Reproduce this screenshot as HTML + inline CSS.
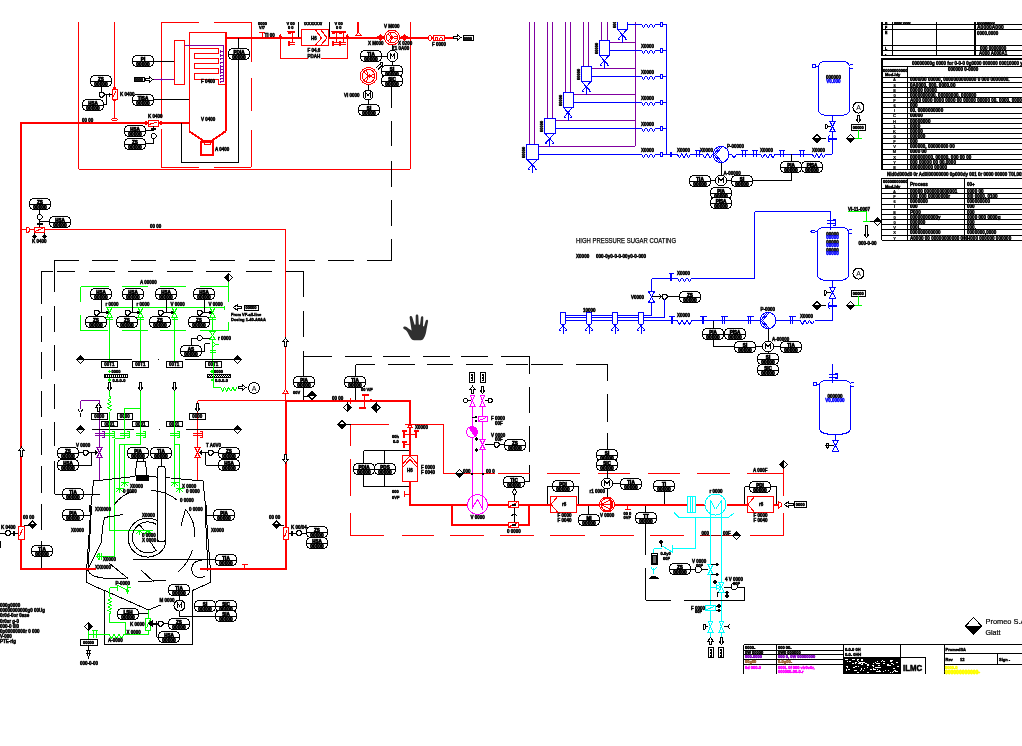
<!DOCTYPE html>
<html><head><meta charset="utf-8"><title>P&amp;ID</title>
<style>html,body{margin:0;padding:0;background:#fff;overflow:hidden}svg{display:block;will-change:transform}text{font-family:"Liberation Sans",sans-serif}</style>
</head><body>
<svg width="1022" height="746" viewBox="0 0 1022 746" shape-rendering="crispEdges" fill="none" stroke-linecap="butt">
<rect x="0" y="0" width="1022" height="746" fill="#fff"/>
<clipPath id="cp"><rect x="0" y="22" width="1022" height="724"/></clipPath>
<g clip-path="url(#cp)">
<path d="M78.5 22L78.5 169" stroke="#ff0000" stroke-width="1"/>
<path d="M78.5 169.5L410 169.5" stroke="#ff0000" stroke-width="1"/>
<path d="M410.5 169L410.5 22" stroke="#ff0000" stroke-width="1"/>
<path d="M161.5 22L161.5 118" stroke="#ff0000" stroke-width="1"/>
<path d="M161.5 129L161.5 167" stroke="#ff0000" stroke-width="1"/>
<path d="M161 22.5L199 22.5" stroke="#ff0000" stroke-width="1"/>
<path d="M214 22.5L251 22.5" stroke="#ff0000" stroke-width="1"/>
<path d="M161 167.5L199 167.5" stroke="#ff0000" stroke-width="1"/>
<path d="M214 167.5L251 167.5" stroke="#ff0000" stroke-width="1"/>
<path d="M251.5 22L251.5 62" stroke="#ff0000" stroke-width="1"/>
<path d="M251.5 77.5L251.5 111" stroke="#ff0000" stroke-width="1"/>
<path d="M251.5 130L251.5 167" stroke="#ff0000" stroke-width="1"/>
<path d="M114.5 22L114.5 120" stroke="#ff0000" stroke-width="1"/>
<rect x="112.5" y="89.5" width="5" height="10" stroke="#ff0000" stroke-width="1" fill="#fff"/>
<path d="M113 97L116 91" stroke="#ff0000" stroke-width="1"/>
<path d="M114.5 87 L115.5 88 L114.5 89 L113.5 88 Z" stroke="#ff0000" stroke-width="1" fill="#ff0000" />
<path d="M114.5 99.5 L115.5 100.5 L114.5 101.5 L113.5 100.5 Z" stroke="#ff0000" stroke-width="1" fill="#ff0000" />
<ellipse cx="114.5" cy="119.5" rx="3" ry="1" stroke="#f00" fill="#fff"/>
<path d="M20 123L189 123" stroke="#ff0000" stroke-width="2"/>
<path d="M21 121.5L21 569" stroke="#ff0000" stroke-width="2"/>
<path d="M189.5 131L189.5 32.5" stroke="#ff0000" stroke-width="1"/>
<path d="M189 32.5L226 32.5" stroke="#ff0000" stroke-width="1"/>
<path d="M226 32L226 131" stroke="#ff0000" stroke-width="2"/>
<path d="M189 131 L203 140.5 L212 140.5 L226 131" stroke="#ff0000" stroke-width="2" fill="none" />
<rect x="201" y="142" width="12" height="13" stroke="#ff0000" stroke-width="2" fill="none"/>
<rect x="204.5" y="141.5" width="6" height="3" stroke="#ff0000" stroke-width="1" fill="none"/>
<path d="M226 38L375 38" stroke="#ff0000" stroke-width="2"/>
<rect x="174.5" y="40.5" width="10" height="44" stroke="#ff0000" stroke-width="1" fill="none"/>
<path d="M189.5 48.5 L218.5 48.5 L218.5 53.5 L194.5 53.5 L194.5 58.5 L218.5 58.5 L218.5 63.5 L194.5 63.5 L194.5 68.5 L218.5 68.5 L218.5 73.5 L194.5 73.5 L194.5 79.5 L218.5 79.5 L218.5 84.5 L226 84.5" stroke="#ff0000" stroke-width="1" fill="none" />
<path d="M184.5 45.5L223.5 45.5" stroke="#8000a0" stroke-width="1"/>
<path d="M223.5 45.5L223.5 82" stroke="#8000a0" stroke-width="1"/>
<path d="M220.5 51.5L223.5 51.5" stroke="#8000a0" stroke-width="1"/>
<path d="M220.5 50L220.5 52.5" stroke="#8000a0" stroke-width="1"/>
<path d="M220.5 55.5L223.5 55.5" stroke="#8000a0" stroke-width="1"/>
<path d="M220.5 54L220.5 56.5" stroke="#8000a0" stroke-width="1"/>
<path d="M220.5 58.5L223.5 58.5" stroke="#8000a0" stroke-width="1"/>
<path d="M220.5 57.5L220.5 60" stroke="#8000a0" stroke-width="1"/>
<path d="M220.5 62.5L223.5 62.5" stroke="#8000a0" stroke-width="1"/>
<path d="M220.5 61.5L220.5 64" stroke="#8000a0" stroke-width="1"/>
<path d="M220.5 66.5L223.5 66.5" stroke="#8000a0" stroke-width="1"/>
<path d="M220.5 65L220.5 67.5" stroke="#8000a0" stroke-width="1"/>
<path d="M220.5 69.5L223.5 69.5" stroke="#8000a0" stroke-width="1"/>
<path d="M220.5 68L220.5 70.5" stroke="#8000a0" stroke-width="1"/>
<path d="M220.5 72.5L223.5 72.5" stroke="#8000a0" stroke-width="1"/>
<path d="M220.5 71L220.5 73.5" stroke="#8000a0" stroke-width="1"/>
<path d="M220.5 75.5L223.5 75.5" stroke="#8000a0" stroke-width="1"/>
<path d="M220.5 74.5L220.5 77" stroke="#8000a0" stroke-width="1"/>
<path d="M220.5 78.5L223.5 78.5" stroke="#8000a0" stroke-width="1"/>
<path d="M220.5 77.5L220.5 80" stroke="#8000a0" stroke-width="1"/>
<path d="M220.5 81.5L223.5 81.5" stroke="#8000a0" stroke-width="1"/>
<path d="M220.5 80.5L220.5 83" stroke="#8000a0" stroke-width="1"/>
<path d="M153 79.5L174 79.5" stroke="#8000a0" stroke-width="1"/>
<path d="M161.5 78L161.5 80.5" stroke="#8000a0" stroke-width="1"/>
<path d="M153 61.5L174 61.5" stroke="#000000" stroke-width="1"/>
<path d="M153 99.5L189 99.5" stroke="#000000" stroke-width="1"/>
<path d="M181.5 123L181.5 162" stroke="#000000" stroke-width="1"/>
<path d="M181 162.5L238.5 162.5" stroke="#000000" stroke-width="1"/>
<path d="M238.5 162L238.5 38" stroke="#000000" stroke-width="1"/>
<rect x="228.5" y="48.5" width="21" height="11" rx="4.5" ry="4.5" stroke="#000" fill="#fff"/>
<path d="M228.5 54.5L249.5 54.5" stroke="#000000" stroke-width="1"/>
<text x="239" y="53.5" font-size="4.6" fill="#000000" font-weight="bold" text-anchor="middle" stroke="#000" stroke-width="0.7">PDIA</text>
<text x="239" y="58.8" font-size="4.8" fill="#000000" font-weight="bold" text-anchor="middle" stroke="#000" stroke-width="0.7">00000</text>
<rect x="132.5" y="55.5" width="21" height="11" rx="4.5" ry="4.5" stroke="#000" fill="#fff"/>
<path d="M132.5 61.5L153.5 61.5" stroke="#000000" stroke-width="1"/>
<text x="143" y="60.5" font-size="4.6" fill="#000000" font-weight="bold" text-anchor="middle" stroke="#000" stroke-width="0.7">PI</text>
<text x="143" y="65.8" font-size="4.8" fill="#000000" font-weight="bold" text-anchor="middle" stroke="#000" stroke-width="0.7">00000</text>
<rect x="132.5" y="94.5" width="21" height="11" rx="4.5" ry="4.5" stroke="#000" fill="#fff"/>
<path d="M132.5 100.5L153.5 100.5" stroke="#000000" stroke-width="1"/>
<text x="143" y="99.5" font-size="4.6" fill="#000000" font-weight="bold" text-anchor="middle" stroke="#000" stroke-width="0.7">TISA</text>
<text x="143" y="104.8" font-size="4.8" fill="#000000" font-weight="bold" text-anchor="middle" stroke="#000" stroke-width="0.7">00000</text>
<rect x="134.5" y="77.5" width="10" height="4" stroke="#000000" stroke-width="1" fill="none"/>
<text x="139" y="81.05" font-size="3.5" fill="#000000" font-weight="bold" text-anchor="middle"  stroke="#000000" stroke-width="0.45">0000</text>
<path d="M145 78.5 L145 80.5 L149.5 80.5 L149.5 82 L153 79.5 L149.5 77 L149.5 78.5 Z" stroke="#000000" stroke-width="1" fill="#fff" />
<rect x="90.5" y="75.5" width="21" height="11" rx="4.5" ry="4.5" stroke="#000" fill="#fff"/>
<path d="M90.5 81.5L111.5 81.5" stroke="#000000" stroke-width="1"/>
<text x="101" y="80.5" font-size="4.6" fill="#000000" font-weight="bold" text-anchor="middle" stroke="#000" stroke-width="0.7">ZS</text>
<text x="101" y="85.8" font-size="4.8" fill="#000000" font-weight="bold" text-anchor="middle" stroke="#000" stroke-width="0.7">00000</text>
<rect x="82.5" y="99.5" width="21" height="11" rx="4.5" ry="4.5" stroke="#000" fill="#fff"/>
<path d="M82.5 105.5L103.5 105.5" stroke="#000000" stroke-width="1"/>
<text x="93" y="104.5" font-size="4.6" fill="#000000" font-weight="bold" text-anchor="middle" stroke="#000" stroke-width="0.7">HSA</text>
<text x="93" y="109.8" font-size="4.8" fill="#000000" font-weight="bold" text-anchor="middle" stroke="#000" stroke-width="0.7">00000</text>
<path d="M101.5 86.5L101.5 92" stroke="#000000" stroke-width="1"/>
<path d="M100.46 92 L102.54 92 L104 93.46 L104 95.54 L102.54 97 L100.46 97 L99 95.54 L99 93.46 Z" stroke="#000000" stroke-width="1" fill="#fff" />
<path d="M104 94.5L112 94.5" stroke="#000000" stroke-width="1"/>
<path d="M103.5 104.5L106 104.5" stroke="#000000" stroke-width="1"/>
<path d="M106.5 104.5L106.5 95" stroke="#000000" stroke-width="1"/>
<path d="M109.5 92.5L109.5 96.5" stroke="#000000" stroke-width="1"/>
<text x="120" y="96" font-size="4.5" fill="#000000" font-weight="bold" text-anchor="start"  stroke="#000000" stroke-width="0.45">K 0400</text>
<rect x="148.5" y="120.5" width="10" height="6" stroke="#ff0000" stroke-width="1" fill="#fff"/>
<path d="M149 124.5L157 122" stroke="#ff0000" stroke-width="1"/>
<path d="M146 121.5 L147.5 123 L146 124.5 L144.5 123 Z" stroke="#ff0000" stroke-width="1" fill="#ff0000" />
<path d="M161 121.5 L162.5 123 L161 124.5 L159.5 123 Z" stroke="#ff0000" stroke-width="1" fill="#ff0000" />
<path d="M153.5 126L153.5 131" stroke="#000000" stroke-width="1"/>
<path d="M151 129L155.5 129" stroke="#000000" stroke-width="2"/>
<path d="M152.46 133.5 L154.54 133.5 L156 134.96 L156 137.04 L154.54 138.5 L152.46 138.5 L151 137.04 L151 134.96 Z" stroke="#000000" stroke-width="1" fill="#fff" />
<rect x="124.5" y="125.5" width="21" height="11" rx="4.5" ry="4.5" stroke="#000" fill="#fff"/>
<path d="M124.5 131.5L145.5 131.5" stroke="#000000" stroke-width="1"/>
<text x="135" y="130.5" font-size="4.6" fill="#000000" font-weight="bold" text-anchor="middle" stroke="#000" stroke-width="0.7">HSA</text>
<text x="135" y="135.8" font-size="4.8" fill="#000000" font-weight="bold" text-anchor="middle" stroke="#000" stroke-width="0.7">00000</text>
<rect x="124.5" y="138.5" width="21" height="11" rx="4.5" ry="4.5" stroke="#000" fill="#fff"/>
<path d="M124.5 144.5L145.5 144.5" stroke="#000000" stroke-width="1"/>
<text x="135" y="143.5" font-size="4.6" fill="#000000" font-weight="bold" text-anchor="middle" stroke="#000" stroke-width="0.7">ZS</text>
<text x="135" y="148.8" font-size="4.8" fill="#000000" font-weight="bold" text-anchor="middle" stroke="#000" stroke-width="0.7">00000</text>
<path d="M145 130.5L153 130.5" stroke="#000000" stroke-width="1"/>
<path d="M145 143.5L153.5 143.5" stroke="#000000" stroke-width="1"/>
<path d="M153.5 143.5L153.5 138.5" stroke="#000000" stroke-width="1"/>
<text x="148" y="117.5" font-size="4.5" fill="#000000" font-weight="bold" text-anchor="start"  stroke="#000000" stroke-width="0.45">K 0400</text>
<text x="82" y="122" font-size="4.5" fill="#000000" font-weight="bold" text-anchor="start"  stroke="#000000" stroke-width="0.45">00 00</text>
<text x="201" y="83" font-size="4.5" fill="#000000" font-weight="bold" text-anchor="start"  stroke="#000000" stroke-width="0.45">F 0400</text>
<text x="201" y="121" font-size="4.5" fill="#000000" font-weight="bold" text-anchor="start"  stroke="#000000" stroke-width="0.45">V 0400</text>
<text x="215" y="151" font-size="4.5" fill="#000000" font-weight="bold" text-anchor="start"  stroke="#000000" stroke-width="0.45">A 0400</text>
<text x="258" y="24.5" font-size="4" fill="#000000" font-weight="bold" text-anchor="start"  stroke="#000000" stroke-width="0.45">0000</text>
<text x="259" y="28.5" font-size="4" fill="#000000" font-weight="bold" text-anchor="start"  stroke="#000000" stroke-width="0.45">V/7</text>
<path d="M262.5 32L262.5 37" stroke="#ff0000" stroke-width="1"/>
<path d="M259 32.5L265 32.5" stroke="#ff0000" stroke-width="1"/>
<text x="264.5" y="37" font-size="4.5" fill="#000000" font-weight="bold" text-anchor="start"  stroke="#000000" stroke-width="0.45">TI 00</text>
<path d="M280.5 38L280.5 58.5" stroke="#ff0000" stroke-width="1"/>
<path d="M280 58.5L307.5 58.5" stroke="#ff0000" stroke-width="1"/>
<path d="M320.5 58.5L347.5 58.5" stroke="#ff0000" stroke-width="1"/>
<path d="M347.5 58.5L347.5 38" stroke="#ff0000" stroke-width="1"/>
<path d="M279 37 L280.5 35 L282 37 Z" stroke="#ff0000" stroke-width="1" fill="#ff0000" />
<path d="M346 37 L347.5 35 L349 37 Z" stroke="#ff0000" stroke-width="1" fill="#ff0000" />
<text x="314" y="58" font-size="4.5" fill="#000000" font-weight="bold" text-anchor="middle"  stroke="#000000" stroke-width="0.45">PDAH</text>
<text x="314" y="52" font-size="4.5" fill="#000000" font-weight="bold" text-anchor="middle"  stroke="#000000" stroke-width="0.45">F 04.6</text>
<path d="M292.5 31L292.5 43" stroke="#ff0000" stroke-width="1"/>
<path d="M288 32L295 32" stroke="#ff0000" stroke-width="2"/>
<path d="M288 31L290 34" stroke="#ff0000" stroke-width="2"/>
<path d="M289 42.5L295 42.5" stroke="#ff0000" stroke-width="1"/>
<path d="M289 44.5L295 44.5" stroke="#ff0000" stroke-width="1"/>
<rect x="288" y="41" width="2" height="5" stroke="#ff0000" stroke-width="0" fill="#ff0000"/>
<text x="286.5" y="25" font-size="4" fill="#000000" font-weight="bold" text-anchor="start"  stroke="#000000" stroke-width="0.45">V 00</text>
<text x="288" y="28.5" font-size="4" fill="#000000" font-weight="bold" text-anchor="start"  stroke="#000000" stroke-width="0.45">0 0</text>
<rect x="301.5" y="29.5" width="27" height="16" stroke="#ff0000" stroke-width="1" fill="#fff"/>
<path d="M315.5 30 L321.5 38 L315.5 45" stroke="#ff0000" stroke-width="1" fill="none" />
<path d="M321 30 L327 38 L321 45" stroke="#ff0000" stroke-width="1" fill="none" />
<text x="311" y="39.5" font-size="4.5" fill="#000000" font-weight="bold" text-anchor="start"  stroke="#000000" stroke-width="0.45">H6</text>
<path d="M298.5 22L298.5 37" stroke="#000000" stroke-width="1"/>
<path d="M329.5 22L329.5 37" stroke="#000000" stroke-width="1"/>
<text x="304" y="25" font-size="4" fill="#000000" font-weight="bold" text-anchor="start"  stroke="#000000" stroke-width="0.45">\XXXXXX/</text>
<path d="M336.5 31L336.5 43" stroke="#ff0000" stroke-width="1"/>
<path d="M332 32L339 32" stroke="#ff0000" stroke-width="2"/>
<path d="M332 31L334 34" stroke="#ff0000" stroke-width="2"/>
<path d="M333 42.5L339 42.5" stroke="#ff0000" stroke-width="1"/>
<path d="M333 44.5L339 44.5" stroke="#ff0000" stroke-width="1"/>
<rect x="332" y="41" width="2" height="5" stroke="#ff0000" stroke-width="0" fill="#ff0000"/>
<path d="M343.5 31L343.5 43" stroke="#ff0000" stroke-width="1"/>
<path d="M339 32L346 32" stroke="#ff0000" stroke-width="2"/>
<path d="M339 31L341 34" stroke="#ff0000" stroke-width="2"/>
<path d="M340 42.5L346 42.5" stroke="#ff0000" stroke-width="1"/>
<path d="M340 44.5L346 44.5" stroke="#ff0000" stroke-width="1"/>
<rect x="339" y="41" width="2" height="5" stroke="#ff0000" stroke-width="0" fill="#ff0000"/>
<text x="334.5" y="25" font-size="4" fill="#000000" font-weight="bold" text-anchor="start"  stroke="#000000" stroke-width="0.45">V 00</text>
<text x="336" y="28.5" font-size="4" fill="#000000" font-weight="bold" text-anchor="start"  stroke="#000000" stroke-width="0.45">0 0</text>
<path d="M358 22L358 33" stroke="#ff0000" stroke-width="2"/>
<path d="M358.5 32.5 L355.5 35.5 L361.5 35.5 Z" stroke="#ff0000" stroke-width="1" fill="#fff" />
<path d="M355 35.5L362 35.5" stroke="#ff0000" stroke-width="1"/>
<path d="M375 38L453 38" stroke="#ff0000" stroke-width="2"/>
<circle cx="392" cy="37.5" r="7.5" stroke="#ff0000" stroke-width="1" fill="#fff"/>
<circle cx="392" cy="37.5" r="5.5" stroke="#ff0000" stroke-width="1" fill="none"/>
<path d="M392 37.5 L397.31 38.92 L397.31 36.08 Z" stroke="#ff0000" stroke-width="1" fill="none" />
<path d="M392 37.5 L390.12 32.33 L387.79 33.96 Z" stroke="#ff0000" stroke-width="1" fill="none" />
<path d="M392 37.5 L387.79 41.04 L390.12 42.67 Z" stroke="#ff0000" stroke-width="1" fill="none" />
<path d="M377 37.5 L380 35 L380 40 Z" stroke="#ff0000" stroke-width="1" fill="#ff0000" />
<path d="M384 37.5 L381 35 L381 40 Z" stroke="#ff0000" stroke-width="1" fill="#ff0000" />
<path d="M401 37.5 L404 35 L404 40 Z" stroke="#ff0000" stroke-width="1" fill="#ff0000" />
<path d="M408 37.5 L405 35 L405 40 Z" stroke="#ff0000" stroke-width="1" fill="#ff0000" />
<text x="384" y="27.5" font-size="4.5" fill="#000000" font-weight="bold" text-anchor="start"  stroke="#000000" stroke-width="0.45">V M000</text>
<text x="368" y="45" font-size="4.5" fill="#000000" font-weight="bold" text-anchor="start"  stroke="#000000" stroke-width="0.45">X M000</text>
<text x="398" y="45" font-size="4.5" fill="#000000" font-weight="bold" text-anchor="start"  stroke="#000000" stroke-width="0.45">X 0200</text>
<text x="392" y="49.5" font-size="4.5" fill="#000000" font-weight="bold" text-anchor="start"  stroke="#000000" stroke-width="0.45">Z1 0A00</text>
<path d="M392.5 45L392.5 50.5" stroke="#000000" stroke-width="1"/>
<circle cx="392.5" cy="56" r="5.5" stroke="#000000" stroke-width="1" fill="#fff"/>
<path d="M390.3 58.5 L390.3 53.5 L392.5 56.5 L394.7 53.5 L394.7 58.5" stroke="#000000" stroke-width="1" fill="none" />
<rect x="360.5" y="50.5" width="21" height="11" rx="4.5" ry="4.5" stroke="#000" fill="#fff"/>
<path d="M360.5 56.5L381.5 56.5" stroke="#000000" stroke-width="1"/>
<text x="371" y="55.5" font-size="4.6" fill="#000000" font-weight="bold" text-anchor="middle" stroke="#000" stroke-width="0.7">TIA</text>
<text x="371" y="60.8" font-size="4.8" fill="#000000" font-weight="bold" text-anchor="middle" stroke="#000" stroke-width="0.7">00000</text>
<path d="M381.5 56.5L387 56.5" stroke="#000000" stroke-width="1"/>
<path d="M392.5 61.5L392.5 86" stroke="#000000" stroke-width="1"/>
<rect x="381.5" y="65.5" width="21" height="11" rx="4.5" ry="4.5" stroke="#000" fill="#fff"/>
<path d="M381.5 71.5L402.5 71.5" stroke="#000000" stroke-width="1"/>
<text x="392" y="70.5" font-size="4.6" fill="#000000" font-weight="bold" text-anchor="middle" stroke="#000" stroke-width="0.7">SI</text>
<text x="392" y="75.8" font-size="4.8" fill="#000000" font-weight="bold" text-anchor="middle" stroke="#000" stroke-width="0.7">00000</text>
<rect x="381.5" y="75.5" width="21" height="11" rx="4.5" ry="4.5" stroke="#000" fill="#fff"/>
<path d="M381.5 81.5L402.5 81.5" stroke="#000000" stroke-width="1"/>
<text x="392" y="80.5" font-size="4.6" fill="#000000" font-weight="bold" text-anchor="middle" stroke="#000" stroke-width="0.7">SIC</text>
<text x="392" y="85.8" font-size="4.8" fill="#000000" font-weight="bold" text-anchor="middle" stroke="#000" stroke-width="0.7">00000</text>
<path d="M391.5 86L391.5 107.5" stroke="#000000" stroke-width="1"/>
<path d="M391.5 121L391.5 146" stroke="#000000" stroke-width="1"/>
<path d="M391.5 161L391.5 187" stroke="#000000" stroke-width="1"/>
<circle cx="368.5" cy="76" r="8.5" stroke="#ff0000" stroke-width="1" fill="#fff"/>
<circle cx="368.5" cy="76" r="6.5" stroke="#ff0000" stroke-width="1" fill="none"/>
<path d="M368.5 76 L374.78 77.68 L374.78 74.32 Z" stroke="#ff0000" stroke-width="1" fill="none" />
<path d="M368.5 76 L366.28 69.89 L363.52 71.82 Z" stroke="#ff0000" stroke-width="1" fill="none" />
<path d="M368.5 76 L363.52 80.18 L366.28 82.11 Z" stroke="#ff0000" stroke-width="1" fill="none" />
<path d="M376 68L381 63.5" stroke="#000000" stroke-width="1"/>
<path d="M378 69.5L382.5 65" stroke="#000000" stroke-width="1"/>
<path d="M380 63 L383 62.5 L382.5 65.5" stroke="#000000" stroke-width="1" fill="none" />
<path d="M368.5 84.5L368.5 90" stroke="#000000" stroke-width="1"/>
<circle cx="368" cy="95" r="5" stroke="#000000" stroke-width="1" fill="#fff"/>
<path d="M365.8 97.5 L365.8 92.5 L368 95.5 L370.2 92.5 L370.2 97.5" stroke="#000000" stroke-width="1" fill="none" />
<text x="344" y="97" font-size="4.5" fill="#000000" font-weight="bold" text-anchor="start"  stroke="#000000" stroke-width="0.45">VI 0000</text>
<path d="M368.5 100L368.5 104.5" stroke="#000000" stroke-width="1"/>
<rect x="358.5" y="104.5" width="21" height="11" rx="4.5" ry="4.5" stroke="#000" fill="#fff"/>
<path d="M358.5 110.5L379.5 110.5" stroke="#000000" stroke-width="1"/>
<text x="369" y="109.5" font-size="4.6" fill="#000000" font-weight="bold" text-anchor="middle" stroke="#000" stroke-width="0.7">SI</text>
<text x="369" y="114.8" font-size="4.8" fill="#000000" font-weight="bold" text-anchor="middle" stroke="#000" stroke-width="0.7">00000</text>
<ellipse cx="430" cy="38" rx="1.5" ry="2.5" stroke="#f00" fill="#fff"/>
<rect x="433.5" y="35.5" width="11" height="5" stroke="#ff0000" stroke-width="1" fill="#fff"/>
<path d="M435.5 40L435.5 37.5" stroke="#ff0000" stroke-width="1"/>
<path d="M435 37.5L437.5 37.5" stroke="#ff0000" stroke-width="1"/>
<path d="M437.5 37.5L437.5 40" stroke="#ff0000" stroke-width="1"/>
<path d="M439.5 40L439.5 37.5" stroke="#ff0000" stroke-width="1"/>
<path d="M439.5 37.5L442 37.5" stroke="#ff0000" stroke-width="1"/>
<path d="M442.5 37.5L442.5 40" stroke="#ff0000" stroke-width="1"/>
<text x="432" y="45.5" font-size="4.5" fill="#000000" font-weight="bold" text-anchor="start"  stroke="#000000" stroke-width="0.45">F 0000</text>
<path d="M453 36.5 L453 38.5 L457.5 38.5 L457.5 40 L461 37.5 L457.5 35 L457.5 36.5 Z" stroke="#000000" stroke-width="1" fill="#fff" />
<rect x="463.5" y="35.5" width="10" height="5" stroke="#000000" stroke-width="1" fill="none"/>
<text x="468" y="39.55" font-size="3.5" fill="#000000" font-weight="bold" text-anchor="middle"  stroke="#000000" stroke-width="0.45">0000</text>
<path d="M529.5 22L529.5 144" stroke="#8000a0" stroke-width="1"/>
<path d="M534.5 22L534.5 144" stroke="#8000a0" stroke-width="1"/>
<path d="M547.5 22L547.5 118" stroke="#8000a0" stroke-width="1"/>
<path d="M552.5 22L552.5 118" stroke="#8000a0" stroke-width="1"/>
<path d="M565.5 22L565.5 92" stroke="#8000a0" stroke-width="1"/>
<path d="M570.5 22L570.5 92" stroke="#8000a0" stroke-width="1"/>
<path d="M583.5 22L583.5 66" stroke="#8000a0" stroke-width="1"/>
<path d="M588.5 22L588.5 66" stroke="#8000a0" stroke-width="1"/>
<path d="M601.5 22L601.5 40" stroke="#8000a0" stroke-width="1"/>
<path d="M607.5 22L607.5 40" stroke="#8000a0" stroke-width="1"/>
<path d="M635.5 22L635.5 146" stroke="#8000a0" stroke-width="1"/>
<path d="M609.5 42.5L635 42.5" stroke="#8000a0" stroke-width="1"/>
<path d="M591.5 68.5L635 68.5" stroke="#8000a0" stroke-width="1"/>
<path d="M573 94.5L635 94.5" stroke="#8000a0" stroke-width="1"/>
<path d="M555 120.5L635 120.5" stroke="#8000a0" stroke-width="1"/>
<path d="M538 146.5L635 146.5" stroke="#8000a0" stroke-width="1"/>
<path d="M617.5 22L617.5 29" stroke="#0000ff" stroke-width="1"/>
<path d="M617 29.5L627.5 29.5" stroke="#0000ff" stroke-width="1"/>
<path d="M627.5 29L627.5 22" stroke="#0000ff" stroke-width="1"/>
<path d="M617 29L626.75 39.5" stroke="#0000ff" stroke-width="1"/>
<path d="M627.5 29L617.75 39.5" stroke="#0000ff" stroke-width="1"/>
<path d="M622.5 35L622.5 42.5" stroke="#0000ff" stroke-width="1"/>
<path d="M618.25 39L622.25 35" stroke="#0000ff" stroke-width="1"/>
<path d="M626.25 39L622.25 35" stroke="#0000ff" stroke-width="1"/>
<path d="M618.25 39L619.75 40" stroke="#0000ff" stroke-width="1"/>
<path d="M626.25 39L624.75 40" stroke="#0000ff" stroke-width="1"/>
<path d="M627.5 24.5L641 24.5" stroke="#0000ff" stroke-width="1"/>
<path d="M641 24 L641.62 24.51 L642.25 25.75 L642.88 26.99 L643.5 27.5 L644.12 26.99 L644.75 25.75 L645.38 24.51 L646 24 L646.62 24.51 L647.25 25.75 L647.88 26.99 L648.5 27.5 L649.12 26.99 L649.75 25.75 L650.38 24.51 L651 24 L651.62 24.51 L652.25 25.75 L652.88 26.99 L653.5 27.5 L654.12 26.99 L654.75 25.75 L655.38 24.51 L656 24" stroke="#0000ff" stroke-width="1" fill="none" />
<path d="M656 24.5L660 24.5" stroke="#0000ff" stroke-width="1"/>
<rect x="660.5" y="22.5" width="2" height="4" stroke="#0000ff" stroke-width="1" fill="#fff"/>
<path d="M663 24.5L666 24.5" stroke="#0000ff" stroke-width="1"/>
<text x="615.5" y="28" font-size="4" fill="#000000" font-weight="bold" text-anchor="start" transform="rotate(-90 615.5 28)" stroke="#000000" stroke-width="0.45">00000</text>
<rect x="599.5" y="40.5" width="10" height="15" stroke="#0000ff" stroke-width="1" fill="#fff"/>
<path d="M599 55L608.75 65.5" stroke="#0000ff" stroke-width="1"/>
<path d="M609.5 55L599.75 65.5" stroke="#0000ff" stroke-width="1"/>
<path d="M604.5 61L604.5 68.5" stroke="#0000ff" stroke-width="1"/>
<path d="M600.25 65L604.25 61" stroke="#0000ff" stroke-width="1"/>
<path d="M608.25 65L604.25 61" stroke="#0000ff" stroke-width="1"/>
<path d="M600.25 65L601.75 66" stroke="#0000ff" stroke-width="1"/>
<path d="M608.25 65L606.75 66" stroke="#0000ff" stroke-width="1"/>
<path d="M609.5 50.5L641 50.5" stroke="#0000ff" stroke-width="1"/>
<path d="M641 50 L641.62 50.51 L642.25 51.75 L642.88 52.99 L643.5 53.5 L644.12 52.99 L644.75 51.75 L645.38 50.51 L646 50 L646.62 50.51 L647.25 51.75 L647.88 52.99 L648.5 53.5 L649.12 52.99 L649.75 51.75 L650.38 50.51 L651 50 L651.62 50.51 L652.25 51.75 L652.88 52.99 L653.5 53.5 L654.12 52.99 L654.75 51.75 L655.38 50.51 L656 50" stroke="#0000ff" stroke-width="1" fill="none" />
<path d="M656 50.5L660 50.5" stroke="#0000ff" stroke-width="1"/>
<rect x="660.5" y="48.5" width="2" height="4" stroke="#0000ff" stroke-width="1" fill="#fff"/>
<path d="M663 50.5L666 50.5" stroke="#0000ff" stroke-width="1"/>
<text x="641" y="47.5" font-size="4.5" fill="#000000" font-weight="bold" text-anchor="start"  stroke="#000000" stroke-width="0.45">X0000</text>
<text x="597.5" y="54" font-size="4" fill="#000000" font-weight="bold" text-anchor="start" transform="rotate(-90 597.5 54)" stroke="#000000" stroke-width="0.45">00000</text>
<rect x="581.5" y="66.5" width="10" height="15" stroke="#0000ff" stroke-width="1" fill="#fff"/>
<path d="M581 81L590.75 91.5" stroke="#0000ff" stroke-width="1"/>
<path d="M591.5 81L581.75 91.5" stroke="#0000ff" stroke-width="1"/>
<path d="M586.5 87L586.5 94.5" stroke="#0000ff" stroke-width="1"/>
<path d="M582.25 91L586.25 87" stroke="#0000ff" stroke-width="1"/>
<path d="M590.25 91L586.25 87" stroke="#0000ff" stroke-width="1"/>
<path d="M582.25 91L583.75 92" stroke="#0000ff" stroke-width="1"/>
<path d="M590.25 91L588.75 92" stroke="#0000ff" stroke-width="1"/>
<path d="M591.5 76.5L641 76.5" stroke="#0000ff" stroke-width="1"/>
<path d="M641 76 L641.62 76.51 L642.25 77.75 L642.88 78.99 L643.5 79.5 L644.12 78.99 L644.75 77.75 L645.38 76.51 L646 76 L646.62 76.51 L647.25 77.75 L647.88 78.99 L648.5 79.5 L649.12 78.99 L649.75 77.75 L650.38 76.51 L651 76 L651.62 76.51 L652.25 77.75 L652.88 78.99 L653.5 79.5 L654.12 78.99 L654.75 77.75 L655.38 76.51 L656 76" stroke="#0000ff" stroke-width="1" fill="none" />
<path d="M656 76.5L660 76.5" stroke="#0000ff" stroke-width="1"/>
<rect x="660.5" y="74.5" width="2" height="4" stroke="#0000ff" stroke-width="1" fill="#fff"/>
<path d="M663 76.5L666 76.5" stroke="#0000ff" stroke-width="1"/>
<text x="641" y="73.5" font-size="4.5" fill="#000000" font-weight="bold" text-anchor="start"  stroke="#000000" stroke-width="0.45">X0000</text>
<text x="579.5" y="80" font-size="4" fill="#000000" font-weight="bold" text-anchor="start" transform="rotate(-90 579.5 80)" stroke="#000000" stroke-width="0.45">00000</text>
<rect x="563.5" y="92.5" width="10" height="15" stroke="#0000ff" stroke-width="1" fill="#fff"/>
<path d="M563 107L572.5 117.5" stroke="#0000ff" stroke-width="1"/>
<path d="M573 107L563.5 117.5" stroke="#0000ff" stroke-width="1"/>
<path d="M568.5 113L568.5 120.5" stroke="#0000ff" stroke-width="1"/>
<path d="M564 117L568 113" stroke="#0000ff" stroke-width="1"/>
<path d="M572 117L568 113" stroke="#0000ff" stroke-width="1"/>
<path d="M564 117L565.5 118" stroke="#0000ff" stroke-width="1"/>
<path d="M572 117L570.5 118" stroke="#0000ff" stroke-width="1"/>
<path d="M573 102.5L641 102.5" stroke="#0000ff" stroke-width="1"/>
<path d="M641 102 L641.62 102.51 L642.25 103.75 L642.88 104.99 L643.5 105.5 L644.12 104.99 L644.75 103.75 L645.38 102.51 L646 102 L646.62 102.51 L647.25 103.75 L647.88 104.99 L648.5 105.5 L649.12 104.99 L649.75 103.75 L650.38 102.51 L651 102 L651.62 102.51 L652.25 103.75 L652.88 104.99 L653.5 105.5 L654.12 104.99 L654.75 103.75 L655.38 102.51 L656 102" stroke="#0000ff" stroke-width="1" fill="none" />
<path d="M656 102.5L660 102.5" stroke="#0000ff" stroke-width="1"/>
<rect x="660.5" y="100.5" width="2" height="4" stroke="#0000ff" stroke-width="1" fill="#fff"/>
<path d="M663 102.5L666 102.5" stroke="#0000ff" stroke-width="1"/>
<text x="641" y="99.5" font-size="4.5" fill="#000000" font-weight="bold" text-anchor="start"  stroke="#000000" stroke-width="0.45">X0000</text>
<text x="561.5" y="106" font-size="4" fill="#000000" font-weight="bold" text-anchor="start" transform="rotate(-90 561.5 106)" stroke="#000000" stroke-width="0.45">00000</text>
<rect x="544.5" y="118.5" width="11" height="15" stroke="#0000ff" stroke-width="1" fill="#fff"/>
<path d="M544.5 133L554.25 143.5" stroke="#0000ff" stroke-width="1"/>
<path d="M555 133L545.25 143.5" stroke="#0000ff" stroke-width="1"/>
<path d="M549.5 139L549.5 146.5" stroke="#0000ff" stroke-width="1"/>
<path d="M545.75 143L549.75 139" stroke="#0000ff" stroke-width="1"/>
<path d="M553.75 143L549.75 139" stroke="#0000ff" stroke-width="1"/>
<path d="M545.75 143L547.25 144" stroke="#0000ff" stroke-width="1"/>
<path d="M553.75 143L552.25 144" stroke="#0000ff" stroke-width="1"/>
<path d="M555 128.5L641 128.5" stroke="#0000ff" stroke-width="1"/>
<path d="M641 128 L641.62 128.51 L642.25 129.75 L642.88 130.99 L643.5 131.5 L644.12 130.99 L644.75 129.75 L645.38 128.51 L646 128 L646.62 128.51 L647.25 129.75 L647.88 130.99 L648.5 131.5 L649.12 130.99 L649.75 129.75 L650.38 128.51 L651 128 L651.62 128.51 L652.25 129.75 L652.88 130.99 L653.5 131.5 L654.12 130.99 L654.75 129.75 L655.38 128.51 L656 128" stroke="#0000ff" stroke-width="1" fill="none" />
<path d="M656 128.5L660 128.5" stroke="#0000ff" stroke-width="1"/>
<rect x="660.5" y="126.5" width="2" height="4" stroke="#0000ff" stroke-width="1" fill="#fff"/>
<path d="M663 128.5L666 128.5" stroke="#0000ff" stroke-width="1"/>
<text x="641" y="125.5" font-size="4.5" fill="#000000" font-weight="bold" text-anchor="start"  stroke="#000000" stroke-width="0.45">X0000</text>
<text x="543" y="132" font-size="4" fill="#000000" font-weight="bold" text-anchor="start" transform="rotate(-90 543 132)" stroke="#000000" stroke-width="0.45">00000</text>
<rect x="526.5" y="144.5" width="12" height="15" stroke="#0000ff" stroke-width="1" fill="#fff"/>
<path d="M526.5 159L536.75 169.5" stroke="#0000ff" stroke-width="1"/>
<path d="M538 159L527.75 169.5" stroke="#0000ff" stroke-width="1"/>
<path d="M532.5 165L532.5 172.5" stroke="#0000ff" stroke-width="1"/>
<path d="M528.25 169L532.25 165" stroke="#0000ff" stroke-width="1"/>
<path d="M536.25 169L532.25 165" stroke="#0000ff" stroke-width="1"/>
<path d="M528.25 169L529.75 170" stroke="#0000ff" stroke-width="1"/>
<path d="M536.25 169L534.75 170" stroke="#0000ff" stroke-width="1"/>
<path d="M538 154.5L641 154.5" stroke="#0000ff" stroke-width="1"/>
<path d="M641 154 L641.62 154.51 L642.25 155.75 L642.88 156.99 L643.5 157.5 L644.12 156.99 L644.75 155.75 L645.38 154.51 L646 154 L646.62 154.51 L647.25 155.75 L647.88 156.99 L648.5 157.5 L649.12 156.99 L649.75 155.75 L650.38 154.51 L651 154 L651.62 154.51 L652.25 155.75 L652.88 156.99 L653.5 157.5 L654.12 156.99 L654.75 155.75 L655.38 154.51 L656 154" stroke="#0000ff" stroke-width="1" fill="none" />
<path d="M656 154.5L660 154.5" stroke="#0000ff" stroke-width="1"/>
<rect x="660.5" y="152.5" width="2" height="4" stroke="#0000ff" stroke-width="1" fill="#fff"/>
<path d="M663 154.5L666 154.5" stroke="#0000ff" stroke-width="1"/>
<text x="641" y="151.5" font-size="4.5" fill="#000000" font-weight="bold" text-anchor="start"  stroke="#000000" stroke-width="0.45">X0000</text>
<text x="525" y="158" font-size="4" fill="#000000" font-weight="bold" text-anchor="start" transform="rotate(-90 525 158)" stroke="#000000" stroke-width="0.45">00000</text>
<path d="M666.5 24L666.5 154" stroke="#0000ff" stroke-width="1"/>
<path d="M666 154.5L677 154.5" stroke="#0000ff" stroke-width="1"/>
<path d="M671 151.5L671 157" stroke="#0000ff" stroke-width="2"/>
<path d="M677 154 L677.58 154.51 L678.17 155.75 L678.75 156.99 L679.33 157.5 L679.92 156.99 L680.5 155.75 L681.08 154.51 L681.67 154 L682.25 154.51 L682.83 155.75 L683.42 156.99 L684 157.5 L684.58 156.99 L685.17 155.75 L685.75 154.51 L686.33 154 L686.92 154.51 L687.5 155.75 L688.08 156.99 L688.67 157.5 L689.25 156.99 L689.83 155.75 L690.42 154.51 L691 154" stroke="#0000ff" stroke-width="1" fill="none" />
<path d="M691 154.5L714 154.5" stroke="#0000ff" stroke-width="1"/>
<text x="677" y="152" font-size="4.5" fill="#000000" font-weight="bold" text-anchor="start"  stroke="#000000" stroke-width="0.45">X0000</text>
<text x="700" y="152" font-size="4.5" fill="#000000" font-weight="bold" text-anchor="start"  stroke="#000000" stroke-width="0.45">X0000</text>
<path d="M696.5 150L696.5 157" stroke="#0000ff" stroke-width="1"/>
<path d="M699.5 150L699.5 157" stroke="#0000ff" stroke-width="1"/>
<path d="M694.5 150.5L701 150.5" stroke="#0000ff" stroke-width="1"/>
<path d="M702 154.5 L713 154.5" stroke="#fff"/>
<path d="M702 154 L702.69 154.51 L703.38 155.75 L704.06 156.99 L704.75 157.5 L705.44 156.99 L706.12 155.75 L706.81 154.51 L707.5 154 L708.19 154.51 L708.88 155.75 L709.56 156.99 L710.25 157.5 L710.94 156.99 L711.62 155.75 L712.31 154.51 L713 154" stroke="#0000ff" stroke-width="1" fill="none" />
<circle cx="721" cy="154.5" r="8" stroke="#0000ff" stroke-width="1" fill="#fff"/>
<path d="M720 147 L713.5 154.5 L720 162" stroke="#0000ff" stroke-width="1" fill="none" />
<path d="M722 147 L715.5 154.5 L722 162" stroke="#0000ff" stroke-width="1" fill="none" />
<text x="727" y="147.5" font-size="4.5" fill="#000000" font-weight="bold" text-anchor="start"  stroke="#000000" stroke-width="0.45">P-00000</text>
<path d="M729 154.5L731 154.5" stroke="#0000ff" stroke-width="1"/>
<path d="M731 154 L731.75 154.51 L732.5 155.75 L733.25 156.99 L734 157.5 L734.75 156.99 L735.5 155.75 L736.25 154.51 L737 154" stroke="#0000ff" stroke-width="1" fill="none" />
<path d="M737 154.5L742 154.5" stroke="#0000ff" stroke-width="1"/>
<path d="M741 154.5L760 154.5" stroke="#0000ff" stroke-width="1"/>
<path d="M742.5 150L742.5 157" stroke="#0000ff" stroke-width="1"/>
<path d="M745.5 150L745.5 157" stroke="#0000ff" stroke-width="1"/>
<path d="M741 150.5L747.5 150.5" stroke="#0000ff" stroke-width="1"/>
<path d="M753.5 150L753.5 157" stroke="#0000ff" stroke-width="1"/>
<path d="M756.5 150L756.5 157" stroke="#0000ff" stroke-width="1"/>
<path d="M751.5 150.5L758 150.5" stroke="#0000ff" stroke-width="1"/>
<path d="M760 154 L760.65 154.51 L761.29 155.75 L761.94 156.99 L762.58 157.5 L763.23 156.99 L763.88 155.75 L764.52 154.51 L765.17 154 L765.81 154.51 L766.46 155.75 L767.1 156.99 L767.75 157.5 L768.4 156.99 L769.04 155.75 L769.69 154.51 L770.33 154 L770.98 154.51 L771.62 155.75 L772.27 156.99 L772.92 157.5 L773.56 156.99 L774.21 155.75 L774.85 154.51 L775.5 154" stroke="#0000ff" stroke-width="1" fill="none" />
<text x="760" y="152" font-size="4.5" fill="#000000" font-weight="bold" text-anchor="start"  stroke="#000000" stroke-width="0.45">X0000</text>
<path d="M776 154.5L812 154.5" stroke="#0000ff" stroke-width="1"/>
<path d="M780.5 150L780.5 157" stroke="#0000ff" stroke-width="1"/>
<path d="M783.5 150L783.5 157" stroke="#0000ff" stroke-width="1"/>
<path d="M778.5 150.5L785 150.5" stroke="#0000ff" stroke-width="1"/>
<path d="M800.5 150L800.5 157" stroke="#0000ff" stroke-width="1"/>
<path d="M803.5 150L803.5 157" stroke="#0000ff" stroke-width="1"/>
<path d="M798.5 150.5L805 150.5" stroke="#0000ff" stroke-width="1"/>
<path d="M812 154 L812.58 154.51 L813.17 155.75 L813.75 156.99 L814.33 157.5 L814.92 156.99 L815.5 155.75 L816.08 154.51 L816.67 154 L817.25 154.51 L817.83 155.75 L818.42 156.99 L819 157.5 L819.58 156.99 L820.17 155.75 L820.75 154.51 L821.33 154 L821.92 154.51 L822.5 155.75 L823.08 156.99 L823.67 157.5 L824.25 156.99 L824.83 155.75 L825.42 154.51 L826 154" stroke="#0000ff" stroke-width="1" fill="none" />
<text x="812" y="152" font-size="4.5" fill="#000000" font-weight="bold" text-anchor="start"  stroke="#000000" stroke-width="0.45">X0000</text>
<path d="M826 154.5L832 154.5" stroke="#0000ff" stroke-width="1"/>
<path d="M832.5 154L832.5 116" stroke="#0000ff" stroke-width="1"/>
<path d="M721.5 162.5L721.5 175" stroke="#000000" stroke-width="1"/>
<circle cx="721" cy="180.5" r="5.5" stroke="#000000" stroke-width="1" fill="#fff"/>
<path d="M718.8 183 L718.8 178 L721 181 L723.2 178 L723.2 183" stroke="#000000" stroke-width="1" fill="none" />
<text x="723.5" y="174.5" font-size="4.5" fill="#000000" font-weight="bold" text-anchor="start"  stroke="#000000" stroke-width="0.45">A-00000</text>
<rect x="689.5" y="175.5" width="21" height="11" rx="4.5" ry="4.5" stroke="#000" fill="#fff"/>
<path d="M689.5 181.5L710.5 181.5" stroke="#000000" stroke-width="1"/>
<text x="700" y="180.5" font-size="4.6" fill="#000000" font-weight="bold" text-anchor="middle" stroke="#000" stroke-width="0.7">TIA</text>
<text x="700" y="185.8" font-size="4.8" fill="#000000" font-weight="bold" text-anchor="middle" stroke="#000" stroke-width="0.7">00000</text>
<rect x="731.5" y="175.5" width="21" height="11" rx="4.5" ry="4.5" stroke="#000" fill="#fff"/>
<path d="M731.5 181.5L752.5 181.5" stroke="#000000" stroke-width="1"/>
<text x="742" y="180.5" font-size="4.6" fill="#000000" font-weight="bold" text-anchor="middle" stroke="#000" stroke-width="0.7">SI</text>
<text x="742" y="185.8" font-size="4.8" fill="#000000" font-weight="bold" text-anchor="middle" stroke="#000" stroke-width="0.7">00000</text>
<path d="M710.5 180.5L715.5 180.5" stroke="#000000" stroke-width="1"/>
<path d="M726.5 180.5L731.5 180.5" stroke="#000000" stroke-width="1"/>
<path d="M752.5 180.5L791 180.5" stroke="#000000" stroke-width="1"/>
<path d="M791.5 180.5L791.5 154" stroke="#000000" stroke-width="1"/>
<rect x="780.5" y="161.5" width="21" height="11" rx="4.5" ry="4.5" stroke="#000" fill="#fff"/>
<path d="M780.5 167.5L801.5 167.5" stroke="#000000" stroke-width="1"/>
<text x="791" y="166.5" font-size="4.6" fill="#000000" font-weight="bold" text-anchor="middle" stroke="#000" stroke-width="0.7">PIA</text>
<text x="791" y="171.8" font-size="4.8" fill="#000000" font-weight="bold" text-anchor="middle" stroke="#000" stroke-width="0.7">00000</text>
<rect x="801.5" y="161.5" width="21" height="11" rx="4.5" ry="4.5" stroke="#000" fill="#fff"/>
<path d="M801.5 167.5L822.5 167.5" stroke="#000000" stroke-width="1"/>
<text x="812" y="166.5" font-size="4.6" fill="#000000" font-weight="bold" text-anchor="middle" stroke="#000" stroke-width="0.7">PISA</text>
<text x="812" y="171.8" font-size="4.8" fill="#000000" font-weight="bold" text-anchor="middle" stroke="#000" stroke-width="0.7">00000</text>
<path d="M818.5 66.5 L818.5 110 Q818.5 114.5 826.5 115.5 L841.5 115.5 Q849.5 114.5 849.5 110 L849.5 66.5" stroke="#0000ff" fill="none"/>
<path d="M818.5 66.5 Q819 62 824.5 61.5 L843.5 61.5 Q849 62 849.5 66.5" stroke="#0000ff" fill="none"/>
<ellipse cx="814" cy="66" rx="2" ry="1.5" stroke="#0000ff" fill="#fff"/>
<path d="M816 66.5L818.5 66.5" stroke="#0000ff" stroke-width="1"/>
<path d="M849.5 64.5L853 64.5" stroke="#0000ff" stroke-width="1"/>
<path d="M849.5 68.5L853 68.5" stroke="#0000ff" stroke-width="1"/>
<text x="833.5" y="78.5" font-size="4.5" fill="#000000" font-weight="bold" text-anchor="middle"  stroke="#000000" stroke-width="0.45">000000</text>
<text x="833.5" y="83" font-size="4.5" fill="#0000ff" font-weight="bold" text-anchor="middle"  stroke="#0000ff" stroke-width="0.45">V0.000</text>
<path d="M832.5 115.5L832.5 154" stroke="#0000ff" stroke-width="1"/>
<path d="M830 121.5 L835 121.5 L830 131.5 L835 131.5 Z" stroke="#0000ff" stroke-width="1" fill="#fff" />
<path d="M828 126.5L831 126.5" stroke="#000000" stroke-width="1"/>
<path d="M825 124.5 L826.5 124.5 Q829 126.5 826.5 128.5 L825 128.5 Z" stroke="#000"/>
<path d="M828 139L837 139" stroke="#0000ff" stroke-width="2"/>
<path d="M830 135.5L828.5 135.5" stroke="#0000ff" stroke-width="1"/>
<path d="M828.5 135.5L828.5 141.5" stroke="#0000ff" stroke-width="1"/>
<path d="M828.5 141.5L830 141.5" stroke="#0000ff" stroke-width="1"/>
<path d="M817 134.5 L821 138.5 L817 142.5 L813 138.5 Z" stroke="#000000" stroke-width="1" fill="#fff" />
<path d="M821 138.5 L817 142.5 L813 138.5 Z" stroke="#000000" stroke-width="1" fill="#000" />
<path d="M821 138.5L826 138.5" stroke="#000000" stroke-width="1"/>
<path d="M850.5 134.5 L854.5 138.5 L850.5 142.5 L846.5 138.5 Z" stroke="#000000" stroke-width="1" fill="#fff" />
<path d="M854.5 138.5 L850.5 142.5 L846.5 138.5 Z" stroke="#000000" stroke-width="1" fill="#000" />
<circle cx="858.5" cy="107.5" r="5.5" stroke="#000000" stroke-width="1" fill="#fff"/>
<text x="858.5" y="110" font-size="7" fill="#000000"  text-anchor="middle" >A</text>
<path d="M857.5 115.5 L859.5 115.5 L859.5 119 L861 119 L858.5 122.5 L856 119 L857.5 119 Z" stroke="#000000" stroke-width="1" fill="#fff" />
<rect x="851.5" y="124.5" width="14" height="6" stroke="#000000" stroke-width="1" fill="none"/>
<text x="858.25" y="129.05" font-size="4" fill="#000000" font-weight="bold" text-anchor="middle"  stroke="#000000" stroke-width="0.45">00000</text>
<path d="M858.5 130L858.5 138.5" stroke="#00ff00" stroke-width="1"/>
<path d="M854.5 138.5L861.5 138.5" stroke="#00ff00" stroke-width="1"/>
<path d="M881.5 24.5L1022 24.5" stroke="#000000" stroke-width="1"/>
<path d="M881.5 29.5L1022 29.5" stroke="#000000" stroke-width="1"/>
<path d="M881.5 45.5L1022 45.5" stroke="#000000" stroke-width="1"/>
<path d="M881.5 50.5L1022 50.5" stroke="#000000" stroke-width="1"/>
<path d="M881.5 55.5L1022 55.5" stroke="#000000" stroke-width="1"/>
<path d="M881.5 22L881.5 55.5" stroke="#000000" stroke-width="1"/>
<path d="M892.5 22L892.5 55.5" stroke="#000000" stroke-width="1"/>
<path d="M936.5 22L936.5 55.5" stroke="#000000" stroke-width="1"/>
<path d="M975 22L975 55.5" stroke="#000000" stroke-width="2"/>
<path d="M882 22L882 55.5" stroke="#000000" stroke-width="2"/>
<text x="885" y="24" font-size="3.5" fill="#000000" font-weight="bold" text-anchor="start"  stroke="#000000" stroke-width="0.45">E</text>
<text x="885" y="28.5" font-size="3.5" fill="#000000" font-weight="bold" text-anchor="start"  stroke="#000000" stroke-width="0.45">F</text>
<text x="885" y="34" font-size="3.5" fill="#000000" font-weight="bold" text-anchor="start"  stroke="#000000" stroke-width="0.45">E</text>
<text x="885" y="49.5" font-size="3.5" fill="#000000" font-weight="bold" text-anchor="start"  stroke="#000000" stroke-width="0.45">L</text>
<text x="885" y="54.5" font-size="3.5" fill="#000000" font-weight="bold" text-anchor="start"  stroke="#000000" stroke-width="0.45">-</text>
<text x="894" y="24" font-size="3.5" fill="#000000" font-weight="bold" text-anchor="start"  stroke="#000000" stroke-width="0.45">0000 0000</text>
<text x="977" y="24" font-size="4" fill="#000000" font-weight="bold" text-anchor="start"  stroke="#000000" stroke-width="0.45">00000000</text>
<text x="977" y="29" font-size="5" fill="#000000" font-weight="bold" text-anchor="start"  stroke="#000000" stroke-width="0.45">A0000A000</text>
<text x="977" y="34.5" font-size="4.5" fill="#000000" font-weight="bold" text-anchor="start"  stroke="#000000" stroke-width="0.45">0000.0000</text>
<text x="980" y="49.5" font-size="4.5" fill="#000000" font-weight="bold" text-anchor="start"  stroke="#000000" stroke-width="0.45">000 0000000</text>
<text x="979" y="54.5" font-size="4.5" fill="#000000" font-weight="bold" text-anchor="start"  stroke="#000000" stroke-width="0.45">A000 A000A1</text>
<path d="M881.5 59L1022 59" stroke="#000000" stroke-width="2"/>
<path d="M882 58L882 169.5" stroke="#000000" stroke-width="2"/>
<path d="M881.5 169.5L1022 169.5" stroke="#000000" stroke-width="1"/>
<path d="M881.5 66.5L1022 66.5" stroke="#000000" stroke-width="1"/>
<path d="M907.5 66.5L907.5 169.5" stroke="#000000" stroke-width="1"/>
<text x="912" y="64.5" font-size="4.5" fill="#000000" font-weight="bold" text-anchor="start"  stroke="#000000" stroke-width="0.45">00000000g 0000 for 0-0-0 0g0000 000000 00010000 y0d  U</text>
<text x="883" y="71.5" font-size="4" fill="#000000" font-weight="bold" text-anchor="start"  stroke="#000000" stroke-width="0.45">00000000000</text>
<text x="885" y="76" font-size="4" fill="#000000" font-weight="bold" text-anchor="start"  stroke="#000000" stroke-width="0.45">Mod-ldy</text>
<text x="948" y="70.5" font-size="4.5" fill="#000000" font-weight="bold" text-anchor="start"  stroke="#000000" stroke-width="0.45">000000 0-0000</text>
<path d="M881.5 77.5L1022 77.5" stroke="#000000" stroke-width="1"/>
<path d="M881.5 82.5L1022 82.5" stroke="#000000" stroke-width="1"/>
<path d="M881.5 87.5L1022 87.5" stroke="#000000" stroke-width="1"/>
<path d="M881.5 92.5L1022 92.5" stroke="#000000" stroke-width="1"/>
<path d="M881.5 97.5L1022 97.5" stroke="#000000" stroke-width="1"/>
<path d="M881.5 102.5L1022 102.5" stroke="#000000" stroke-width="1"/>
<path d="M881.5 107.5L1022 107.5" stroke="#000000" stroke-width="1"/>
<path d="M881.5 113.5L1022 113.5" stroke="#000000" stroke-width="1"/>
<path d="M881.5 118.5L1022 118.5" stroke="#000000" stroke-width="1"/>
<path d="M881.5 123.5L1022 123.5" stroke="#000000" stroke-width="1"/>
<path d="M881.5 128.5L1022 128.5" stroke="#000000" stroke-width="1"/>
<path d="M881.5 133.5L1022 133.5" stroke="#000000" stroke-width="1"/>
<path d="M881.5 138.5L1022 138.5" stroke="#000000" stroke-width="1"/>
<path d="M881.5 143.5L1022 143.5" stroke="#000000" stroke-width="1"/>
<path d="M881.5 149.5L1022 149.5" stroke="#000000" stroke-width="1"/>
<path d="M881.5 154.5L1022 154.5" stroke="#000000" stroke-width="1"/>
<path d="M881.5 159.5L1022 159.5" stroke="#000000" stroke-width="1"/>
<path d="M881.5 164.5L1022 164.5" stroke="#000000" stroke-width="1"/>
<text x="894.5" y="81.4" font-size="4" fill="#000000" font-weight="bold" text-anchor="middle" stroke="#000" stroke-width="0.2">A</text>
<text x="910" y="81.4" font-size="4.6" fill="#000000" font-weight="bold" text-anchor="start"  stroke="#000000" stroke-width="0.45">0000/00 00000, 0000000000000 0 000 0000000.</text>
<text x="894.5" y="86.55" font-size="4" fill="#000000" font-weight="bold" text-anchor="middle" stroke="#000" stroke-width="0.2">8</text>
<text x="910" y="86.55" font-size="4.6" fill="#000000" font-weight="bold" text-anchor="start"  stroke="#000000" stroke-width="0.45">0A0000, 000, 0000.00</text>
<text x="894.5" y="91.69" font-size="4" fill="#000000" font-weight="bold" text-anchor="middle" stroke="#000" stroke-width="0.2">E</text>
<text x="910" y="91.69" font-size="4.6" fill="#000000" font-weight="bold" text-anchor="start"  stroke="#000000" stroke-width="0.45">00000 00000</text>
<text x="894.5" y="96.84" font-size="4" fill="#000000" font-weight="bold" text-anchor="middle" stroke="#000" stroke-width="0.2">0</text>
<text x="910" y="96.84" font-size="4.6" fill="#000000" font-weight="bold" text-anchor="start"  stroke="#000000" stroke-width="0.45">0000000000, 00000000, 000000</text>
<text x="894.5" y="101.98" font-size="4" fill="#000000" font-weight="bold" text-anchor="middle" stroke="#000" stroke-width="0.2">F</text>
<text x="910" y="101.98" font-size="4.6" fill="#000000" font-weight="bold" text-anchor="start"  stroke="#000000" stroke-width="0.45">A000 0000 0000 0000 00 00000  00000 00, 0000, 0000, 00000</text>
<text x="894.5" y="107.12" font-size="4" fill="#000000" font-weight="bold" text-anchor="middle" stroke="#000" stroke-width="0.2">6</text>
<text x="910" y="107.12" font-size="4.6" fill="#000000" font-weight="bold" text-anchor="start"  stroke="#000000" stroke-width="0.45">000</text>
<text x="894.5" y="112.27" font-size="4" fill="#000000" font-weight="bold" text-anchor="middle" stroke="#000" stroke-width="0.2">I</text>
<text x="910" y="112.27" font-size="4.6" fill="#000000" font-weight="bold" text-anchor="start"  stroke="#000000" stroke-width="0.45">00. 0000000000</text>
<text x="894.5" y="117.42" font-size="4" fill="#000000" font-weight="bold" text-anchor="middle" stroke="#000" stroke-width="0.2">C</text>
<text x="910" y="117.42" font-size="4.6" fill="#000000" font-weight="bold" text-anchor="start"  stroke="#000000" stroke-width="0.45">00000</text>
<text x="894.5" y="122.56" font-size="4" fill="#000000" font-weight="bold" text-anchor="middle" stroke="#000" stroke-width="0.2">H</text>
<text x="910" y="122.56" font-size="4.6" fill="#000000" font-weight="bold" text-anchor="start"  stroke="#000000" stroke-width="0.45">00000000</text>
<text x="894.5" y="127.7" font-size="4" fill="#000000" font-weight="bold" text-anchor="middle" stroke="#000" stroke-width="0.2">1</text>
<text x="910" y="127.7" font-size="4.6" fill="#000000" font-weight="bold" text-anchor="start"  stroke="#000000" stroke-width="0.45">0000</text>
<text x="894.5" y="132.85" font-size="4" fill="#000000" font-weight="bold" text-anchor="middle" stroke="#000" stroke-width="0.2">K</text>
<text x="910" y="132.85" font-size="4.6" fill="#000000" font-weight="bold" text-anchor="start"  stroke="#000000" stroke-width="0.45">00000</text>
<text x="894.5" y="138" font-size="4" fill="#000000" font-weight="bold" text-anchor="middle" stroke="#000" stroke-width="0.2">0</text>
<text x="910" y="138" font-size="4.6" fill="#000000" font-weight="bold" text-anchor="start"  stroke="#000000" stroke-width="0.45">000000</text>
<text x="894.5" y="143.14" font-size="4" fill="#000000" font-weight="bold" text-anchor="middle" stroke="#000" stroke-width="0.2">F</text>
<text x="910" y="143.14" font-size="4.6" fill="#000000" font-weight="bold" text-anchor="start"  stroke="#000000" stroke-width="0.45">000</text>
<text x="894.5" y="148.28" font-size="4" fill="#000000" font-weight="bold" text-anchor="middle" stroke="#000" stroke-width="0.2">V</text>
<text x="910" y="148.28" font-size="4.6" fill="#000000" font-weight="bold" text-anchor="start"  stroke="#000000" stroke-width="0.45">000000, 00000000 00</text>
<text x="894.5" y="153.43" font-size="4" fill="#000000" font-weight="bold" text-anchor="middle" stroke="#000" stroke-width="0.2">M</text>
<text x="910" y="153.43" font-size="4.6" fill="#000000" font-weight="bold" text-anchor="start"  stroke="#000000" stroke-width="0.45">0000 00</text>
<text x="894.5" y="158.58" font-size="4" fill="#000000" font-weight="bold" text-anchor="middle" stroke="#000" stroke-width="0.2">X</text>
<text x="910" y="158.58" font-size="4.6" fill="#000000" font-weight="bold" text-anchor="start"  stroke="#000000" stroke-width="0.45">000000000, 00000, 000 00 00</text>
<text x="894.5" y="163.72" font-size="4" fill="#000000" font-weight="bold" text-anchor="middle" stroke="#000" stroke-width="0.2">Y</text>
<text x="910" y="163.72" font-size="4.6" fill="#000000" font-weight="bold" text-anchor="start"  stroke="#000000" stroke-width="0.45">000 00000 00 00.0000</text>
<text x="894.5" y="168.86" font-size="4" fill="#000000" font-weight="bold" text-anchor="middle" stroke="#000" stroke-width="0.2">E</text>
<text x="910" y="168.86" font-size="4.6" fill="#000000" font-weight="bold" text-anchor="start"  stroke="#000000" stroke-width="0.45">000000000 00000</text>
<text x="887" y="176" font-size="4.5" fill="#000000" font-weight="bold" text-anchor="start"  stroke="#000000" stroke-width="0.45">Nid0d000d0 0r Ad0i00000000 0p000dy 001 0r 0000  00000 T0L001 00</text>
<path d="M881.5 178.5L1022 178.5" stroke="#000000" stroke-width="1"/>
<path d="M881.5 188.5L1022 188.5" stroke="#000000" stroke-width="1"/>
<path d="M881.5 193.5L1022 193.5" stroke="#000000" stroke-width="1"/>
<path d="M881.5 198.5L1022 198.5" stroke="#000000" stroke-width="1"/>
<path d="M881.5 204.5L1022 204.5" stroke="#000000" stroke-width="1"/>
<path d="M881.5 209.5L1022 209.5" stroke="#000000" stroke-width="1"/>
<path d="M881.5 214.5L1022 214.5" stroke="#000000" stroke-width="1"/>
<path d="M881.5 219.5L1022 219.5" stroke="#000000" stroke-width="1"/>
<path d="M881.5 224.5L1022 224.5" stroke="#000000" stroke-width="1"/>
<path d="M881.5 229.5L1022 229.5" stroke="#000000" stroke-width="1"/>
<path d="M881.5 235.5L1022 235.5" stroke="#000000" stroke-width="1"/>
<path d="M881.5 240.5L1022 240.5" stroke="#000000" stroke-width="1"/>
<path d="M881.5 178L881.5 240.3" stroke="#000000" stroke-width="1"/>
<path d="M907.5 178L907.5 240.3" stroke="#000000" stroke-width="1"/>
<path d="M964.5 178L964.5 240.3" stroke="#000000" stroke-width="1"/>
<text x="883" y="182.5" font-size="4" fill="#000000" font-weight="bold" text-anchor="start"  stroke="#000000" stroke-width="0.45">00000000000</text>
<text x="885" y="187.5" font-size="4" fill="#000000" font-weight="bold" text-anchor="start"  stroke="#000000" stroke-width="0.45">Mod-ldy</text>
<text x="910" y="185.5" font-size="4.6" fill="#000000" font-weight="bold" text-anchor="start"  stroke="#000000" stroke-width="0.45">Process</text>
<text x="967" y="185.5" font-size="4.6" fill="#000000" font-weight="bold" text-anchor="start"  stroke="#000000" stroke-width="0.45">00+</text>
<text x="894.5" y="192.9" font-size="4" fill="#000000" font-weight="bold" text-anchor="middle" stroke="#000" stroke-width="0.2">A</text>
<text x="910" y="192.9" font-size="4.6" fill="#000000" font-weight="bold" text-anchor="start"  stroke="#000000" stroke-width="0.45">00000 0000000000001</text>
<text x="967" y="192.9" font-size="4.6" fill="#000000" font-weight="bold" text-anchor="start"  stroke="#000000" stroke-width="0.45">0000 00</text>
<text x="894.5" y="198.08" font-size="4" fill="#000000" font-weight="bold" text-anchor="middle" stroke="#000" stroke-width="0.2">F</text>
<text x="910" y="198.08" font-size="4.6" fill="#000000" font-weight="bold" text-anchor="start"  stroke="#000000" stroke-width="0.45">000 000 00000000r</text>
<text x="967" y="198.08" font-size="4.6" fill="#000000" font-weight="bold" text-anchor="start"  stroke="#000000" stroke-width="0.45">0l0 0000, 0100</text>
<text x="894.5" y="203.26" font-size="4" fill="#000000" font-weight="bold" text-anchor="middle" stroke="#000" stroke-width="0.2">6</text>
<text x="910" y="203.26" font-size="4.6" fill="#000000" font-weight="bold" text-anchor="start"  stroke="#000000" stroke-width="0.45">0000000</text>
<text x="967" y="203.26" font-size="4.6" fill="#000000" font-weight="bold" text-anchor="start"  stroke="#000000" stroke-width="0.45">000000000</text>
<text x="894.5" y="208.44" font-size="4" fill="#000000" font-weight="bold" text-anchor="middle" stroke="#000" stroke-width="0.2">I</text>
<text x="910" y="208.44" font-size="4.6" fill="#000000" font-weight="bold" text-anchor="start"  stroke="#000000" stroke-width="0.45">000</text>
<text x="967" y="208.44" font-size="4.6" fill="#000000" font-weight="bold" text-anchor="start"  stroke="#000000" stroke-width="0.45">000</text>
<text x="894.5" y="213.62" font-size="4" fill="#000000" font-weight="bold" text-anchor="middle" stroke="#000" stroke-width="0.2">E</text>
<text x="910" y="213.62" font-size="4.6" fill="#000000" font-weight="bold" text-anchor="start"  stroke="#000000" stroke-width="0.45">P000</text>
<text x="967" y="213.62" font-size="4.6" fill="#000000" font-weight="bold" text-anchor="start"  stroke="#000000" stroke-width="0.45">000</text>
<text x="894.5" y="218.8" font-size="4" fill="#000000" font-weight="bold" text-anchor="middle" stroke="#000" stroke-width="0.2">0</text>
<text x="910" y="218.8" font-size="4.6" fill="#000000" font-weight="bold" text-anchor="start"  stroke="#000000" stroke-width="0.45">00000000000y</text>
<text x="967" y="218.8" font-size="4.6" fill="#000000" font-weight="bold" text-anchor="start"  stroke="#000000" stroke-width="0.45">0000 000 0000g</text>
<text x="894.5" y="223.98" font-size="4" fill="#000000" font-weight="bold" text-anchor="middle" stroke="#000" stroke-width="0.2">0</text>
<text x="910" y="223.98" font-size="4.6" fill="#000000" font-weight="bold" text-anchor="start"  stroke="#000000" stroke-width="0.45">000000</text>
<text x="967" y="223.98" font-size="4.6" fill="#000000" font-weight="bold" text-anchor="start"  stroke="#000000" stroke-width="0.45">000</text>
<text x="894.5" y="229.16" font-size="4" fill="#000000" font-weight="bold" text-anchor="middle" stroke="#000" stroke-width="0.2">V</text>
<text x="910" y="229.16" font-size="4.6" fill="#000000" font-weight="bold" text-anchor="start"  stroke="#000000" stroke-width="0.45">000L</text>
<text x="967" y="229.16" font-size="4.6" fill="#000000" font-weight="bold" text-anchor="start"  stroke="#000000" stroke-width="0.45">000.</text>
<text x="894.5" y="234.34" font-size="4" fill="#000000" font-weight="bold" text-anchor="middle" stroke="#000" stroke-width="0.2">X</text>
<text x="910" y="234.34" font-size="4.6" fill="#000000" font-weight="bold" text-anchor="start"  stroke="#000000" stroke-width="0.45">000000000000</text>
<text x="967" y="234.34" font-size="4.6" fill="#000000" font-weight="bold" text-anchor="start"  stroke="#000000" stroke-width="0.45">0000000,0000</text>
<text x="894.5" y="239.52" font-size="4" fill="#000000" font-weight="bold" text-anchor="middle" stroke="#000" stroke-width="0.2">Y</text>
<text x="910" y="239.52" font-size="4.6" fill="#000000" font-weight="bold" text-anchor="start"  stroke="#000000" stroke-width="0.45">A0000 00 00000000000 000</text>
<text x="967" y="239.52" font-size="4.6" fill="#000000" font-weight="bold" text-anchor="start"  stroke="#000000" stroke-width="0.45">H000 000000 000000</text>
<rect x="710.5" y="187.5" width="21" height="11" rx="4.5" ry="4.5" stroke="#000" fill="#fff"/>
<path d="M710.5 193.5L731.5 193.5" stroke="#000000" stroke-width="1"/>
<text x="721" y="192.5" font-size="4.6" fill="#000000" font-weight="bold" text-anchor="middle" stroke="#000" stroke-width="0.7">PIA</text>
<text x="721" y="197.8" font-size="4.8" fill="#000000" font-weight="bold" text-anchor="middle" stroke="#000" stroke-width="0.7">00000</text>
<rect x="710.5" y="197.5" width="21" height="11" rx="4.5" ry="4.5" stroke="#000" fill="#fff"/>
<path d="M710.5 203.5L731.5 203.5" stroke="#000000" stroke-width="1"/>
<text x="721" y="202.5" font-size="4.6" fill="#000000" font-weight="bold" text-anchor="middle" stroke="#000" stroke-width="0.7">PISA</text>
<text x="721" y="207.8" font-size="4.8" fill="#000000" font-weight="bold" text-anchor="middle" stroke="#000" stroke-width="0.7">00000</text>
<path d="M651.5 315.5L651.5 278.5" stroke="#0000ff" stroke-width="1"/>
<path d="M651.5 278.5L754.5 278.5" stroke="#0000ff" stroke-width="1"/>
<path d="M754.5 278.5L754.5 211.5" stroke="#0000ff" stroke-width="1"/>
<path d="M754.5 211.5L830.5 211.5" stroke="#0000ff" stroke-width="1"/>
<path d="M830.5 211.5L830.5 227" stroke="#0000ff" stroke-width="1"/>
<path d="M671 274L671 281" stroke="#0000ff" stroke-width="2"/>
<path d="M669 273.5L674 273.5" stroke="#0000ff" stroke-width="1"/>
<path d="M677 278 L692 278" stroke="#fff" stroke-width="1"/>
<path d="M677 278 L677.62 278.51 L678.25 279.75 L678.88 280.99 L679.5 281.5 L680.12 280.99 L680.75 279.75 L681.38 278.51 L682 278 L682.62 278.51 L683.25 279.75 L683.88 280.99 L684.5 281.5 L685.12 280.99 L685.75 279.75 L686.38 278.51 L687 278 L687.62 278.51 L688.25 279.75 L688.88 280.99 L689.5 281.5 L690.12 280.99 L690.75 279.75 L691.38 278.51 L692 278" stroke="#0000ff" stroke-width="1" fill="none" />
<text x="677" y="274.5" font-size="4.5" fill="#000000" font-weight="bold" text-anchor="start"  stroke="#000000" stroke-width="0.45">X0000</text>
<path d="M648.5 291.5 L654.5 291.5 L648.5 302.5 L654.5 302.5 Z" stroke="#0000ff" stroke-width="1" fill="#fff" />
<text x="631" y="298.5" font-size="4.5" fill="#000000" font-weight="bold" text-anchor="start"  stroke="#000000" stroke-width="0.45">V0000</text>
<path d="M652 296.5L661.5 296.5" stroke="#000000" stroke-width="1"/>
<path d="M659 294 L661.5 296.5 L659 299" stroke="#000000" stroke-width="1" fill="none" />
<path d="M663.46 294 L665.54 294 L667 295.46 L667 297.54 L665.54 299 L663.46 299 L662 297.54 L662 295.46 Z" stroke="#000000" stroke-width="1" fill="#fff" />
<path d="M667 296.5L679 296.5" stroke="#000000" stroke-width="1"/>
<rect x="679.5" y="291.5" width="21" height="11" rx="4.5" ry="4.5" stroke="#000" fill="#fff"/>
<path d="M679.5 297.5L700.5 297.5" stroke="#000000" stroke-width="1"/>
<text x="690" y="296.5" font-size="4.6" fill="#000000" font-weight="bold" text-anchor="middle" stroke="#000" stroke-width="0.7">ZS</text>
<text x="690" y="301.8" font-size="4.8" fill="#000000" font-weight="bold" text-anchor="middle" stroke="#000" stroke-width="0.7">00000</text>
<path d="M664.5 299L664.5 317.5" stroke="#0000ff" stroke-width="1"/>
<path d="M560 315.5L651 315.5" stroke="#0000ff" stroke-width="1"/>
<path d="M560 317.5L664 317.5" stroke="#0000ff" stroke-width="1"/>
<path d="M560 320.5L759 320.5" stroke="#0000ff" stroke-width="1"/>
<path d="M560 312.5 L565.5 312.5 L565.5 323.5 L563 325.5 L560.5 323.5 L560 323.5 Z" stroke="#0000ff" stroke-width="1" fill="#fff" />
<path d="M563.5 326L563.5 333.5" stroke="#0000ff" stroke-width="1"/>
<path d="M559 330L563 326" stroke="#0000ff" stroke-width="1"/>
<path d="M567 330L563 326" stroke="#0000ff" stroke-width="1"/>
<path d="M559 330L560.5 331" stroke="#0000ff" stroke-width="1"/>
<path d="M567 330L565.5 331" stroke="#0000ff" stroke-width="1"/>
<path d="M586 312.5 L591.5 312.5 L591.5 323.5 L589 325.5 L586.5 323.5 L586 323.5 Z" stroke="#0000ff" stroke-width="1" fill="#fff" />
<path d="M589.5 326L589.5 333.5" stroke="#0000ff" stroke-width="1"/>
<path d="M585 330L589 326" stroke="#0000ff" stroke-width="1"/>
<path d="M593 330L589 326" stroke="#0000ff" stroke-width="1"/>
<path d="M585 330L586.5 331" stroke="#0000ff" stroke-width="1"/>
<path d="M593 330L591.5 331" stroke="#0000ff" stroke-width="1"/>
<path d="M612 312.5 L617.5 312.5 L617.5 323.5 L615 325.5 L612.5 323.5 L612 323.5 Z" stroke="#0000ff" stroke-width="1" fill="#fff" />
<path d="M615.5 326L615.5 333.5" stroke="#0000ff" stroke-width="1"/>
<path d="M611 330L615 326" stroke="#0000ff" stroke-width="1"/>
<path d="M619 330L615 326" stroke="#0000ff" stroke-width="1"/>
<path d="M611 330L612.5 331" stroke="#0000ff" stroke-width="1"/>
<path d="M619 330L617.5 331" stroke="#0000ff" stroke-width="1"/>
<path d="M638 312.5 L643.5 312.5 L643.5 323.5 L641 325.5 L638.5 323.5 L638 323.5 Z" stroke="#0000ff" stroke-width="1" fill="#fff" />
<path d="M641.5 326L641.5 333.5" stroke="#0000ff" stroke-width="1"/>
<path d="M637 330L641 326" stroke="#0000ff" stroke-width="1"/>
<path d="M645 330L641 326" stroke="#0000ff" stroke-width="1"/>
<path d="M637 330L638.5 331" stroke="#0000ff" stroke-width="1"/>
<path d="M645 330L643.5 331" stroke="#0000ff" stroke-width="1"/>
<text x="583" y="311.5" font-size="4.5" fill="#000000" font-weight="bold" text-anchor="start"  stroke="#000000" stroke-width="0.45">10000</text>
<path d="M672 316L672 324" stroke="#0000ff" stroke-width="2"/>
<path d="M668.5 316.5L675 316.5" stroke="#0000ff" stroke-width="1"/>
<path d="M677 320.5 L692 320.5" stroke="#fff" stroke-width="1"/>
<path d="M677 320.5 L677.62 321.01 L678.25 322.25 L678.88 323.49 L679.5 324 L680.12 323.49 L680.75 322.25 L681.38 321.01 L682 320.5 L682.62 321.01 L683.25 322.25 L683.88 323.49 L684.5 324 L685.12 323.49 L685.75 322.25 L686.38 321.01 L687 320.5 L687.62 321.01 L688.25 322.25 L688.88 323.49 L689.5 324 L690.12 323.49 L690.75 322.25 L691.38 321.01 L692 320.5" stroke="#0000ff" stroke-width="1" fill="none" />
<text x="677" y="317" font-size="4.5" fill="#000000" font-weight="bold" text-anchor="start"  stroke="#000000" stroke-width="0.45">X0000</text>
<path d="M703 316L703 324" stroke="#0000ff" stroke-width="2"/>
<path d="M700 316.5L706.5 316.5" stroke="#0000ff" stroke-width="1"/>
<path d="M722.5 316L722.5 324" stroke="#0000ff" stroke-width="1"/>
<path d="M724.5 316L724.5 324" stroke="#0000ff" stroke-width="1"/>
<path d="M721 316.5L727.5 316.5" stroke="#0000ff" stroke-width="1"/>
<path d="M748.5 316L748.5 324" stroke="#0000ff" stroke-width="1"/>
<path d="M750.5 316L750.5 324" stroke="#0000ff" stroke-width="1"/>
<path d="M747 316.5L753.5 316.5" stroke="#0000ff" stroke-width="1"/>
<path d="M713.5 320.5L713.5 346.5" stroke="#000000" stroke-width="1"/>
<path d="M713.5 346.5L734 346.5" stroke="#000000" stroke-width="1"/>
<rect x="702.5" y="328.5" width="21" height="11" rx="4.5" ry="4.5" stroke="#000" fill="#fff"/>
<path d="M702.5 334.5L723.5 334.5" stroke="#000000" stroke-width="1"/>
<text x="713" y="333.5" font-size="4.6" fill="#000000" font-weight="bold" text-anchor="middle" stroke="#000" stroke-width="0.7">PIA</text>
<text x="713" y="338.8" font-size="4.8" fill="#000000" font-weight="bold" text-anchor="middle" stroke="#000" stroke-width="0.7">00000</text>
<rect x="724.5" y="328.5" width="21" height="11" rx="4.5" ry="4.5" stroke="#000" fill="#fff"/>
<path d="M724.5 334.5L745.5 334.5" stroke="#000000" stroke-width="1"/>
<text x="735" y="333.5" font-size="4.6" fill="#000000" font-weight="bold" text-anchor="middle" stroke="#000" stroke-width="0.7">PISA</text>
<text x="735" y="338.8" font-size="4.8" fill="#000000" font-weight="bold" text-anchor="middle" stroke="#000" stroke-width="0.7">00000</text>
<rect x="734.5" y="341.5" width="21" height="11" rx="4.5" ry="4.5" stroke="#000" fill="#fff"/>
<path d="M734.5 347.5L755.5 347.5" stroke="#000000" stroke-width="1"/>
<text x="745" y="346.5" font-size="4.6" fill="#000000" font-weight="bold" text-anchor="middle" stroke="#000" stroke-width="0.7">SI</text>
<text x="745" y="351.8" font-size="4.8" fill="#000000" font-weight="bold" text-anchor="middle" stroke="#000" stroke-width="0.7">00000</text>
<path d="M755 346.5L762 346.5" stroke="#000000" stroke-width="1"/>
<circle cx="768" cy="320.5" r="8" stroke="#0000ff" stroke-width="1" fill="#fff"/>
<path d="M767 313 L760.5 320.5 L767 328" stroke="#0000ff" stroke-width="1" fill="none" />
<path d="M769 313 L762.5 320.5 L769 328" stroke="#0000ff" stroke-width="1" fill="none" />
<text x="760.5" y="310.5" font-size="4.5" fill="#000000" font-weight="bold" text-anchor="start"  stroke="#000000" stroke-width="0.45">P-0000</text>
<path d="M768.5 328.5L768.5 341" stroke="#000000" stroke-width="1"/>
<circle cx="768" cy="346.5" r="5.5" stroke="#000000" stroke-width="1" fill="#fff"/>
<path d="M765.8 349 L765.8 344 L768 347 L770.2 344 L770.2 349" stroke="#000000" stroke-width="1" fill="none" />
<text x="772" y="340.5" font-size="4.5" fill="#000000" font-weight="bold" text-anchor="start"  stroke="#000000" stroke-width="0.45">A-00000</text>
<path d="M773.5 346.5L780.5 346.5" stroke="#000000" stroke-width="1"/>
<rect x="780.5" y="341.5" width="21" height="11" rx="4.5" ry="4.5" stroke="#000" fill="#fff"/>
<path d="M780.5 347.5L801.5 347.5" stroke="#000000" stroke-width="1"/>
<text x="791" y="346.5" font-size="4.6" fill="#000000" font-weight="bold" text-anchor="middle" stroke="#000" stroke-width="0.7">TIA</text>
<text x="791" y="351.8" font-size="4.8" fill="#000000" font-weight="bold" text-anchor="middle" stroke="#000" stroke-width="0.7">00000</text>
<rect x="757.5" y="353.5" width="21" height="11" rx="4.5" ry="4.5" stroke="#000" fill="#fff"/>
<path d="M757.5 359.5L778.5 359.5" stroke="#000000" stroke-width="1"/>
<text x="768" y="358.5" font-size="4.6" fill="#000000" font-weight="bold" text-anchor="middle" stroke="#000" stroke-width="0.7">SI</text>
<text x="768" y="363.8" font-size="4.8" fill="#000000" font-weight="bold" text-anchor="middle" stroke="#000" stroke-width="0.7">00000</text>
<rect x="757.5" y="364.5" width="21" height="11" rx="4.5" ry="4.5" stroke="#000" fill="#fff"/>
<path d="M757.5 370.5L778.5 370.5" stroke="#000000" stroke-width="1"/>
<text x="768" y="369.5" font-size="4.6" fill="#000000" font-weight="bold" text-anchor="middle" stroke="#000" stroke-width="0.7">SIC</text>
<text x="768" y="374.8" font-size="4.8" fill="#000000" font-weight="bold" text-anchor="middle" stroke="#000" stroke-width="0.7">00000</text>
<path d="M768.5 352L768.5 354" stroke="#000000" stroke-width="1"/>
<path d="M776 320.5L832.5 320.5" stroke="#0000ff" stroke-width="1"/>
<path d="M832.5 320.5L832.5 281" stroke="#0000ff" stroke-width="1"/>
<path d="M790.5 316L790.5 324" stroke="#0000ff" stroke-width="1"/>
<path d="M792.5 316L792.5 324" stroke="#0000ff" stroke-width="1"/>
<path d="M789 316.5L795.5 316.5" stroke="#0000ff" stroke-width="1"/>
<path d="M800 320.5 L814.5 320.5" stroke="#fff" stroke-width="1"/>
<path d="M800 320.5 L800.6 321.01 L801.21 322.25 L801.81 323.49 L802.42 324 L803.02 323.49 L803.62 322.25 L804.23 321.01 L804.83 320.5 L805.44 321.01 L806.04 322.25 L806.65 323.49 L807.25 324 L807.85 323.49 L808.46 322.25 L809.06 321.01 L809.67 320.5 L810.27 321.01 L810.88 322.25 L811.48 323.49 L812.08 324 L812.69 323.49 L813.29 322.25 L813.9 321.01 L814.5 320.5" stroke="#0000ff" stroke-width="1" fill="none" />
<text x="800" y="317.5" font-size="4.5" fill="#000000" font-weight="bold" text-anchor="start"  stroke="#000000" stroke-width="0.45">X0000</text>
<path d="M830.5 227L830.5 229.5" stroke="#0000ff" stroke-width="1"/>
<path d="M826.5 220.5L835.5 220.5" stroke="#0000ff" stroke-width="1"/>
<path d="M826.5 223.5L835.5 223.5" stroke="#0000ff" stroke-width="1"/>
<path d="M835.5 219L835.5 226" stroke="#0000ff" stroke-width="1"/>
<path d="M833 219.5L835.5 219.5" stroke="#0000ff" stroke-width="1"/>
<path d="M833 225.5L835.5 225.5" stroke="#0000ff" stroke-width="1"/>
<path d="M817.5 232 L817.5 274.5 Q817.5 279.5 825.5 280.5 L840.5 280.5 Q848.5 279.5 848.5 274.5 L848.5 232" stroke="#0000ff" fill="none"/>
<path d="M817.5 232 Q818 228 823.5 227.5 L842.5 227.5 Q848 228 848.5 232" stroke="#0000ff" fill="none"/>
<ellipse cx="813" cy="231.5" rx="2" ry="1.5" stroke="#0000ff" fill="#fff"/>
<path d="M815 231.5L817.5 231.5" stroke="#0000ff" stroke-width="1"/>
<path d="M848.5 229.5L852 229.5" stroke="#0000ff" stroke-width="1"/>
<path d="M848.5 233.5L852 233.5" stroke="#0000ff" stroke-width="1"/>
<text x="832.5" y="236" font-size="4.5" fill="#000000" font-weight="bold" text-anchor="middle"  stroke="#000000" stroke-width="0.45">00000</text>
<text x="832.5" y="238.5" font-size="4.5" fill="#0000ff" font-weight="bold" text-anchor="middle"  stroke="#0000ff" stroke-width="0.45">00000</text>
<text x="832.5" y="244" font-size="4.5" fill="#000000" font-weight="bold" text-anchor="middle"  stroke="#000000" stroke-width="0.45">00000</text>
<text x="832.5" y="246.5" font-size="4.5" fill="#0000ff" font-weight="bold" text-anchor="middle"  stroke="#0000ff" stroke-width="0.45">00000</text>
<text x="832.5" y="252" font-size="4.5" fill="#000000" font-weight="bold" text-anchor="middle"  stroke="#000000" stroke-width="0.45">00000</text>
<text x="832.5" y="254.5" font-size="4.5" fill="#0000ff" font-weight="bold" text-anchor="middle"  stroke="#0000ff" stroke-width="0.45">00000</text>
<path d="M832.5 281L832.5 320.5" stroke="#0000ff" stroke-width="1"/>
<path d="M829.5 287 L835.5 287 L829.5 298 L835.5 298 Z" stroke="#0000ff" stroke-width="1" fill="#fff" />
<path d="M827 292.5L831 292.5" stroke="#000000" stroke-width="1"/>
<path d="M824 290 L825.5 290 Q828 292.5 825.5 295 L824 295 Z" stroke="#000"/>
<path d="M828 306L837 306" stroke="#0000ff" stroke-width="2"/>
<path d="M830 302.5L828.5 302.5" stroke="#0000ff" stroke-width="1"/>
<path d="M828.5 302.5L828.5 308" stroke="#0000ff" stroke-width="1"/>
<path d="M828.5 308.5L830 308.5" stroke="#0000ff" stroke-width="1"/>
<path d="M817 301.5 L821 305.5 L817 309.5 L813 305.5 Z" stroke="#000000" stroke-width="1" fill="#fff" />
<path d="M821 305.5 L817 309.5 L813 305.5 Z" stroke="#000000" stroke-width="1" fill="#000" />
<path d="M821 305.5L826 305.5" stroke="#000000" stroke-width="1"/>
<path d="M850.5 301.5 L854.5 305.5 L850.5 309.5 L846.5 305.5 Z" stroke="#000000" stroke-width="1" fill="#fff" />
<path d="M854.5 305.5 L850.5 309.5 L846.5 305.5 Z" stroke="#000000" stroke-width="1" fill="#000" />
<rect x="851.5" y="290.5" width="14" height="6" stroke="#000000" stroke-width="1" fill="none"/>
<text x="858.25" y="295.05" font-size="4" fill="#000000" font-weight="bold" text-anchor="middle"  stroke="#000000" stroke-width="0.45">00000</text>
<path d="M858.5 296L858.5 305.5" stroke="#00ff00" stroke-width="1"/>
<path d="M854.5 305.5L862 305.5" stroke="#00ff00" stroke-width="1"/>
<circle cx="858.5" cy="273.5" r="5.5" stroke="#000000" stroke-width="1" fill="#fff"/>
<text x="858.5" y="276" font-size="7" fill="#000000"  text-anchor="middle" >A</text>
<text x="848" y="210.5" font-size="4.5" fill="#000000" font-weight="bold" text-anchor="start"  stroke="#000000" stroke-width="0.45">VI-11-0007</text>
<path d="M848 211.5L866.5 211.5" stroke="#00ff00" stroke-width="1"/>
<path d="M866.5 211.5L866.5 221.5" stroke="#00ff00" stroke-width="1"/>
<path d="M866.5 221.5L862.5 221.5" stroke="#00ff00" stroke-width="1"/>
<path d="M866.5 221.5L870 221.5" stroke="#00ff00" stroke-width="1"/>
<path d="M870 221.5L873.5 221.5" stroke="#000000" stroke-width="1"/>
<path d="M877.5 217.5 L881.5 221.5 L877.5 225.5 L873.5 221.5 Z" stroke="#000000" stroke-width="1" fill="#fff" />
<path d="M873.5 221.5 L877.5 217.5 L881.5 221.5 Z" stroke="#000000" stroke-width="1" fill="#000" />
<path d="M865.5 225.5 L867.5 225.5 L867.5 234 L869 234 L866.5 237.5 L864 234 L865.5 234 Z" stroke="#000000" stroke-width="1" fill="#fff" />
<text x="858.5" y="244.5" font-size="4.5" fill="#000000" font-weight="bold" text-anchor="start"  stroke="#000000" stroke-width="0.45">000-0-00</text>
<path d="M832.5 364L832.5 374" stroke="#0000ff" stroke-width="1"/>
<text x="576" y="243" font-size="7.7" fill="#000000"  text-anchor="start" textLength="100" lengthAdjust="spacingAndGlyphs" stroke="#000" stroke-width="0.25">HIGH PRESSURE SUGAR COATING</text>
<text x="576" y="258" font-size="4.6" fill="#000000" font-weight="bold" text-anchor="start"  stroke="#000000" stroke-width="0.45">X0000</text>
<text x="596" y="258" font-size="4.6" fill="#000000" font-weight="bold" text-anchor="start"  stroke="#000000" stroke-width="0.45">000-0y0-0-0-00y0-0-000</text>
<path d="M512 356.5L529.5 356.5" stroke="#000000" stroke-width="1"/>
<path d="M529.5 356L529.5 374" stroke="#000000" stroke-width="1"/>
<path d="M532 364.5L563 364.5" stroke="#000000" stroke-width="1"/>
<path d="M576 364.5L607 364.5" stroke="#000000" stroke-width="1"/>
<path d="M607.5 364L607.5 374" stroke="#000000" stroke-width="1"/>
<g shape-rendering="auto" fill="#303030" stroke="none">
<path d="M403.2 327.6 C403.6 326.4 405.6 326.3 407 327.2 C408.6 328.3 410 329.8 411.6 330.4 L409.6 317.6 C409.4 315.8 411.6 315.4 412.2 317 L414.6 324.8 L415.6 324.6 L415.7 315.8 C415.8 314.2 418.2 314.2 418.3 315.8 L418.8 324.6 L420 324.8 L420.9 317.4 C421.2 315.8 423.4 316 423.3 317.7 L423 326 L424 326.6 L425.8 320.6 C426.4 319 428.4 319.6 428.1 321.2 L426.6 329 C426.2 332 425.6 335.5 423.6 338.6 C423 339.6 422 340.2 421 340.2 L414 340.2 C412.6 340.2 411.6 339.4 410.8 338.2 C409 335.6 408 332.6 406.4 330.8 C405.4 329.6 404 329.2 403.4 328.6 Z"/>
</g>
<rect x="29.5" y="198.5" width="21" height="11" rx="4.5" ry="4.5" stroke="#000" fill="#fff"/>
<path d="M29.5 204.5L50.5 204.5" stroke="#000000" stroke-width="1"/>
<text x="40" y="203.5" font-size="4.6" fill="#000000" font-weight="bold" text-anchor="middle" stroke="#000" stroke-width="0.7">ZS</text>
<text x="40" y="208.8" font-size="4.8" fill="#000000" font-weight="bold" text-anchor="middle" stroke="#000" stroke-width="0.7">00000</text>
<path d="M39.5 210L39.5 214.5" stroke="#000000" stroke-width="1"/>
<path d="M38.46 214.5 L40.54 214.5 L42 215.96 L42 218.04 L40.54 219.5 L38.46 219.5 L37 218.04 L37 215.96 Z" stroke="#000000" stroke-width="1" fill="#fff" />
<path d="M39.5 219.5L39.5 228" stroke="#000000" stroke-width="1"/>
<path d="M37 224L42.5 224" stroke="#000000" stroke-width="2"/>
<rect x="49.5" y="216.5" width="21" height="11" rx="4.5" ry="4.5" stroke="#000" fill="#fff"/>
<path d="M49.5 222.5L70.5 222.5" stroke="#000000" stroke-width="1"/>
<text x="60" y="221.5" font-size="4.6" fill="#000000" font-weight="bold" text-anchor="middle" stroke="#000" stroke-width="0.7">HSA</text>
<text x="60" y="226.8" font-size="4.8" fill="#000000" font-weight="bold" text-anchor="middle" stroke="#000" stroke-width="0.7">00000</text>
<path d="M39.5 221.5L49 221.5" stroke="#000000" stroke-width="1"/>
<path d="M22 229.5L34 229.5" stroke="#ff0000" stroke-width="1"/>
<path d="M26.5 227.5 L28.5 227.5 Q30.5 229.5 28.5 232.5 L26.5 232.5 Z" stroke="#f00" fill="#fff"/>
<rect x="34.5" y="227.5" width="10" height="5" stroke="#ff0000" stroke-width="1" fill="#fff"/>
<path d="M35 231.5L43 228" stroke="#ff0000" stroke-width="1"/>
<path d="M44.5 229.5L285.5 229.5" stroke="#ff0000" stroke-width="1"/>
<path d="M285.5 229.5L285.5 400" stroke="#ff0000" stroke-width="1"/>
<path d="M34.5 232.5L34.5 235" stroke="#000000" stroke-width="1"/>
<path d="M44.5 232.5L44.5 235" stroke="#000000" stroke-width="1"/>
<path d="M34.5 235 L36 236.5 L34.5 238 L33 236.5 Z" stroke="#000000" stroke-width="1" fill="#000000" />
<path d="M44.5 235 L46 236.5 L44.5 238 L43 236.5 Z" stroke="#000000" stroke-width="1" fill="#000000" />
<text x="32" y="243" font-size="4.5" fill="#000000" font-weight="bold" text-anchor="start"  stroke="#000000" stroke-width="0.45">K 0400</text>
<text x="150" y="228" font-size="4.5" fill="#000000" font-weight="bold" text-anchor="start"  stroke="#000000" stroke-width="0.45">00 00</text>
<path d="M284.5 346 L286.5 346 L286.5 341.5 L288 341.5 L285.5 338 L283 341.5 L284.5 341.5 Z" stroke="#000000" stroke-width="1" fill="#fff" />
<path d="M54.3 260.5L78.6 260.5" stroke="#000000" stroke-width="1"/>
<path d="M92 260.5L117.6 260.5" stroke="#000000" stroke-width="1"/>
<path d="M130.8 260.5L156 260.5" stroke="#000000" stroke-width="1"/>
<path d="M170 260.5L196 260.5" stroke="#000000" stroke-width="1"/>
<path d="M209.5 260.5L235 260.5" stroke="#000000" stroke-width="1"/>
<path d="M249 260.5L275 260.5" stroke="#000000" stroke-width="1"/>
<path d="M289 260.5L315 260.5" stroke="#000000" stroke-width="1"/>
<path d="M328 260.5L353.5 260.5" stroke="#000000" stroke-width="1"/>
<path d="M367 260.5L391.5 260.5" stroke="#000000" stroke-width="1"/>
<path d="M391.5 200L391.5 226" stroke="#000000" stroke-width="1"/>
<path d="M391.5 239L391.5 260.5" stroke="#000000" stroke-width="1"/>
<path d="M54.5 260.5L54.5 292.2" stroke="#000000" stroke-width="1"/>
<path d="M54.5 306L54.5 332" stroke="#000000" stroke-width="1"/>
<path d="M54.5 345L54.5 370.5" stroke="#000000" stroke-width="1"/>
<path d="M54.5 384L54.5 409" stroke="#000000" stroke-width="1"/>
<path d="M54.5 422L54.5 446" stroke="#000000" stroke-width="1"/>
<path d="M54.5 460.5L54.5 494" stroke="#000000" stroke-width="1"/>
<path d="M41.2 271.5L52.7 271.5" stroke="#000000" stroke-width="1"/>
<path d="M56.5 271.5L75.4 271.5" stroke="#000000" stroke-width="1"/>
<path d="M89 271.5L114.5 271.5" stroke="#000000" stroke-width="1"/>
<path d="M128 271.5L153 271.5" stroke="#000000" stroke-width="1"/>
<path d="M167 271.5L192.5 271.5" stroke="#000000" stroke-width="1"/>
<path d="M206 271.5L231 271.5" stroke="#000000" stroke-width="1"/>
<path d="M246 271.5L272 271.5" stroke="#000000" stroke-width="1"/>
<path d="M285.5 271.5L303.5 271.5" stroke="#000000" stroke-width="1"/>
<path d="M41.5 271.5L41.5 304" stroke="#000000" stroke-width="1"/>
<path d="M41.5 316L41.5 341.5" stroke="#000000" stroke-width="1"/>
<path d="M41.5 352L41.5 379" stroke="#000000" stroke-width="1"/>
<path d="M41.5 391L41.5 416.5" stroke="#000000" stroke-width="1"/>
<path d="M41.5 428.5L41.5 455" stroke="#000000" stroke-width="1"/>
<path d="M41.5 466L41.5 492.5" stroke="#000000" stroke-width="1"/>
<path d="M41.5 503.5L41.5 530" stroke="#000000" stroke-width="1"/>
<path d="M41.5 541L41.5 568" stroke="#000000" stroke-width="1"/>
<path d="M303.5 271.5L303.5 297" stroke="#000000" stroke-width="1"/>
<path d="M303.5 311L303.5 336.5" stroke="#000000" stroke-width="1"/>
<path d="M303.5 351L303.5 400" stroke="#000000" stroke-width="1"/>
<path d="M303.5 356.5L331.5 356.5" stroke="#000000" stroke-width="1"/>
<path d="M345 356.5L371.5 356.5" stroke="#000000" stroke-width="1"/>
<path d="M383 356.5L410 356.5" stroke="#000000" stroke-width="1"/>
<path d="M423 356.5L450 356.5" stroke="#000000" stroke-width="1"/>
<path d="M461 356.5L488 356.5" stroke="#000000" stroke-width="1"/>
<path d="M501 356.5L529.5 356.5" stroke="#000000" stroke-width="1"/>
<path d="M529.5 356.5L529.5 373" stroke="#000000" stroke-width="1"/>
<path d="M529.5 386.5L529.5 412.5" stroke="#000000" stroke-width="1"/>
<path d="M529.5 426L529.5 452" stroke="#000000" stroke-width="1"/>
<path d="M529.5 464.5L529.5 481.5" stroke="#000000" stroke-width="1"/>
<path d="M355.5 364.5L355.5 400" stroke="#000000" stroke-width="1"/>
<path d="M355.5 364.5L375 364.5" stroke="#000000" stroke-width="1"/>
<path d="M388 364.5L415 364.5" stroke="#000000" stroke-width="1"/>
<path d="M426.5 364.5L453 364.5" stroke="#000000" stroke-width="1"/>
<path d="M466 364.5L493 364.5" stroke="#000000" stroke-width="1"/>
<path d="M506 364.5L528 364.5" stroke="#000000" stroke-width="1"/>
<path d="M531 364.5L559.5 364.5" stroke="#000000" stroke-width="1"/>
<path d="M576 364.5L607.5 364.5" stroke="#000000" stroke-width="1"/>
<path d="M607.5 364.5L607.5 380.5" stroke="#000000" stroke-width="1"/>
<path d="M607.5 393.5L607.5 421.5" stroke="#000000" stroke-width="1"/>
<path d="M607.5 433L607.5 450.5" stroke="#000000" stroke-width="1"/>
<path d="M80.5 286.5L108.8 286.5" stroke="#00ff00" stroke-width="1"/>
<path d="M122 286.5L148 286.5" stroke="#00ff00" stroke-width="1"/>
<path d="M160 286.5L186 286.5" stroke="#00ff00" stroke-width="1"/>
<path d="M200 286.5L228 286.5" stroke="#00ff00" stroke-width="1"/>
<path d="M80.5 330.5L107.5 330.5" stroke="#00ff00" stroke-width="1"/>
<path d="M122 330.5L148 330.5" stroke="#00ff00" stroke-width="1"/>
<path d="M160 330.5L186 330.5" stroke="#00ff00" stroke-width="1"/>
<path d="M200 330.5L228 330.5" stroke="#00ff00" stroke-width="1"/>
<path d="M80.5 286.5L80.5 301.6" stroke="#00ff00" stroke-width="1"/>
<path d="M80.5 314.9L80.5 330.5" stroke="#00ff00" stroke-width="1"/>
<path d="M228.5 280.5L228.5 302" stroke="#00ff00" stroke-width="1"/>
<path d="M228.5 322L228.5 330.5" stroke="#00ff00" stroke-width="1"/>
<path d="M228.5 273.5 L232.5 277.5 L228.5 281.5 L224.5 277.5 Z" stroke="#000000" stroke-width="1" fill="#fff" />
<path d="M228.5 273.5 L224.5 277.5 L228.5 281.5 Z" stroke="#000000" stroke-width="1" fill="#000" />
<text x="140" y="284" font-size="4.5" fill="#000000" font-weight="bold" text-anchor="start"  stroke="#000000" stroke-width="0.45">A 00000</text>
<path d="M107.5 307.5L224 307.5" stroke="#00ff00" stroke-width="1"/>
<path d="M224.5 305.5L224.5 310" stroke="#00ff00" stroke-width="1"/>
<path d="M241 306.5 L241 308.5 L237 308.5 L237 310 L233.5 307.5 L237 305 L237 306.5 Z" stroke="#000000" stroke-width="1" fill="#fff" />
<rect x="244.5" y="305.5" width="14" height="5" stroke="#000000" stroke-width="1" fill="none"/>
<text x="251" y="309.3" font-size="4" fill="#000000" font-weight="bold" text-anchor="middle"  stroke="#000000" stroke-width="0.45">00000</text>
<text x="231" y="316" font-size="4" fill="#000000" font-weight="bold" text-anchor="start"  stroke="#000000" stroke-width="0.45">From VF-all-line</text>
<text x="231" y="321" font-size="4" fill="#000000" font-weight="bold" text-anchor="start"  stroke="#000000" stroke-width="0.45">Dosing 1-40-A0AA</text>
<path d="M109.5 307.5L109.5 362" stroke="#00ff00" stroke-width="1"/>
<path d="M101.5 299L101.5 312.5" stroke="#000000" stroke-width="1"/>
<path d="M98.5 312.5L107.5 312.5" stroke="#000000" stroke-width="1"/>
<rect x="90.5" y="288.5" width="21" height="11" rx="4.5" ry="4.5" stroke="#000" fill="#fff"/>
<path d="M90.5 294.5L111.5 294.5" stroke="#000000" stroke-width="1"/>
<text x="101" y="293.5" font-size="4.6" fill="#000000" font-weight="bold" text-anchor="middle" stroke="#000" stroke-width="0.7">HSA</text>
<text x="101" y="298.8" font-size="4.8" fill="#000000" font-weight="bold" text-anchor="middle" stroke="#000" stroke-width="0.7">00000</text>
<path d="M95.46 310 L97.54 310 L99 311.46 L99 313.54 L97.54 315 L95.46 315 L94 313.54 L94 311.46 Z" stroke="#000000" stroke-width="1" fill="#fff" />
<path d="M96.5 315L96.5 317" stroke="#000000" stroke-width="1"/>
<rect x="85.5" y="316.5" width="21" height="11" rx="4.5" ry="4.5" stroke="#000" fill="#fff"/>
<path d="M85.5 322.5L106.5 322.5" stroke="#000000" stroke-width="1"/>
<text x="96" y="321.5" font-size="4.6" fill="#000000" font-weight="bold" text-anchor="middle" stroke="#000" stroke-width="0.7">ZS</text>
<text x="96" y="326.8" font-size="4.8" fill="#000000" font-weight="bold" text-anchor="middle" stroke="#000" stroke-width="0.7">00000</text>
<path d="M107 307.5 L112 307.5 L109.5 312.5 Z" stroke="#00ff00" stroke-width="1" fill="#fff" />
<path d="M109.5 312.5 L107 317 L112 317 Z" stroke="#00ff00" stroke-width="1" fill="#fff" />
<path d="M107 319.5L112.5 319.5" stroke="#00ff00" stroke-width="1"/>
<path d="M106.5 311 L108.5 312.5 L106.5 314" stroke="#000000" stroke-width="1" fill="none" />
<text x="105.5" y="305.5" font-size="4.5" fill="#000000" font-weight="bold" text-anchor="start"  stroke="#000000" stroke-width="0.45">r 0000</text>
<path d="M140.5 307.5L140.5 362" stroke="#00ff00" stroke-width="1"/>
<path d="M132.5 299L132.5 312.5" stroke="#000000" stroke-width="1"/>
<path d="M129.5 312.5L138.5 312.5" stroke="#000000" stroke-width="1"/>
<rect x="122.5" y="288.5" width="21" height="11" rx="4.5" ry="4.5" stroke="#000" fill="#fff"/>
<path d="M122.5 294.5L143.5 294.5" stroke="#000000" stroke-width="1"/>
<text x="133" y="293.5" font-size="4.6" fill="#000000" font-weight="bold" text-anchor="middle" stroke="#000" stroke-width="0.7">HSA</text>
<text x="133" y="298.8" font-size="4.8" fill="#000000" font-weight="bold" text-anchor="middle" stroke="#000" stroke-width="0.7">00000</text>
<path d="M126.46 310 L128.54 310 L130 311.46 L130 313.54 L128.54 315 L126.46 315 L125 313.54 L125 311.46 Z" stroke="#000000" stroke-width="1" fill="#fff" />
<path d="M127.5 315L127.5 317" stroke="#000000" stroke-width="1"/>
<rect x="116.5" y="316.5" width="21" height="11" rx="4.5" ry="4.5" stroke="#000" fill="#fff"/>
<path d="M116.5 322.5L137.5 322.5" stroke="#000000" stroke-width="1"/>
<text x="127" y="321.5" font-size="4.6" fill="#000000" font-weight="bold" text-anchor="middle" stroke="#000" stroke-width="0.7">ZS</text>
<text x="127" y="326.8" font-size="4.8" fill="#000000" font-weight="bold" text-anchor="middle" stroke="#000" stroke-width="0.7">00000</text>
<path d="M138 307.5 L143 307.5 L140.5 312.5 Z" stroke="#00ff00" stroke-width="1" fill="#fff" />
<path d="M140.5 312.5 L138 317 L143 317 Z" stroke="#00ff00" stroke-width="1" fill="#fff" />
<path d="M138 319.5L143.5 319.5" stroke="#00ff00" stroke-width="1"/>
<path d="M137.5 311 L139.5 312.5 L137.5 314" stroke="#000000" stroke-width="1" fill="none" />
<text x="136.5" y="305.5" font-size="4.5" fill="#000000" font-weight="bold" text-anchor="start"  stroke="#000000" stroke-width="0.45">r 0000</text>
<path d="M174.5 307.5L174.5 362" stroke="#00ff00" stroke-width="1"/>
<path d="M166.5 299L166.5 312.5" stroke="#000000" stroke-width="1"/>
<path d="M162.5 312.5L172.5 312.5" stroke="#000000" stroke-width="1"/>
<rect x="155.5" y="288.5" width="21" height="11" rx="4.5" ry="4.5" stroke="#000" fill="#fff"/>
<path d="M155.5 294.5L176.5 294.5" stroke="#000000" stroke-width="1"/>
<text x="166" y="293.5" font-size="4.6" fill="#000000" font-weight="bold" text-anchor="middle" stroke="#000" stroke-width="0.7">HSA</text>
<text x="166" y="298.8" font-size="4.8" fill="#000000" font-weight="bold" text-anchor="middle" stroke="#000" stroke-width="0.7">00000</text>
<path d="M159.46 310 L161.54 310 L163 311.46 L163 313.54 L161.54 315 L159.46 315 L158 313.54 L158 311.46 Z" stroke="#000000" stroke-width="1" fill="#fff" />
<path d="M160.5 315L160.5 317" stroke="#000000" stroke-width="1"/>
<rect x="149.5" y="316.5" width="21" height="11" rx="4.5" ry="4.5" stroke="#000" fill="#fff"/>
<path d="M149.5 322.5L170.5 322.5" stroke="#000000" stroke-width="1"/>
<text x="160" y="321.5" font-size="4.6" fill="#000000" font-weight="bold" text-anchor="middle" stroke="#000" stroke-width="0.7">ZS</text>
<text x="160" y="326.8" font-size="4.8" fill="#000000" font-weight="bold" text-anchor="middle" stroke="#000" stroke-width="0.7">00000</text>
<path d="M172 307.5 L177 307.5 L174.5 312.5 Z" stroke="#00ff00" stroke-width="1" fill="#fff" />
<path d="M174.5 312.5 L172 317 L177 317 Z" stroke="#00ff00" stroke-width="1" fill="#fff" />
<path d="M172 319.5L177.5 319.5" stroke="#00ff00" stroke-width="1"/>
<path d="M171.5 311 L173.5 312.5 L171.5 314" stroke="#000000" stroke-width="1" fill="none" />
<text x="170.5" y="305.5" font-size="4.5" fill="#000000" font-weight="bold" text-anchor="start"  stroke="#000000" stroke-width="0.45">V 0000</text>
<path d="M212.5 307.5L212.5 362" stroke="#00ff00" stroke-width="1"/>
<path d="M204.5 299L204.5 312.5" stroke="#000000" stroke-width="1"/>
<path d="M201.5 312.5L210.5 312.5" stroke="#000000" stroke-width="1"/>
<rect x="193.5" y="288.5" width="21" height="11" rx="4.5" ry="4.5" stroke="#000" fill="#fff"/>
<path d="M193.5 294.5L214.5 294.5" stroke="#000000" stroke-width="1"/>
<text x="204" y="293.5" font-size="4.6" fill="#000000" font-weight="bold" text-anchor="middle" stroke="#000" stroke-width="0.7">HSA</text>
<text x="204" y="298.8" font-size="4.8" fill="#000000" font-weight="bold" text-anchor="middle" stroke="#000" stroke-width="0.7">00000</text>
<path d="M198.46 310 L200.54 310 L202 311.46 L202 313.54 L200.54 315 L198.46 315 L197 313.54 L197 311.46 Z" stroke="#000000" stroke-width="1" fill="#fff" />
<path d="M199.5 315L199.5 317" stroke="#000000" stroke-width="1"/>
<rect x="188.5" y="316.5" width="21" height="11" rx="4.5" ry="4.5" stroke="#000" fill="#fff"/>
<path d="M188.5 322.5L209.5 322.5" stroke="#000000" stroke-width="1"/>
<text x="199" y="321.5" font-size="4.6" fill="#000000" font-weight="bold" text-anchor="middle" stroke="#000" stroke-width="0.7">ZS</text>
<text x="199" y="326.8" font-size="4.8" fill="#000000" font-weight="bold" text-anchor="middle" stroke="#000" stroke-width="0.7">00000</text>
<path d="M210 307.5 L215 307.5 L212.5 312.5 Z" stroke="#00ff00" stroke-width="1" fill="#fff" />
<path d="M212.5 312.5 L210 317 L215 317 Z" stroke="#00ff00" stroke-width="1" fill="#fff" />
<path d="M210 319.5L215.5 319.5" stroke="#00ff00" stroke-width="1"/>
<path d="M209.5 311 L211.5 312.5 L209.5 314" stroke="#000000" stroke-width="1" fill="none" />
<text x="208.5" y="305.5" font-size="4.5" fill="#000000" font-weight="bold" text-anchor="start"  stroke="#000000" stroke-width="0.45">V 0000</text>
<path d="M210 331.5 L215 331.5 L212.5 335.5 L210 339 L215 339 L212.5 335.5 Z" stroke="#00ff00" stroke-width="1" fill="#fff" />
<path d="M212.5 342 L215.5 344.5 L212.5 347 Z" stroke="#00ff00" stroke-width="1" fill="#fff" />
<path d="M215.5 344.5L218.5 344.5" stroke="#00ff00" stroke-width="1"/>
<path d="M210 350.5L215.5 350.5" stroke="#00ff00" stroke-width="1"/>
<path d="M210 352.5L215.5 352.5" stroke="#00ff00" stroke-width="1"/>
<path d="M198.46 335.5 L200.54 335.5 L202 336.96 L202 339.04 L200.54 340.5 L198.46 340.5 L197 339.04 L197 336.96 Z" stroke="#000000" stroke-width="1" fill="#fff" />
<path d="M197 338.5L191.5 338.5" stroke="#000000" stroke-width="1"/>
<path d="M191.5 338L191.5 345.5" stroke="#000000" stroke-width="1"/>
<path d="M202 338.5L210 338.5" stroke="#000000" stroke-width="1"/>
<rect x="180.5" y="345.5" width="21" height="11" rx="4.5" ry="4.5" stroke="#000" fill="#fff"/>
<path d="M180.5 351.5L201.5 351.5" stroke="#000000" stroke-width="1"/>
<text x="191" y="350.5" font-size="4.6" fill="#000000" font-weight="bold" text-anchor="middle" stroke="#000" stroke-width="0.7">AS</text>
<text x="191" y="355.8" font-size="4.8" fill="#000000" font-weight="bold" text-anchor="middle" stroke="#000" stroke-width="0.7">00000</text>
<path d="M201.5 351.5L204.5 351.5" stroke="#000000" stroke-width="1"/>
<path d="M204.5 351L204.5 343.5" stroke="#000000" stroke-width="1"/>
<path d="M204.5 343.5L210 343.5" stroke="#000000" stroke-width="1"/>
<text x="218" y="340" font-size="4.5" fill="#000000" font-weight="bold" text-anchor="start"  stroke="#000000" stroke-width="0.45">r 0000</text>
<path d="M80.5 355.5 L84.5 359.5 L80.5 363.5 L76.5 359.5 Z" stroke="#000000" stroke-width="1" fill="#fff" />
<path d="M76.5 359.5 L80.5 355.5 L84.5 359.5 Z" stroke="#000000" stroke-width="1" fill="#000" />
<path d="M83.5 359.5L131.5 359.5" stroke="#000000" stroke-width="1"/>
<rect x="158" y="359" width="1" height="1" stroke="#000000" stroke-width="0" fill="#000000"/>
<path d="M185 359.5L233 359.5" stroke="#000000" stroke-width="1"/>
<path d="M237.5 355.5 L241.5 359.5 L237.5 363.5 L233.5 359.5 Z" stroke="#000000" stroke-width="1" fill="#fff" />
<path d="M233.5 359.5 L237.5 355.5 L241.5 359.5 Z" stroke="#000000" stroke-width="1" fill="#000" />
<rect x="101.5" y="361.5" width="16" height="6" stroke="#000000" stroke-width="1" fill="none"/>
<text x="109.5" y="366.3" font-size="4.5" fill="#000000" font-weight="bold" text-anchor="middle"  stroke="#000000" stroke-width="0.45">00T1</text>
<rect x="132.5" y="361.5" width="16" height="6" stroke="#000000" stroke-width="1" fill="none"/>
<text x="140.5" y="366.3" font-size="4.5" fill="#000000" font-weight="bold" text-anchor="middle"  stroke="#000000" stroke-width="0.45">00T1</text>
<rect x="166.5" y="361.5" width="16" height="6" stroke="#000000" stroke-width="1" fill="none"/>
<text x="174.25" y="366.3" font-size="4.5" fill="#000000" font-weight="bold" text-anchor="middle"  stroke="#000000" stroke-width="0.45">00T1</text>
<rect x="205.5" y="361.5" width="16" height="6" stroke="#000000" stroke-width="1" fill="none"/>
<text x="213.25" y="366.3" font-size="4.5" fill="#000000" font-weight="bold" text-anchor="middle"  stroke="#000000" stroke-width="0.45">00T1</text>
<rect x="104.5" y="374.5" width="23" height="3" stroke="#000000" stroke-width="1" fill="#fff"/>
<path d="M104.5 374L106 377.5" stroke="#000000" stroke-width="1"/>
<path d="M106.5 374L108 377.5" stroke="#000000" stroke-width="1"/>
<path d="M108.5 374L110 377.5" stroke="#000000" stroke-width="1"/>
<path d="M110.5 374L112 377.5" stroke="#000000" stroke-width="1"/>
<path d="M112.5 374L114 377.5" stroke="#000000" stroke-width="1"/>
<path d="M114.5 374L116 377.5" stroke="#000000" stroke-width="1"/>
<path d="M116.5 374L118 377.5" stroke="#000000" stroke-width="1"/>
<path d="M118.5 374L120 377.5" stroke="#000000" stroke-width="1"/>
<path d="M120.5 374L122 377.5" stroke="#000000" stroke-width="1"/>
<path d="M122.5 374L124 377.5" stroke="#000000" stroke-width="1"/>
<path d="M124.5 374L126 377.5" stroke="#000000" stroke-width="1"/>
<path d="M126.5 374L128 377.5" stroke="#000000" stroke-width="1"/>
<text x="111.5" y="373" font-size="4" fill="#000000" font-weight="bold" text-anchor="start"  stroke="#000000" stroke-width="0.45">0000</text>
<text x="112.5" y="382" font-size="4" fill="#000000" font-weight="bold" text-anchor="start"  stroke="#000000" stroke-width="0.45">0-0-0-0</text>
<path d="M109.5 370.3 L110.7 371.5 L109.5 372.7 L108.3 371.5 Z" stroke="#00ff00" stroke-width="1" fill="#00ff00" />
<path d="M109.5 378.8 L110.7 380 L109.5 381.2 L108.3 380 Z" stroke="#00ff00" stroke-width="1" fill="#00ff00" />
<rect x="207.5" y="374.5" width="23" height="3" stroke="#000000" stroke-width="1" fill="#fff"/>
<path d="M207 374L208.5 377.5" stroke="#000000" stroke-width="1"/>
<path d="M209 374L210.5 377.5" stroke="#000000" stroke-width="1"/>
<path d="M211 374L212.5 377.5" stroke="#000000" stroke-width="1"/>
<path d="M213 374L214.5 377.5" stroke="#000000" stroke-width="1"/>
<path d="M215 374L216.5 377.5" stroke="#000000" stroke-width="1"/>
<path d="M217 374L218.5 377.5" stroke="#000000" stroke-width="1"/>
<path d="M219 374L220.5 377.5" stroke="#000000" stroke-width="1"/>
<path d="M221 374L222.5 377.5" stroke="#000000" stroke-width="1"/>
<path d="M223 374L224.5 377.5" stroke="#000000" stroke-width="1"/>
<path d="M225 374L226.5 377.5" stroke="#000000" stroke-width="1"/>
<path d="M227 374L228.5 377.5" stroke="#000000" stroke-width="1"/>
<path d="M229 374L230.5 377.5" stroke="#000000" stroke-width="1"/>
<text x="214" y="373" font-size="4" fill="#000000" font-weight="bold" text-anchor="start"  stroke="#000000" stroke-width="0.45">0000</text>
<text x="215" y="382" font-size="4" fill="#000000" font-weight="bold" text-anchor="start"  stroke="#000000" stroke-width="0.45">0-0-0-0</text>
<path d="M212 370.3 L213.2 371.5 L212 372.7 L210.8 371.5 Z" stroke="#00ff00" stroke-width="1" fill="#00ff00" />
<path d="M212 378.8 L213.2 380 L212 381.2 L210.8 380 Z" stroke="#00ff00" stroke-width="1" fill="#00ff00" />
<path d="M108.5 382 L110.5 382 L110.5 387 L112 387 L109.5 390.5 L107 387 L108.5 387 Z" stroke="#000000" stroke-width="1" fill="#fff" />
<path d="M139.5 382 L141.5 382 L141.5 387 L143 387 L140.5 390.5 L138 387 L139.5 387 Z" stroke="#000000" stroke-width="1" fill="#fff" />
<path d="M173.5 382 L175.5 382 L175.5 387 L177 387 L174.5 390.5 L172 387 L173.5 387 Z" stroke="#000000" stroke-width="1" fill="#fff" />
<path d="M213.5 362L213.5 387.5" stroke="#00ff00" stroke-width="1"/>
<path d="M213.5 387.5L220.5 387.5" stroke="#00ff00" stroke-width="1"/>
<path d="M220.5 387.5 L221.02 388.01 L221.53 389.25 L222.05 390.49 L222.56 391 L223.08 390.49 L223.59 389.25 L224.11 388.01 L224.62 387.5 L225.14 388.01 L225.66 389.25 L226.17 390.49 L226.69 391 L227.2 390.49 L227.72 389.25 L228.23 388.01 L228.75 387.5 L229.27 388.01 L229.78 389.25 L230.3 390.49 L230.81 391 L231.33 390.49 L231.84 389.25 L232.36 388.01 L232.88 387.5 L233.39 388.01 L233.91 389.25 L234.42 390.49 L234.94 391 L235.45 390.49 L235.97 389.25 L236.48 388.01 L237 387.5" stroke="#00ff00" stroke-width="1" fill="none" />
<path d="M238 386.5 L238 388.5 L242.5 388.5 L242.5 390 L246 387.5 L242.5 385 L242.5 386.5 Z" stroke="#000000" stroke-width="1" fill="#fff" />
<circle cx="254" cy="388" r="5.5" stroke="#000000" stroke-width="1" fill="#fff"/>
<text x="254" y="390.5" font-size="7" fill="#000000"  text-anchor="middle" >A</text>
<path d="M109.5 390.5L109.5 396" stroke="#00ff00" stroke-width="1"/>
<path d="M109.5 396 L111 397.94 L108 399.88 L111 401.81 L108 403.75 L111 405.69 L108 407.62 L111 409.56 L109.5 411.5" stroke="#00ff00" stroke-width="1" fill="none" />
<path d="M80.5 408.5L80.5 400.5" stroke="#8000a0" stroke-width="1"/>
<path d="M80.5 400.5L99.5 400.5" stroke="#8000a0" stroke-width="1"/>
<path d="M99.5 400.5L99.5 481" stroke="#8000a0" stroke-width="1"/>
<path d="M80.5 412.5L80.5 417" stroke="#000000" stroke-width="1"/>
<path d="M78 409.5L80.5 412.5" stroke="#000000" stroke-width="1"/>
<path d="M83 409.5L80.5 412.5" stroke="#000000" stroke-width="1"/>
<path d="M97.5 411.5 L99.5 411.5 L99.5 407 L101 407 L98.5 403.5 L96 407 L97.5 407 Z" stroke="#000000" stroke-width="1" fill="#fff" />
<path d="M197.5 400.5L286 400.5" stroke="#ff0000" stroke-width="1"/>
<path d="M197.5 400.5L197.5 481" stroke="#ff0000" stroke-width="1"/>
<path d="M196.5 403.5 L198.5 403.5 L198.5 408 L200 408 L197.5 411.5 L195 408 L196.5 408 Z" stroke="#000000" stroke-width="1" fill="#fff" />
<rect x="91.5" y="413.5" width="16" height="6" stroke="#000000" stroke-width="1" fill="none"/>
<text x="99.25" y="418.05" font-size="4.5" fill="#000000" font-weight="bold" text-anchor="middle"  stroke="#000000" stroke-width="0.45">0000</text>
<rect x="117.5" y="413.5" width="15" height="6" stroke="#000000" stroke-width="1" fill="none"/>
<text x="124.75" y="418.05" font-size="4.5" fill="#000000" font-weight="bold" text-anchor="middle"  stroke="#000000" stroke-width="0.45">0000</text>
<rect x="189.5" y="413.5" width="16" height="6" stroke="#000000" stroke-width="1" fill="none"/>
<text x="197.25" y="418.05" font-size="4.5" fill="#000000" font-weight="bold" text-anchor="middle"  stroke="#000000" stroke-width="0.45">0000</text>
<rect x="101.5" y="421.5" width="16" height="5" stroke="#000000" stroke-width="1" fill="none"/>
<text x="109.5" y="425.55" font-size="4.5" fill="#000000" font-weight="bold" text-anchor="middle"  stroke="#000000" stroke-width="0.45">0001</text>
<rect x="132.5" y="421.5" width="16" height="5" stroke="#000000" stroke-width="1" fill="none"/>
<text x="140.5" y="425.55" font-size="4.5" fill="#000000" font-weight="bold" text-anchor="middle"  stroke="#000000" stroke-width="0.45">0001</text>
<rect x="166.5" y="421.5" width="16" height="5" stroke="#000000" stroke-width="1" fill="none"/>
<text x="174.25" y="425.55" font-size="4.5" fill="#000000" font-weight="bold" text-anchor="middle"  stroke="#000000" stroke-width="0.45">0001</text>
<path d="M80.5 425.5 L84.5 429.5 L80.5 433.5 L76.5 429.5 Z" stroke="#000000" stroke-width="1" fill="#fff" />
<path d="M76.5 429.5 L80.5 425.5 L84.5 429.5 Z" stroke="#000000" stroke-width="1" fill="#000" />
<path d="M91.5 429.5L134 429.5" stroke="#000000" stroke-width="1"/>
<rect x="159" y="429" width="1" height="1" stroke="#000000" stroke-width="0" fill="#000000"/>
<path d="M186 429.5L233 429.5" stroke="#000000" stroke-width="1"/>
<path d="M237.5 425.5 L241.5 429.5 L237.5 433.5 L233.5 429.5 Z" stroke="#000000" stroke-width="1" fill="#fff" />
<path d="M233.5 429.5 L237.5 425.5 L241.5 429.5 Z" stroke="#000000" stroke-width="1" fill="#000" />
<path d="M109.5 411.5L109.5 530.5" stroke="#00ff00" stroke-width="1"/>
<path d="M109.5 530.5L150.5 530.5" stroke="#00ff00" stroke-width="1"/>
<path d="M140.5 390.5L140.5 444" stroke="#00ff00" stroke-width="1"/>
<path d="M140.5 444.5L119.5 444.5" stroke="#00ff00" stroke-width="1"/>
<path d="M119.5 444L119.5 488.5" stroke="#00ff00" stroke-width="1"/>
<path d="M124.5 444L124.5 482.5" stroke="#00ff00" stroke-width="1"/>
<path d="M140.5 408.5L124.5 408.5" stroke="#00ff00" stroke-width="1"/>
<path d="M124.5 408L124.5 438.5" stroke="#00ff00" stroke-width="1"/>
<path d="M124.5 438.5L114.5 438.5" stroke="#00ff00" stroke-width="1"/>
<path d="M114.5 438.5L114.5 556.5" stroke="#00ff00" stroke-width="1"/>
<path d="M114.5 556.5L96.5 556.5" stroke="#00ff00" stroke-width="1"/>
<path d="M174.5 390.5L174.5 482.5" stroke="#00ff00" stroke-width="1"/>
<path d="M174.5 444.5L179.5 444.5" stroke="#00ff00" stroke-width="1"/>
<path d="M179.5 444.5L179.5 488.5" stroke="#00ff00" stroke-width="1"/>
<path d="M94.5 433.5L104 433.5" stroke="#8000a0" stroke-width="1"/>
<path d="M94.5 435.5L104 435.5" stroke="#8000a0" stroke-width="1"/>
<path d="M104.5 431.5L104.5 437.5" stroke="#8000a0" stroke-width="1"/>
<path d="M101.5 431.5L104.5 431.5" stroke="#8000a0" stroke-width="1"/>
<path d="M101.5 437.5L104.5 437.5" stroke="#8000a0" stroke-width="1"/>
<path d="M104.5 433.5L114 433.5" stroke="#00ff00" stroke-width="1"/>
<path d="M104.5 435.5L114 435.5" stroke="#00ff00" stroke-width="1"/>
<path d="M114.5 431.5L114.5 437.5" stroke="#00ff00" stroke-width="1"/>
<path d="M111.5 431.5L114.5 431.5" stroke="#00ff00" stroke-width="1"/>
<path d="M111.5 437.5L114.5 437.5" stroke="#00ff00" stroke-width="1"/>
<path d="M119.5 433.5L129 433.5" stroke="#00ff00" stroke-width="1"/>
<path d="M119.5 435.5L129 435.5" stroke="#00ff00" stroke-width="1"/>
<path d="M129.5 431.5L129.5 437.5" stroke="#00ff00" stroke-width="1"/>
<path d="M126.5 431.5L129.5 431.5" stroke="#00ff00" stroke-width="1"/>
<path d="M126.5 437.5L129.5 437.5" stroke="#00ff00" stroke-width="1"/>
<path d="M135.5 433.5L145 433.5" stroke="#00ff00" stroke-width="1"/>
<path d="M135.5 435.5L145 435.5" stroke="#00ff00" stroke-width="1"/>
<path d="M145.5 431.5L145.5 437.5" stroke="#00ff00" stroke-width="1"/>
<path d="M142.5 431.5L145.5 431.5" stroke="#00ff00" stroke-width="1"/>
<path d="M142.5 437.5L145.5 437.5" stroke="#00ff00" stroke-width="1"/>
<path d="M169.5 433.5L179 433.5" stroke="#00ff00" stroke-width="1"/>
<path d="M169.5 435.5L179 435.5" stroke="#00ff00" stroke-width="1"/>
<path d="M179.5 431.5L179.5 437.5" stroke="#00ff00" stroke-width="1"/>
<path d="M176.5 431.5L179.5 431.5" stroke="#00ff00" stroke-width="1"/>
<path d="M176.5 437.5L179.5 437.5" stroke="#00ff00" stroke-width="1"/>
<path d="M192.5 433.5L202 433.5" stroke="#ff0000" stroke-width="1"/>
<path d="M192.5 435.5L202 435.5" stroke="#ff0000" stroke-width="1"/>
<path d="M202.5 431.5L202.5 437.5" stroke="#ff0000" stroke-width="1"/>
<path d="M199.5 431.5L202.5 431.5" stroke="#ff0000" stroke-width="1"/>
<path d="M199.5 437.5L202.5 437.5" stroke="#ff0000" stroke-width="1"/>
<path d="M97 447.5 L102 447.5 L97 457.5 L102 457.5 Z" stroke="#8000a0" stroke-width="1" fill="#fff" />
<path d="M195 447.5 L200 447.5 L195 457.5 L200 457.5 Z" stroke="#ff0000" stroke-width="1" fill="#fff" />
<path d="M84.46 450 L86.54 450 L88 451.46 L88 453.54 L86.54 455 L84.46 455 L83 453.54 L83 451.46 Z" stroke="#000000" stroke-width="1" fill="#fff" />
<path d="M88 452.5L97 452.5" stroke="#000000" stroke-width="1"/>
<path d="M95 450.5 L97 452.5 L95 454.5" stroke="#000000" stroke-width="1" fill="none" />
<rect x="57.5" y="447.5" width="21" height="11" rx="4.5" ry="4.5" stroke="#000" fill="#fff"/>
<path d="M57.5 453.5L78.5 453.5" stroke="#000000" stroke-width="1"/>
<text x="68" y="452.5" font-size="4.6" fill="#000000" font-weight="bold" text-anchor="middle" stroke="#000" stroke-width="0.7">ZS</text>
<text x="68" y="457.8" font-size="4.8" fill="#000000" font-weight="bold" text-anchor="middle" stroke="#000" stroke-width="0.7">00000</text>
<rect x="57.5" y="459.5" width="21" height="11" rx="4.5" ry="4.5" stroke="#000" fill="#fff"/>
<path d="M57.5 465.5L78.5 465.5" stroke="#000000" stroke-width="1"/>
<text x="68" y="464.5" font-size="4.6" fill="#000000" font-weight="bold" text-anchor="middle" stroke="#000" stroke-width="0.7">HSA</text>
<text x="68" y="469.8" font-size="4.8" fill="#000000" font-weight="bold" text-anchor="middle" stroke="#000" stroke-width="0.7">00000</text>
<path d="M78 452.5L83 452.5" stroke="#000000" stroke-width="1"/>
<path d="M78 465.5L91.5 465.5" stroke="#000000" stroke-width="1"/>
<path d="M91.5 465L91.5 452.5" stroke="#000000" stroke-width="1"/>
<text x="76" y="447" font-size="4.5" fill="#000000" font-weight="bold" text-anchor="start"  stroke="#000000" stroke-width="0.45">V 0000</text>
<path d="M209.46 450 L211.54 450 L213 451.46 L213 453.54 L211.54 455 L209.46 455 L208 453.54 L208 451.46 Z" stroke="#000000" stroke-width="1" fill="#fff" />
<path d="M200 452.5L208 452.5" stroke="#000000" stroke-width="1"/>
<path d="M202 450.5 L200 452.5 L202 454.5" stroke="#000000" stroke-width="1" fill="none" />
<rect x="218.5" y="447.5" width="21" height="11" rx="4.5" ry="4.5" stroke="#000" fill="#fff"/>
<path d="M218.5 453.5L239.5 453.5" stroke="#000000" stroke-width="1"/>
<text x="229" y="452.5" font-size="4.6" fill="#000000" font-weight="bold" text-anchor="middle" stroke="#000" stroke-width="0.7">ZS</text>
<text x="229" y="457.8" font-size="4.8" fill="#000000" font-weight="bold" text-anchor="middle" stroke="#000" stroke-width="0.7">00000</text>
<rect x="218.5" y="459.5" width="21" height="11" rx="4.5" ry="4.5" stroke="#000" fill="#fff"/>
<path d="M218.5 465.5L239.5 465.5" stroke="#000000" stroke-width="1"/>
<text x="229" y="464.5" font-size="4.6" fill="#000000" font-weight="bold" text-anchor="middle" stroke="#000" stroke-width="0.7">HSA</text>
<text x="229" y="469.8" font-size="4.8" fill="#000000" font-weight="bold" text-anchor="middle" stroke="#000" stroke-width="0.7">00000</text>
<path d="M213 452.5L218 452.5" stroke="#000000" stroke-width="1"/>
<path d="M218 465.5L205.5 465.5" stroke="#000000" stroke-width="1"/>
<path d="M205.5 465L205.5 452.5" stroke="#000000" stroke-width="1"/>
<text x="206" y="447" font-size="4.5" fill="#000000" font-weight="bold" text-anchor="start"  stroke="#000000" stroke-width="0.45">T A0V0</text>
<rect x="127.5" y="447.5" width="21" height="11" rx="4.5" ry="4.5" stroke="#000" fill="#fff"/>
<path d="M127.5 453.5L148.5 453.5" stroke="#000000" stroke-width="1"/>
<text x="138" y="452.5" font-size="4.6" fill="#000000" font-weight="bold" text-anchor="middle" stroke="#000" stroke-width="0.7">PIA</text>
<text x="138" y="457.8" font-size="4.8" fill="#000000" font-weight="bold" text-anchor="middle" stroke="#000" stroke-width="0.7">00000</text>
<rect x="150.5" y="447.5" width="21" height="11" rx="4.5" ry="4.5" stroke="#000" fill="#fff"/>
<path d="M150.5 453.5L171.5 453.5" stroke="#000000" stroke-width="1"/>
<text x="161" y="452.5" font-size="4.6" fill="#000000" font-weight="bold" text-anchor="middle" stroke="#000" stroke-width="0.7">TIA</text>
<text x="161" y="457.8" font-size="4.8" fill="#000000" font-weight="bold" text-anchor="middle" stroke="#000" stroke-width="0.7">00000</text>
<path d="M93.5 481 L135 476.5 M147 476.5 L165 477.5 L203 481" stroke="#000"/>
<path d="M93.5 481 L91 505.5 L86.5 571.5 L86.5 582.5 L104 590.5" stroke="#000"/>
<path d="M203 481 L205.5 505.5 L210.5 571.5 L210.5 582.5 L192.5 590.5" stroke="#000"/>
<path d="M91.5 506 L88 571" stroke="#000"/>
<path d="M205 506 L208 571" stroke="#000"/>
<path d="M90 505L90 512" stroke="#000000" stroke-width="2"/>
<path d="M206 505L206 512" stroke="#000000" stroke-width="2"/>
<path d="M135 476.5 L136.7 461.5 L145.5 461.5 L147 476.5" stroke="#000000" stroke-width="1" fill="none" />
<path d="M137.5 457.5L137.5 461.5" stroke="#000000" stroke-width="1"/>
<path d="M143 457.5L144 461.5" stroke="#000000" stroke-width="1"/>
<rect x="136.5" y="475.5" width="12" height="5" stroke="#000000" stroke-width="1" fill="#000000"/>
<path d="M157.5 541.5 L157.5 470 Q157.5 466 161.5 466 Q165.5 466 165.5 470 L165.5 538 Q165.5 542 161.5 542 Q157.5 542 157.5 538" stroke="#000" fill="#fff"/>
<path d="M161.5 458L161.5 466" stroke="#000000" stroke-width="1"/>
<path d="M164 548 A19.5 19.5 0 1 1 157 520.5" stroke="#000"/>
<path d="M166 537.5 A19.5 19.5 0 0 1 164 548" stroke="#000"/>
<path d="M157.5 549.5 A15.5 15.5 0 1 1 156.5 524.5" stroke="#000"/>
<path d="M139 524.5L145.5 531.5" stroke="#000000" stroke-width="1"/>
<path d="M150.5 542L156 550.5" stroke="#000000" stroke-width="1"/>
<path d="M114 505 Q122 494 133 491.5" stroke="#000"/>
<path d="M151.5 490.5 Q166 491 177 500" stroke="#000"/>
<path d="M185.5 509 Q196 522 194.5 537" stroke="#000"/>
<path d="M185.5 509 L181 526" stroke="#000"/>
<path d="M192.5 550 Q188 564 178 572" stroke="#000"/>
<path d="M104.5 517.5 L123 514.5 M104.5 517.5 Q102 528 101.5 542 L87 571" stroke="#000"/>
<path d="M88.5 571.5 Q92 578 110 578.5 L126 578.5" stroke="#000"/>
<path d="M109 563 L128 578.5" stroke="#000"/>
<path d="M141 570 L154 582 M138.5 582 L166 580" stroke="#000"/>
<path d="M202 561 A8 8.5 0 1 0 204.5 576" stroke="#000"/>
<path d="M132.5 559.5L215 559.5" stroke="#000000" stroke-width="1"/>
<path d="M136 534L139.5 530.5" stroke="#00ff00" stroke-width="1"/>
<path d="M143 534L139.5 530.5" stroke="#00ff00" stroke-width="1"/>
<path d="M135.5 530.5L144 530.5" stroke="#00ff00" stroke-width="1"/>
<path d="M139.5 530.5L139.5 534.5" stroke="#00ff00" stroke-width="1"/>
<path d="M144.5 534L148 530.5" stroke="#00ff00" stroke-width="1"/>
<path d="M151.5 534L148 530.5" stroke="#00ff00" stroke-width="1"/>
<path d="M144 530.5L152.5 530.5" stroke="#00ff00" stroke-width="1"/>
<path d="M148.5 530.5L148.5 534.5" stroke="#00ff00" stroke-width="1"/>
<path d="M116 492L119.5 488.5" stroke="#00ff00" stroke-width="1"/>
<path d="M123 492L119.5 488.5" stroke="#00ff00" stroke-width="1"/>
<path d="M115.5 488.5L124 488.5" stroke="#00ff00" stroke-width="1"/>
<path d="M119.5 488.5L119.5 492.5" stroke="#00ff00" stroke-width="1"/>
<path d="M121 486L124.5 482.5" stroke="#00ff00" stroke-width="1"/>
<path d="M128 486L124.5 482.5" stroke="#00ff00" stroke-width="1"/>
<path d="M120.5 482.5L129 482.5" stroke="#00ff00" stroke-width="1"/>
<path d="M124.5 482.5L124.5 486.5" stroke="#00ff00" stroke-width="1"/>
<path d="M171 486L174.5 482.5" stroke="#00ff00" stroke-width="1"/>
<path d="M178 486L174.5 482.5" stroke="#00ff00" stroke-width="1"/>
<path d="M170.5 482.5L179 482.5" stroke="#00ff00" stroke-width="1"/>
<path d="M174.5 482.5L174.5 486.5" stroke="#00ff00" stroke-width="1"/>
<path d="M176 492L179.5 488.5" stroke="#00ff00" stroke-width="1"/>
<path d="M183 492L179.5 488.5" stroke="#00ff00" stroke-width="1"/>
<path d="M175.5 488.5L184 488.5" stroke="#00ff00" stroke-width="1"/>
<path d="M179.5 488.5L179.5 492.5" stroke="#00ff00" stroke-width="1"/>
<path d="M96.5 556.5L99 559.5" stroke="#00ff00" stroke-width="1"/>
<path d="M96.5 556.5L99 553.5" stroke="#00ff00" stroke-width="1"/>
<path d="M99.5 553L99.5 560" stroke="#00ff00" stroke-width="1"/>
<path d="M101.5 553L101.5 560" stroke="#00ff00" stroke-width="1"/>
<text x="95" y="511" font-size="4.5" fill="#000000" font-weight="bold" text-anchor="start"  stroke="#000000" stroke-width="0.45">XX0000</text>
<text x="130" y="488" font-size="4.5" fill="#000000" font-weight="bold" text-anchor="start"  stroke="#000000" stroke-width="0.45">X0000</text>
<text x="123" y="493" font-size="4.5" fill="#000000" font-weight="bold" text-anchor="start"  stroke="#000000" stroke-width="0.45">0 0000</text>
<text x="182" y="488" font-size="4.5" fill="#000000" font-weight="bold" text-anchor="start"  stroke="#000000" stroke-width="0.45">X 0000</text>
<text x="186" y="493" font-size="4.5" fill="#000000" font-weight="bold" text-anchor="start"  stroke="#000000" stroke-width="0.45">0 0000</text>
<text x="180" y="501.5" font-size="4.5" fill="#000000" font-weight="bold" text-anchor="start"  stroke="#000000" stroke-width="0.45">0 0000</text>
<text x="189" y="511" font-size="4.5" fill="#000000" font-weight="bold" text-anchor="start"  stroke="#000000" stroke-width="0.45">0 0000</text>
<text x="142" y="517" font-size="4.5" fill="#000000" font-weight="bold" text-anchor="start"  stroke="#000000" stroke-width="0.45">X0000</text>
<text x="71" y="532" font-size="4.5" fill="#000000" font-weight="bold" text-anchor="start"  stroke="#000000" stroke-width="0.45">X0000</text>
<text x="211" y="532" font-size="4.5" fill="#000000" font-weight="bold" text-anchor="start"  stroke="#000000" stroke-width="0.45">X0000</text>
<text x="103" y="560.5" font-size="4.5" fill="#000000" font-weight="bold" text-anchor="start"  stroke="#000000" stroke-width="0.45">X0000</text>
<text x="95" y="569" font-size="4.5" fill="#000000" font-weight="bold" text-anchor="start"  stroke="#000000" stroke-width="0.45">XX0000</text>
<text x="142" y="537" font-size="4.5" fill="#000000" font-weight="bold" text-anchor="start"  stroke="#000000" stroke-width="0.45">0 0000</text>
<text x="142" y="542" font-size="4.5" fill="#000000" font-weight="bold" text-anchor="start"  stroke="#000000" stroke-width="0.45">X 0000</text>
<rect x="62.5" y="488.5" width="21" height="11" rx="4.5" ry="4.5" stroke="#000" fill="#fff"/>
<path d="M62.5 494.5L83.5 494.5" stroke="#000000" stroke-width="1"/>
<text x="73" y="493.5" font-size="4.6" fill="#000000" font-weight="bold" text-anchor="middle" stroke="#000" stroke-width="0.7">TIA</text>
<text x="73" y="498.8" font-size="4.8" fill="#000000" font-weight="bold" text-anchor="middle" stroke="#000" stroke-width="0.7">00000</text>
<path d="M54.5 494.5L62.5 494.5" stroke="#000000" stroke-width="1"/>
<path d="M83.5 494.5L100 494.5" stroke="#000000" stroke-width="1"/>
<rect x="62.5" y="509.5" width="21" height="11" rx="4.5" ry="4.5" stroke="#000" fill="#fff"/>
<path d="M62.5 515.5L83.5 515.5" stroke="#000000" stroke-width="1"/>
<text x="73" y="514.5" font-size="4.6" fill="#000000" font-weight="bold" text-anchor="middle" stroke="#000" stroke-width="0.7">PIA</text>
<text x="73" y="519.8" font-size="4.8" fill="#000000" font-weight="bold" text-anchor="middle" stroke="#000" stroke-width="0.7">00000</text>
<path d="M83.5 515.5L90 515.5" stroke="#000000" stroke-width="1"/>
<rect x="213.5" y="509.5" width="21" height="11" rx="4.5" ry="4.5" stroke="#000" fill="#fff"/>
<path d="M213.5 515.5L234.5 515.5" stroke="#000000" stroke-width="1"/>
<text x="224" y="514.5" font-size="4.6" fill="#000000" font-weight="bold" text-anchor="middle" stroke="#000" stroke-width="0.7">PIA</text>
<text x="224" y="519.8" font-size="4.8" fill="#000000" font-weight="bold" text-anchor="middle" stroke="#000" stroke-width="0.7">00000</text>
<path d="M206 515.5L213 515.5" stroke="#000000" stroke-width="1"/>
<rect x="31.5" y="545.5" width="21" height="11" rx="4.5" ry="4.5" stroke="#000" fill="#fff"/>
<path d="M31.5 551.5L52.5 551.5" stroke="#000000" stroke-width="1"/>
<text x="42" y="550.5" font-size="4.6" fill="#000000" font-weight="bold" text-anchor="middle" stroke="#000" stroke-width="0.7">TIA</text>
<text x="42" y="555.8" font-size="4.8" fill="#000000" font-weight="bold" text-anchor="middle" stroke="#000" stroke-width="0.7">00000</text>
<path d="M41.5 541L41.5 568" stroke="#000000" stroke-width="1"/>
<rect x="215.5" y="554.5" width="21" height="11" rx="4.5" ry="4.5" stroke="#000" fill="#fff"/>
<path d="M215.5 560.5L236.5 560.5" stroke="#000000" stroke-width="1"/>
<text x="226" y="559.5" font-size="4.6" fill="#000000" font-weight="bold" text-anchor="middle" stroke="#000" stroke-width="0.7">TIA</text>
<text x="226" y="564.8" font-size="4.8" fill="#000000" font-weight="bold" text-anchor="middle" stroke="#000" stroke-width="0.7">00000</text>
<path d="M20 569L96 569" stroke="#ff0000" stroke-width="2"/>
<path d="M200 569L287 569" stroke="#ff0000" stroke-width="2"/>
<path d="M244.5 564L244.5 568" stroke="#ff0000" stroke-width="1"/>
<path d="M241.5 564.5L247.5 564.5" stroke="#ff0000" stroke-width="1"/>
<path d="M20.5 456 L22.5 456 L22.5 450.5 L24 450.5 L21.5 447 L19 450.5 L20.5 450.5 Z" stroke="#000000" stroke-width="1" fill="#fff" />
<rect x="18.5" y="526.5" width="6" height="13" stroke="#ff0000" stroke-width="1" fill="#fff"/>
<path d="M19.5 536L22.5 529" stroke="#ff0000" stroke-width="1"/>
<path d="M21 523.8 L22.2 525 L21 526.2 L19.8 525 Z" stroke="#ff0000" stroke-width="1" fill="#ff0000" />
<path d="M21 539.8 L22.2 541 L21 542.2 L19.8 541 Z" stroke="#ff0000" stroke-width="1" fill="#ff0000" />
<path d="M32.5 521 L36 524.5 L32.5 528 L29 524.5 Z" stroke="#000000" stroke-width="1" fill="#fff" />
<path d="M36 524.5 L32.5 528 L29 524.5 Z" stroke="#000000" stroke-width="1" fill="#000" />
<path d="M24 525.5L29 525.5" stroke="#000000" stroke-width="1"/>
<text x="23" y="519" font-size="4.5" fill="#000000" font-weight="bold" text-anchor="start"  stroke="#000000" stroke-width="0.45">00 00</text>
<text x="1" y="529" font-size="4.5" fill="#000000" font-weight="bold" text-anchor="start"  stroke="#000000" stroke-width="0.45">K 0400</text>
<path d="M6.96 530.5 L9.04 530.5 L10.5 531.96 L10.5 534.04 L9.04 535.5 L6.96 535.5 L5.5 534.04 L5.5 531.96 Z" stroke="#000000" stroke-width="1" fill="#fff" />
<path d="M10.5 533.5L18 533.5" stroke="#000000" stroke-width="1"/>
<path d="M14 531L14 535.5" stroke="#000000" stroke-width="2"/>
<path d="M0 533.5L5.5 533.5" stroke="#000000" stroke-width="1"/>
<path d="M0.5 541L0.5 548" stroke="#000000" stroke-width="1"/>
<path d="M104.5 591L104.5 644.5" stroke="#000000" stroke-width="1"/>
<path d="M104.5 644.5L192.5 644.5" stroke="#000000" stroke-width="1"/>
<path d="M192.5 644.5L192.5 591" stroke="#000000" stroke-width="1"/>
<path d="M104.5 590.5 L148.5 610 L160.5 605" stroke="#000"/>
<path d="M117.5 587.5L109.5 587.5" stroke="#00ff00" stroke-width="1"/>
<path d="M109.5 587.5L109.5 596.5" stroke="#00ff00" stroke-width="1"/>
<path d="M117.5 585L117.5 590.5" stroke="#00ff00" stroke-width="1"/>
<path d="M117.5 585L127.5 590.5" stroke="#00ff00" stroke-width="1"/>
<path d="M127.5 585L127.5 591" stroke="#00ff00" stroke-width="1"/>
<path d="M127.5 587.5L131 587.5" stroke="#00ff00" stroke-width="1"/>
<path d="M126.5 590.5 L127.5 592.5 L128.5 590.5 Z" stroke="#00ff00" stroke-width="1" fill="#00ff00" />
<path d="M109.5 596.5 L111 598.25 L108 600 L111 601.75 L108 603.5 L111 605.25 L108 607 L111 608.75 L108 610.5 L111 612.25 L109.5 614" stroke="#00ff00" stroke-width="1" fill="none" />
<path d="M109.5 614L109.5 622.5" stroke="#00ff00" stroke-width="1"/>
<path d="M109.5 622.5L125.5 622.5" stroke="#00ff00" stroke-width="1"/>
<path d="M125.5 622.5L125.5 634.5" stroke="#00ff00" stroke-width="1"/>
<path d="M88.5 634.5L148.5 634.5" stroke="#00ff00" stroke-width="1"/>
<path d="M148.5 634.5L148.5 630" stroke="#00ff00" stroke-width="1"/>
<path d="M148.5 618L148.5 610" stroke="#00ff00" stroke-width="1"/>
<path d="M93.5 630L93.5 638" stroke="#00ff00" stroke-width="1"/>
<path d="M96.5 630L96.5 638" stroke="#00ff00" stroke-width="1"/>
<path d="M92 630.5L98 630.5" stroke="#00ff00" stroke-width="1"/>
<path d="M109 634.5 L124 634.5" stroke="#fff"/>
<path d="M109 634.5 L109.62 635.01 L110.25 636.25 L110.88 637.49 L111.5 638 L112.12 637.49 L112.75 636.25 L113.38 635.01 L114 634.5 L114.62 635.01 L115.25 636.25 L115.88 637.49 L116.5 638 L117.12 637.49 L117.75 636.25 L118.38 635.01 L119 634.5 L119.62 635.01 L120.25 636.25 L120.88 637.49 L121.5 638 L122.12 637.49 L122.75 636.25 L123.38 635.01 L124 634.5" stroke="#00ff00" stroke-width="1" fill="none" />
<rect x="145.5" y="618.5" width="5" height="12" stroke="#00ff00" stroke-width="1" fill="#fff"/>
<path d="M146.5 628L149.5 620.5" stroke="#00ff00" stroke-width="1"/>
<path d="M88.5 631L88.5 639.5" stroke="#00ff00" stroke-width="1"/>
<path d="M88.5 622.5 L92.5 626.5 L88.5 630.5 L84.5 626.5 Z" stroke="#000000" stroke-width="1" fill="#fff" />
<path d="M88.5 622.5 L92.5 626.5 L88.5 630.5 Z" stroke="#000000" stroke-width="1" fill="#000" />
<rect x="80.5" y="639.5" width="17" height="6" stroke="#000000" stroke-width="1" fill="none"/>
<text x="88.5" y="644.05" font-size="4" fill="#000000" font-weight="bold" text-anchor="middle"  stroke="#000000" stroke-width="0.45">00000</text>
<path d="M88.5 645L88.5 659" stroke="#000000" stroke-width="1"/>
<path d="M86.5 650 L88.5 654 L90.5 650 Z" stroke="#000000" stroke-width="1" fill="#fff" />
<path d="M86.5 653 L88.5 657 L90.5 653 Z" stroke="#000000" stroke-width="1" fill="#fff" />
<text x="80" y="664.5" font-size="4.5" fill="#000000" font-weight="bold" text-anchor="start"  stroke="#000000" stroke-width="0.45">000-0-00</text>
<text x="115.5" y="584.5" font-size="4.5" fill="#000000" font-weight="bold" text-anchor="start"  stroke="#000000" stroke-width="0.45">P-0000</text>
<text x="108" y="642" font-size="4.5" fill="#000000" font-weight="bold" text-anchor="start"  stroke="#000000" stroke-width="0.45">A-0000</text>
<text x="130" y="625.5" font-size="4.5" fill="#000000" font-weight="bold" text-anchor="start"  stroke="#000000" stroke-width="0.45">K 0000</text>
<text x="126.5" y="633.5" font-size="4.5" fill="#000000" font-weight="bold" text-anchor="start"  stroke="#000000" stroke-width="0.45">X 0000</text>
<path d="M150.5 624L157.5 624" stroke="#000000" stroke-width="2"/>
<path d="M148.5 623.5 L152 621 L152 626 Z" stroke="#000000" stroke-width="1" fill="#000000" />
<path d="M156.5 620.5L156.5 627" stroke="#000000" stroke-width="1"/>
<path d="M159.46 621 L161.54 621 L163 622.46 L163 624.54 L161.54 626 L159.46 626 L158 624.54 L158 622.46 Z" stroke="#000000" stroke-width="1" fill="#fff" />
<path d="M163 623.5L168.5 623.5" stroke="#000000" stroke-width="1"/>
<rect x="168.5" y="618.5" width="21" height="11" rx="4.5" ry="4.5" stroke="#000" fill="#fff"/>
<path d="M168.5 624.5L189.5 624.5" stroke="#000000" stroke-width="1"/>
<text x="179" y="623.5" font-size="4.6" fill="#000000" font-weight="bold" text-anchor="middle" stroke="#000" stroke-width="0.7">ZS</text>
<text x="179" y="628.8" font-size="4.8" fill="#000000" font-weight="bold" text-anchor="middle" stroke="#000" stroke-width="0.7">00000</text>
<rect x="158.5" y="631.5" width="21" height="11" rx="4.5" ry="4.5" stroke="#000" fill="#fff"/>
<path d="M158.5 637.5L179.5 637.5" stroke="#000000" stroke-width="1"/>
<text x="169" y="636.5" font-size="4.6" fill="#000000" font-weight="bold" text-anchor="middle" stroke="#000" stroke-width="0.7">HSA</text>
<text x="169" y="641.8" font-size="4.8" fill="#000000" font-weight="bold" text-anchor="middle" stroke="#000" stroke-width="0.7">00000</text>
<path d="M158.5 637.5L156.5 637.5" stroke="#000000" stroke-width="1"/>
<path d="M156.5 637L156.5 624" stroke="#000000" stroke-width="1"/>
<rect x="117.5" y="608.5" width="21" height="11" rx="4.5" ry="4.5" stroke="#000" fill="#fff"/>
<path d="M117.5 614.5L138.5 614.5" stroke="#000000" stroke-width="1"/>
<text x="128" y="613.5" font-size="4.6" fill="#000000" font-weight="bold" text-anchor="middle" stroke="#000" stroke-width="0.7">LSH</text>
<text x="128" y="618.8" font-size="4.8" fill="#000000" font-weight="bold" text-anchor="middle" stroke="#000" stroke-width="0.7">00000</text>
<path d="M138.5 613.5L148 613.5" stroke="#000000" stroke-width="1"/>
<circle cx="179.5" cy="605.5" r="5.5" stroke="#000000" stroke-width="1" fill="#fff"/>
<path d="M177.3 608 L177.3 603 L179.5 606 L181.7 603 L181.7 608" stroke="#000000" stroke-width="1" fill="none" />
<text x="159.5" y="602" font-size="4.5" fill="#000000" font-weight="bold" text-anchor="start"  stroke="#000000" stroke-width="0.45">M 0000</text>
<rect x="168.5" y="584.5" width="21" height="11" rx="4.5" ry="4.5" stroke="#000" fill="#fff"/>
<path d="M168.5 590.5L189.5 590.5" stroke="#000000" stroke-width="1"/>
<text x="179" y="589.5" font-size="4.6" fill="#000000" font-weight="bold" text-anchor="middle" stroke="#000" stroke-width="0.7">TIA</text>
<text x="179" y="594.8" font-size="4.8" fill="#000000" font-weight="bold" text-anchor="middle" stroke="#000" stroke-width="0.7">00000</text>
<path d="M179.5 596L179.5 600" stroke="#000000" stroke-width="1"/>
<rect x="194.5" y="600.5" width="21" height="11" rx="4.5" ry="4.5" stroke="#000" fill="#fff"/>
<path d="M194.5 606.5L215.5 606.5" stroke="#000000" stroke-width="1"/>
<text x="205" y="605.5" font-size="4.6" fill="#000000" font-weight="bold" text-anchor="middle" stroke="#000" stroke-width="0.7">SI</text>
<text x="205" y="610.8" font-size="4.8" fill="#000000" font-weight="bold" text-anchor="middle" stroke="#000" stroke-width="0.7">00000</text>
<rect x="215.5" y="600.5" width="21" height="11" rx="4.5" ry="4.5" stroke="#000" fill="#fff"/>
<path d="M215.5 606.5L236.5 606.5" stroke="#000000" stroke-width="1"/>
<text x="226" y="605.5" font-size="4.6" fill="#000000" font-weight="bold" text-anchor="middle" stroke="#000" stroke-width="0.7">SIC</text>
<text x="226" y="610.8" font-size="4.8" fill="#000000" font-weight="bold" text-anchor="middle" stroke="#000" stroke-width="0.7">00000</text>
<rect x="215.5" y="610.5" width="21" height="11" rx="4.5" ry="4.5" stroke="#000" fill="#fff"/>
<path d="M215.5 616.5L236.5 616.5" stroke="#000000" stroke-width="1"/>
<text x="226" y="615.5" font-size="4.6" fill="#000000" font-weight="bold" text-anchor="middle" stroke="#000" stroke-width="0.7">SIA</text>
<text x="226" y="620.8" font-size="4.8" fill="#000000" font-weight="bold" text-anchor="middle" stroke="#000" stroke-width="0.7">00000</text>
<path d="M179.5 611L179.5 616.5" stroke="#000000" stroke-width="1"/>
<path d="M179.5 616.5L215 616.5" stroke="#000000" stroke-width="1"/>
<text x="0" y="607" font-size="4.5" fill="#000000" font-weight="bold" text-anchor="start"  stroke="#000000" stroke-width="0.45">000g0000</text>
<text x="0" y="612.2" font-size="4.5" fill="#000000" font-weight="bold" text-anchor="start"  stroke="#000000" stroke-width="0.45">00000000000g0 00Ug</text>
<text x="0" y="617.4" font-size="4.5" fill="#000000" font-weight="bold" text-anchor="start"  stroke="#000000" stroke-width="0.45">0r0d-0or 0ase</text>
<text x="0" y="622.6" font-size="4.5" fill="#000000" font-weight="bold" text-anchor="start"  stroke="#000000" stroke-width="0.45">0r0sr g-0</text>
<text x="0" y="627.8" font-size="4.5" fill="#000000" font-weight="bold" text-anchor="start"  stroke="#000000" stroke-width="0.45">000-0 0I0</text>
<text x="0" y="633" font-size="4.5" fill="#000000" font-weight="bold" text-anchor="start"  stroke="#000000" stroke-width="0.45">0p00000000r 0 000</text>
<text x="0" y="638.2" font-size="4.5" fill="#000000" font-weight="bold" text-anchor="start"  stroke="#000000" stroke-width="0.45">V-000</text>
<text x="0" y="643.4" font-size="4.5" fill="#000000" font-weight="bold" text-anchor="start"  stroke="#000000" stroke-width="0.45">PTE-rlg</text>
<path d="M285 401L411 401" stroke="#ff0000" stroke-width="2"/>
<path d="M410 400L410 455" stroke="#ff0000" stroke-width="2"/>
<path d="M286 400L286 569.5" stroke="#ff0000" stroke-width="2"/>
<path d="M410 481L410 505.5" stroke="#ff0000" stroke-width="2"/>
<path d="M409 505L467.5 505" stroke="#ff0000" stroke-width="2"/>
<path d="M487.5 505L508 505" stroke="#ff0000" stroke-width="2"/>
<path d="M518.5 505L550.5 505" stroke="#ff0000" stroke-width="2"/>
<path d="M576 505L599.5 505" stroke="#ff0000" stroke-width="2"/>
<path d="M614.5 505L687.5 505" stroke="#ff0000" stroke-width="2"/>
<path d="M695.5 505L705 505" stroke="#ff0000" stroke-width="2"/>
<path d="M726.5 505L747.5 505" stroke="#ff0000" stroke-width="2"/>
<path d="M773 505L778.5 505" stroke="#ff0000" stroke-width="2"/>
<path d="M452 504.5L452 525" stroke="#ff0000" stroke-width="2"/>
<path d="M452 525L508 525" stroke="#ff0000" stroke-width="2"/>
<path d="M451 525L453 525" stroke="#ff0000" stroke-width="2"/>
<path d="M518.5 525L528.5 525" stroke="#ff0000" stroke-width="2"/>
<path d="M529 525L529 504.5" stroke="#ff0000" stroke-width="2"/>
<path d="M527.5 525L529.5 525" stroke="#ff0000" stroke-width="2"/>
<path d="M283 393.5 L288.5 393.5 L285.5 389.5 Z" stroke="#ff0000" stroke-width="1" fill="#fff" />
<path d="M284.5 454 L286.5 454 L286.5 459.5 L288 459.5 L285.5 463 L283 459.5 L284.5 459.5 Z" stroke="#000000" stroke-width="1" fill="#fff" />
<rect x="293.5" y="376.5" width="21" height="11" rx="4.5" ry="4.5" stroke="#000" fill="#fff"/>
<path d="M293.5 382.5L314.5 382.5" stroke="#000000" stroke-width="1"/>
<text x="304" y="381.5" font-size="4.6" fill="#000000" font-weight="bold" text-anchor="middle" stroke="#000" stroke-width="0.7">PIA</text>
<text x="304" y="386.8" font-size="4.8" fill="#000000" font-weight="bold" text-anchor="middle" stroke="#000" stroke-width="0.7">00000</text>
<path d="M303.5 388L303.5 400" stroke="#000000" stroke-width="1"/>
<rect x="344.5" y="376.5" width="21" height="11" rx="4.5" ry="4.5" stroke="#000" fill="#fff"/>
<path d="M344.5 382.5L365.5 382.5" stroke="#000000" stroke-width="1"/>
<text x="355" y="381.5" font-size="4.6" fill="#000000" font-weight="bold" text-anchor="middle" stroke="#000" stroke-width="0.7">TIA</text>
<text x="355" y="386.8" font-size="4.8" fill="#000000" font-weight="bold" text-anchor="middle" stroke="#000" stroke-width="0.7">00000</text>
<path d="M355.5 388L355.5 400" stroke="#000000" stroke-width="1"/>
<path d="M312 391.5 L316 395.5 L312 399.5 L308 395.5 Z" stroke="#000000" stroke-width="1" fill="#fff" />
<path d="M308 395.5 L312 391.5 L316 395.5 Z" stroke="#000000" stroke-width="1" fill="#000" />
<path d="M303.5 396.5L308 396.5" stroke="#000000" stroke-width="1"/>
<text x="293" y="394" font-size="4" fill="#000000" font-weight="bold" text-anchor="start"  stroke="#000000" stroke-width="0.45">00V</text>
<text x="332" y="400" font-size="4.5" fill="#000000" font-weight="bold" text-anchor="start"  stroke="#000000" stroke-width="0.45">00 00</text>
<path d="M347.5 403.5 L351.5 407.5 L347.5 411.5 L343.5 407.5 Z" stroke="#000000" stroke-width="1" fill="#fff" />
<path d="M347.5 403.5 L351.5 407.5 L347.5 411.5 Z" stroke="#000000" stroke-width="1" fill="#000" />
<path d="M376 403.5 L380 407.5 L376 411.5 L372 407.5 Z" stroke="#000000" stroke-width="1" fill="#fff" />
<path d="M376 403.5 L372 407.5 L376 411.5 Z" stroke="#000000" stroke-width="1" fill="#000" />
<path d="M347.5 401.5L347.5 404" stroke="#000000" stroke-width="1"/>
<path d="M376.5 401.5L376.5 404" stroke="#000000" stroke-width="1"/>
<path d="M364.5 394.5L364.5 407.5" stroke="#ff0000" stroke-width="1"/>
<path d="M362 395L369 395" stroke="#ff0000" stroke-width="2"/>
<path d="M359 408L366 408" stroke="#ff0000" stroke-width="2"/>
<path d="M350.5 398L350.5 403.5" stroke="#ff0000" stroke-width="1"/>
<path d="M371 399 L372.5 400.5 L371 402 L369.5 400.5 Z" stroke="#ff0000" stroke-width="1" fill="#ff0000" />
<text x="361" y="391" font-size="4" fill="#000000" font-weight="bold" text-anchor="start"  stroke="#000000" stroke-width="0.45">00 V/F</text>
<path d="M342 420.5 L346 424.5 L342 428.5 L338 424.5 Z" stroke="#000000" stroke-width="1" fill="#fff" />
<path d="M346 424.5 L342 428.5 L338 424.5 Z" stroke="#000000" stroke-width="1" fill="#000" />
<path d="M346 424.5L350.5 424.5" stroke="#000000" stroke-width="1"/>
<path d="M350.5 424.5L389 424.5" stroke="#ff0000" stroke-width="1"/>
<path d="M405 424.5L443.5 424.5" stroke="#ff0000" stroke-width="1"/>
<path d="M350.5 424.5L350.5 445.5" stroke="#ff0000" stroke-width="1"/>
<path d="M350.5 458.5L350.5 496" stroke="#ff0000" stroke-width="1"/>
<path d="M350.5 513L350.5 535.5" stroke="#ff0000" stroke-width="1"/>
<path d="M350.5 535.5L384 535.5" stroke="#ff0000" stroke-width="1"/>
<path d="M401.5 535.5L434 535.5" stroke="#ff0000" stroke-width="1"/>
<path d="M450 535.5L484 535.5" stroke="#ff0000" stroke-width="1"/>
<path d="M500 535.5L534 535.5" stroke="#ff0000" stroke-width="1"/>
<path d="M550 535.5L584.5 535.5" stroke="#ff0000" stroke-width="1"/>
<path d="M600 535.5L633.5 535.5" stroke="#ff0000" stroke-width="1"/>
<path d="M650 535.5L684 535.5" stroke="#ff0000" stroke-width="1"/>
<path d="M750 535.5L783.5 535.5" stroke="#ff0000" stroke-width="1"/>
<path d="M546.5 473.5L580 473.5" stroke="#ff0000" stroke-width="1"/>
<path d="M597.5 473.5L629.5 473.5" stroke="#ff0000" stroke-width="1"/>
<path d="M647.5 473.5L680 473.5" stroke="#ff0000" stroke-width="1"/>
<path d="M697 473.5L730 473.5" stroke="#ff0000" stroke-width="1"/>
<path d="M747 473.5L783.5 473.5" stroke="#ff0000" stroke-width="1"/>
<path d="M783.5 468L783.5 495.5" stroke="#ff0000" stroke-width="1"/>
<path d="M783.5 513L783.5 535.5" stroke="#ff0000" stroke-width="1"/>
<path d="M443.5 424.5L443.5 473.5" stroke="#ff0000" stroke-width="1"/>
<path d="M443.5 473.5L456 473.5" stroke="#ff0000" stroke-width="1"/>
<path d="M463 473.5L495 473.5" stroke="#ff0000" stroke-width="1"/>
<path d="M497.5 473.5L529.5 473.5" stroke="#ff0000" stroke-width="1"/>
<path d="M459.5 469.5 L463.5 473.5 L459.5 477.5 L455.5 473.5 Z" stroke="#000000" stroke-width="1" fill="#fff" />
<path d="M463.5 473.5 L459.5 477.5 L455.5 473.5 Z" stroke="#000000" stroke-width="1" fill="#000" />
<text x="463" y="472.5" font-size="4.5" fill="#000000" font-weight="bold" text-anchor="start"  stroke="#000000" stroke-width="0.45">000</text>
<text x="486" y="472.5" font-size="4.5" fill="#000000" font-weight="bold" text-anchor="start"  stroke="#000000" stroke-width="0.45">00 0</text>
<path d="M700 535.5L733 535.5" stroke="#a00000" stroke-width="1"/>
<text x="701.5" y="534.5" font-size="4.5" fill="#000000" font-weight="bold" text-anchor="start"  stroke="#000000" stroke-width="0.45">000</text>
<text x="723" y="534.5" font-size="4.5" fill="#000000" font-weight="bold" text-anchor="start"  stroke="#000000" stroke-width="0.45">00F</text>
<path d="M736.5 531.5 L740.5 535.5 L736.5 539.5 L732.5 535.5 Z" stroke="#000000" stroke-width="1" fill="#fff" />
<path d="M732.5 535.5 L736.5 531.5 L740.5 535.5 Z" stroke="#000000" stroke-width="1" fill="#000" />
<path d="M783.5 460.5 L787.5 464.5 L783.5 468.5 L779.5 464.5 Z" stroke="#000000" stroke-width="1" fill="#fff" />
<path d="M783.5 460.5 L779.5 464.5 L783.5 468.5 Z" stroke="#000000" stroke-width="1" fill="#000" />
<text x="753" y="472" font-size="4.5" fill="#000000" font-weight="bold" text-anchor="start"  stroke="#000000" stroke-width="0.45">A 000F</text>
<path d="M407.5 427.5 L412.5 427.5 L410 424 Z" stroke="#ff0000" stroke-width="1" fill="#fff" />
<text x="415" y="428.5" font-size="4.5" fill="#000000" font-weight="bold" text-anchor="start"  stroke="#000000" stroke-width="0.45">X0000</text>
<path d="M404 430L404 437.5" stroke="#ff0000" stroke-width="2"/>
<path d="M402 431L407 431" stroke="#ff0000" stroke-width="2"/>
<path d="M416 430L416 437.5" stroke="#ff0000" stroke-width="2"/>
<path d="M414 431L419 431" stroke="#ff0000" stroke-width="2"/>
<path d="M404 434.5L416 434.5" stroke="#ff0000" stroke-width="1"/>
<path d="M404 441L404 447.5" stroke="#ff0000" stroke-width="2"/>
<path d="M402 442L407 442" stroke="#ff0000" stroke-width="2"/>
<path d="M404 444.5L410 444.5" stroke="#ff0000" stroke-width="1"/>
<text x="392" y="438" font-size="4" fill="#000000" font-weight="bold" text-anchor="start"  stroke="#000000" stroke-width="0.45">00h</text>
<text x="393" y="443" font-size="4" fill="#000000" font-weight="bold" text-anchor="start"  stroke="#000000" stroke-width="0.45">0-0</text>
<rect x="402.5" y="455.5" width="15" height="26" stroke="#ff0000" stroke-width="1" fill="#fff"/>
<path d="M402.5 464 L410 456 L417.5 464" stroke="#ff0000" stroke-width="1" fill="none" />
<path d="M402.5 467.5 L410 459.5 L417.5 467.5" stroke="#ff0000" stroke-width="1" fill="none" />
<text x="410" y="472" font-size="4.5" fill="#000000" font-weight="bold" text-anchor="middle"  stroke="#000000" stroke-width="0.45">H6</text>
<text x="421" y="469" font-size="4.5" fill="#000000" font-weight="bold" text-anchor="start"  stroke="#000000" stroke-width="0.45">F 0000</text>
<text x="421" y="474" font-size="4.5" fill="#000000" font-weight="bold" text-anchor="start"  stroke="#000000" stroke-width="0.45">F 0040</text>
<path d="M409 450.5L363.5 450.5" stroke="#000000" stroke-width="1"/>
<path d="M363.5 450.5L363.5 486.5" stroke="#000000" stroke-width="1"/>
<path d="M363.5 486.5L409 486.5" stroke="#000000" stroke-width="1"/>
<path d="M384.5 450.5L384.5 486.5" stroke="#000000" stroke-width="1"/>
<rect x="353.5" y="463.5" width="21" height="11" rx="4.5" ry="4.5" stroke="#000" fill="#fff"/>
<path d="M353.5 469.5L374.5 469.5" stroke="#000000" stroke-width="1"/>
<text x="364" y="468.5" font-size="4.6" fill="#000000" font-weight="bold" text-anchor="middle" stroke="#000" stroke-width="0.7">PDIA</text>
<text x="364" y="473.8" font-size="4.8" fill="#000000" font-weight="bold" text-anchor="middle" stroke="#000" stroke-width="0.7">00000</text>
<rect x="374.5" y="463.5" width="21" height="11" rx="4.5" ry="4.5" stroke="#000" fill="#fff"/>
<path d="M374.5 469.5L395.5 469.5" stroke="#000000" stroke-width="1"/>
<text x="385" y="468.5" font-size="4.6" fill="#000000" font-weight="bold" text-anchor="middle" stroke="#000" stroke-width="0.7">PDS</text>
<text x="385" y="473.8" font-size="4.8" fill="#000000" font-weight="bold" text-anchor="middle" stroke="#000" stroke-width="0.7">00000</text>
<path d="M404.5 491L404.5 497" stroke="#ff0000" stroke-width="1"/>
<path d="M404.5 494.5L410 494.5" stroke="#ff0000" stroke-width="1"/>
<text x="392" y="493" font-size="4" fill="#000000" font-weight="bold" text-anchor="start"  stroke="#000000" stroke-width="0.45">000</text>
<text x="392" y="498.5" font-size="4" fill="#000000" font-weight="bold" text-anchor="start"  stroke="#000000" stroke-width="0.45">0VF</text>
<path d="M472.5 395L472.5 494.5" stroke="#ff00ff" stroke-width="1"/>
<path d="M482.5 395L482.5 494.5" stroke="#ff00ff" stroke-width="1"/>
<path d="M470 395 L475 395 L470 406 L475 406 Z" stroke="#ff00ff" stroke-width="1" fill="#fff" />
<path d="M480 395 L485 395 L480 406 L485 406 Z" stroke="#ff00ff" stroke-width="1" fill="#fff" />
<path d="M464.67 398.5 L466.33 398.5 L467.5 399.67 L467.5 401.33 L466.33 402.5 L464.67 402.5 L463.5 401.33 L463.5 399.67 Z" stroke="#000000" stroke-width="1" fill="#fff" />
<path d="M467.5 400.5L470.5 400.5" stroke="#000000" stroke-width="1"/>
<path d="M489.17 398.5 L490.83 398.5 L492 399.67 L492 401.33 L490.83 402.5 L489.17 402.5 L488 401.33 L488 399.67 Z" stroke="#000000" stroke-width="1" fill="#fff" />
<path d="M484.5 400.5L488 400.5" stroke="#000000" stroke-width="1"/>
<path d="M471.5 393.5 L473.5 393.5 L473.5 389.5 L475 389.5 L472.5 386 L470 389.5 L471.5 389.5 Z" stroke="#000000" stroke-width="1" fill="#fff" />
<path d="M481.5 386 L483.5 386 L483.5 390 L485 390 L482.5 393.5 L480 390 L481.5 390 Z" stroke="#000000" stroke-width="1" fill="#fff" />
<rect x="469.5" y="372.5" width="5" height="10" stroke="#000000" stroke-width="1" fill="#fff"/>
<path d="M472 374L472 381" stroke="#000000" stroke-width="2"/>
<rect x="471" y="376" width="1" height="1" stroke="#fff" stroke-width="0" fill="#fff"/>
<rect x="471" y="379" width="1" height="1" stroke="#fff" stroke-width="0" fill="#fff"/>
<rect x="480.5" y="372.5" width="5" height="10" stroke="#000000" stroke-width="1" fill="#fff"/>
<path d="M483 374L483 381" stroke="#000000" stroke-width="2"/>
<rect x="482" y="376" width="1" height="1" stroke="#fff" stroke-width="0" fill="#fff"/>
<rect x="482" y="379" width="1" height="1" stroke="#fff" stroke-width="0" fill="#fff"/>
<rect x="478.5" y="416.5" width="9" height="5" stroke="#ff00ff" stroke-width="1" fill="#fff"/>
<path d="M479 420.5L486.5 417.5" stroke="#ff00ff" stroke-width="1"/>
<path d="M476 415.8 L477.2 417 L476 418.2 L474.8 417 Z" stroke="#000000" stroke-width="1" fill="#000000" />
<path d="M476 419.8 L477.2 421 L476 422.2 L474.8 421 Z" stroke="#000000" stroke-width="1" fill="#000000" />
<path d="M472 417.5L477 417.5" stroke="#000000" stroke-width="1"/>
<text x="491" y="420" font-size="4.5" fill="#000000" font-weight="bold" text-anchor="start"  stroke="#000000" stroke-width="0.45">F 0000</text>
<text x="495" y="424.5" font-size="4.5" fill="#000000" font-weight="bold" text-anchor="start"  stroke="#000000" stroke-width="0.45">00F</text>
<circle cx="472" cy="432" r="5.5" stroke="#ff00ff" stroke-width="1" fill="#fff"/>
<path d="M472 426.5 A5.5 5.5 0 0 1 472 437.5 Z" fill="#f0f" stroke="#f0f" transform="rotate(-35 472 432)"/>
<path d="M480 439.5 L485 439.5 L480 449.5 L485 449.5 Z" stroke="#ff00ff" stroke-width="1" fill="#fff" />
<path d="M476.5 437.5 L478 439 L476.5 440.5 L475 439 Z" stroke="#000000" stroke-width="1" fill="#000000" />
<path d="M476.5 448.5 L478 450 L476.5 451.5 L475 450 Z" stroke="#000000" stroke-width="1" fill="#000000" />
<path d="M485 444.5L494 444.5" stroke="#000000" stroke-width="1"/>
<path d="M495.46 442 L497.54 442 L499 443.46 L499 445.54 L497.54 447 L495.46 447 L494 445.54 L494 443.46 Z" stroke="#000000" stroke-width="1" fill="#fff" />
<path d="M499 444.5L504 444.5" stroke="#000000" stroke-width="1"/>
<rect x="504.5" y="439.5" width="21" height="11" rx="4.5" ry="4.5" stroke="#000" fill="#fff"/>
<path d="M504.5 445.5L525.5 445.5" stroke="#000000" stroke-width="1"/>
<text x="515" y="444.5" font-size="4.6" fill="#000000" font-weight="bold" text-anchor="middle" stroke="#000" stroke-width="0.7">ZS</text>
<text x="515" y="449.8" font-size="4.8" fill="#000000" font-weight="bold" text-anchor="middle" stroke="#000" stroke-width="0.7">00000</text>
<text x="491" y="436.5" font-size="4.5" fill="#000000" font-weight="bold" text-anchor="start"  stroke="#000000" stroke-width="0.45">V 0000</text>
<text x="495" y="440.5" font-size="4.5" fill="#000000" font-weight="bold" text-anchor="start"  stroke="#000000" stroke-width="0.45">00F</text>
<rect x="471" y="473" width="2" height="2" stroke="#000000" stroke-width="0" fill="#000000"/>
<rect x="482" y="473" width="2" height="2" stroke="#000000" stroke-width="0" fill="#000000"/>
<circle cx="477.5" cy="504.5" r="10" stroke="#ff00ff" stroke-width="1" fill="#fff"/>
<path d="M472 494.5 L472 508.5 L477.5 499.5 L482.5 508.5 L482.5 494.5" stroke="#ff00ff" stroke-width="1" fill="none" />
<text x="470.5" y="519" font-size="4.5" fill="#000000" font-weight="bold" text-anchor="start"  stroke="#000000" stroke-width="0.45">V 0000</text>
<rect x="503.5" y="476.5" width="21" height="11" rx="4.5" ry="4.5" stroke="#000" fill="#fff"/>
<path d="M503.5 482.5L524.5 482.5" stroke="#000000" stroke-width="1"/>
<text x="514" y="481.5" font-size="4.6" fill="#000000" font-weight="bold" text-anchor="middle" stroke="#000" stroke-width="0.7">TIC</text>
<text x="514" y="486.8" font-size="4.8" fill="#000000" font-weight="bold" text-anchor="middle" stroke="#000" stroke-width="0.7">00000</text>
<path d="M524.5 481.5L529.5 481.5" stroke="#000000" stroke-width="1"/>
<path d="M514.5 487L514.5 522" stroke="#000000" stroke-width="1"/>
<path d="M514.5 489 L517 492 L514.5 495 L512 492 Z" stroke="#000000" stroke-width="1" fill="#fff" />
<rect x="508.5" y="501.5" width="10" height="6" stroke="#ff0000" stroke-width="1" fill="#fff"/>
<path d="M509.5 506.5L517 502.5" stroke="#ff0000" stroke-width="1"/>
<path d="M512 505L516 505" stroke="#000000" stroke-width="2"/>
<rect x="508.5" y="522.5" width="10" height="5" stroke="#ff0000" stroke-width="1" fill="#fff"/>
<path d="M509.5 526.5L517 523" stroke="#ff0000" stroke-width="1"/>
<path d="M512 525L516 525" stroke="#000000" stroke-width="2"/>
<path d="M511.5 516 Q514 512.5 517 516" stroke="#000"/>
<text x="507" y="532.5" font-size="4.5" fill="#000000" font-weight="bold" text-anchor="start"  stroke="#000000" stroke-width="0.45">0 0000</text>
<rect x="283.5" y="527.5" width="5" height="12" stroke="#ff0000" stroke-width="1" fill="#fff"/>
<path d="M284.5 537L287 530" stroke="#ff0000" stroke-width="1"/>
<path d="M286 539.8 L287.2 541 L286 542.2 L284.8 541 Z" stroke="#ff0000" stroke-width="1" fill="#ff0000" />
<path d="M276.5 521 L280 524.5 L276.5 528 L273 524.5 Z" stroke="#000000" stroke-width="1" fill="#fff" />
<path d="M280 524.5 L276.5 528 L273 524.5 Z" stroke="#000000" stroke-width="1" fill="#000" />
<path d="M279.5 525.5L284 525.5" stroke="#000000" stroke-width="1"/>
<text x="269" y="519" font-size="4.5" fill="#000000" font-weight="bold" text-anchor="start"  stroke="#000000" stroke-width="0.45">00 00</text>
<text x="291" y="529" font-size="4.5" fill="#000000" font-weight="bold" text-anchor="start"  stroke="#000000" stroke-width="0.45">K 00/04</text>
<path d="M288.5 533.5L296.5 533.5" stroke="#000000" stroke-width="1"/>
<path d="M292 531L292 535.5" stroke="#000000" stroke-width="2"/>
<path d="M297.96 530.5 L300.04 530.5 L301.5 531.96 L301.5 534.04 L300.04 535.5 L297.96 535.5 L296.5 534.04 L296.5 531.96 Z" stroke="#000000" stroke-width="1" fill="#fff" />
<path d="M301.5 533.5L306.5 533.5" stroke="#000000" stroke-width="1"/>
<rect x="306.5" y="526.5" width="21" height="11" rx="4.5" ry="4.5" stroke="#000" fill="#fff"/>
<path d="M306.5 532.5L327.5 532.5" stroke="#000000" stroke-width="1"/>
<text x="317" y="531.5" font-size="4.6" fill="#000000" font-weight="bold" text-anchor="middle" stroke="#000" stroke-width="0.7">ZS</text>
<text x="317" y="536.8" font-size="4.8" fill="#000000" font-weight="bold" text-anchor="middle" stroke="#000" stroke-width="0.7">00000</text>
<rect x="306.5" y="537.5" width="21" height="11" rx="4.5" ry="4.5" stroke="#000" fill="#fff"/>
<path d="M306.5 543.5L327.5 543.5" stroke="#000000" stroke-width="1"/>
<text x="317" y="542.5" font-size="4.6" fill="#000000" font-weight="bold" text-anchor="middle" stroke="#000" stroke-width="0.7">HSA</text>
<text x="317" y="547.8" font-size="4.8" fill="#000000" font-weight="bold" text-anchor="middle" stroke="#000" stroke-width="0.7">00000</text>
<rect x="550.5" y="496.5" width="26" height="16" stroke="#ff0000" stroke-width="1" fill="#fff"/>
<path d="M557.5 496.5 L551 504.5 L557.5 512" stroke="#ff0000" stroke-width="1" fill="none" />
<text x="564.25" y="506.3" font-size="4.5" fill="#000000" font-weight="bold" text-anchor="middle"  stroke="#000000" stroke-width="0.45">r6</text>
<rect x="552.5" y="480.5" width="21" height="11" rx="4.5" ry="4.5" stroke="#000" fill="#fff"/>
<path d="M552.5 486.5L573.5 486.5" stroke="#000000" stroke-width="1"/>
<text x="563" y="485.5" font-size="4.6" fill="#000000" font-weight="bold" text-anchor="middle" stroke="#000" stroke-width="0.7">PDI</text>
<text x="563" y="490.8" font-size="4.8" fill="#000000" font-weight="bold" text-anchor="middle" stroke="#000" stroke-width="0.7">00000</text>
<path d="M552.5 486.5L547.5 486.5" stroke="#000000" stroke-width="1"/>
<path d="M547.5 486L547.5 504" stroke="#000000" stroke-width="1"/>
<path d="M573.5 486.5L578.5 486.5" stroke="#000000" stroke-width="1"/>
<path d="M578.5 486L578.5 504" stroke="#000000" stroke-width="1"/>
<text x="557.5" y="517" font-size="4.5" fill="#000000" font-weight="bold" text-anchor="start"  stroke="#000000" stroke-width="0.45">F 0000</text>
<text x="557.5" y="522" font-size="4.5" fill="#000000" font-weight="bold" text-anchor="start"  stroke="#000000" stroke-width="0.45">F 0040</text>
<rect x="578.5" y="514.5" width="21" height="11" rx="4.5" ry="4.5" stroke="#000" fill="#fff"/>
<path d="M578.5 520.5L599.5 520.5" stroke="#000000" stroke-width="1"/>
<text x="589" y="519.5" font-size="4.6" fill="#000000" font-weight="bold" text-anchor="middle" stroke="#000" stroke-width="0.7">MI</text>
<text x="589" y="524.8" font-size="4.8" fill="#000000" font-weight="bold" text-anchor="middle" stroke="#000" stroke-width="0.7">00000</text>
<path d="M588.5 505.5L588.5 514" stroke="#000000" stroke-width="1"/>
<circle cx="607" cy="504.5" r="7.5" stroke="#ff0000" stroke-width="1" fill="#fff"/>
<circle cx="607" cy="504.5" r="6" stroke="#ff0000" stroke-width="1" fill="none"/>
<path d="M601.5 504.5 L610 500 L612 504.5 L610 509 Z" stroke="#ff0000" stroke-width="1" fill="none" />
<path d="M601.5 504.5L612 504.5" stroke="#ff0000" stroke-width="1"/>
<path d="M610.5 500L610.5 509" stroke="#ff0000" stroke-width="1"/>
<path d="M607.5 489L607.5 497" stroke="#000000" stroke-width="1"/>
<circle cx="607" cy="483.5" r="5.5" stroke="#000000" stroke-width="1" fill="#fff"/>
<path d="M604.8 486 L604.8 481 L607 484 L609.2 481 L609.2 486" stroke="#000000" stroke-width="1" fill="none" />
<path d="M612.5 483.5L620 483.5" stroke="#000000" stroke-width="1"/>
<rect x="620.5" y="478.5" width="21" height="11" rx="4.5" ry="4.5" stroke="#000" fill="#fff"/>
<path d="M620.5 484.5L641.5 484.5" stroke="#000000" stroke-width="1"/>
<text x="631" y="483.5" font-size="4.6" fill="#000000" font-weight="bold" text-anchor="middle" stroke="#000" stroke-width="0.7">TIA</text>
<text x="631" y="488.8" font-size="4.8" fill="#000000" font-weight="bold" text-anchor="middle" stroke="#000" stroke-width="0.7">00000</text>
<rect x="596.5" y="449.5" width="21" height="11" rx="4.5" ry="4.5" stroke="#000" fill="#fff"/>
<path d="M596.5 455.5L617.5 455.5" stroke="#000000" stroke-width="1"/>
<text x="607" y="454.5" font-size="4.6" fill="#000000" font-weight="bold" text-anchor="middle" stroke="#000" stroke-width="0.7">SI</text>
<text x="607" y="459.8" font-size="4.8" fill="#000000" font-weight="bold" text-anchor="middle" stroke="#000" stroke-width="0.7">00000</text>
<rect x="596.5" y="459.5" width="21" height="11" rx="4.5" ry="4.5" stroke="#000" fill="#fff"/>
<path d="M596.5 465.5L617.5 465.5" stroke="#000000" stroke-width="1"/>
<text x="607" y="464.5" font-size="4.6" fill="#000000" font-weight="bold" text-anchor="middle" stroke="#000" stroke-width="0.7">SIC</text>
<text x="607" y="469.8" font-size="4.8" fill="#000000" font-weight="bold" text-anchor="middle" stroke="#000" stroke-width="0.7">00000</text>
<path d="M607.5 470.5L607.5 478" stroke="#000000" stroke-width="1"/>
<text x="589.5" y="493" font-size="4.5" fill="#000000" font-weight="bold" text-anchor="start"  stroke="#000000" stroke-width="0.45">r1 0000</text>
<text x="600" y="517" font-size="4.5" fill="#000000" font-weight="bold" text-anchor="start"  stroke="#000000" stroke-width="0.45">V 0000</text>
<path d="M627.5 505.5L627.5 510" stroke="#ff0000" stroke-width="1"/>
<path d="M625 509.5L630.5 509.5" stroke="#ff0000" stroke-width="1"/>
<text x="623.5" y="514.5" font-size="4" fill="#000000" font-weight="bold" text-anchor="start"  stroke="#000000" stroke-width="0.45">00 0</text>
<text x="623.5" y="519" font-size="4" fill="#000000" font-weight="bold" text-anchor="start"  stroke="#000000" stroke-width="0.45">0VF</text>
<rect x="653.5" y="480.5" width="21" height="11" rx="4.5" ry="4.5" stroke="#000" fill="#fff"/>
<path d="M653.5 486.5L674.5 486.5" stroke="#000000" stroke-width="1"/>
<text x="664" y="485.5" font-size="4.6" fill="#000000" font-weight="bold" text-anchor="middle" stroke="#000" stroke-width="0.7">TI</text>
<text x="664" y="490.8" font-size="4.8" fill="#000000" font-weight="bold" text-anchor="middle" stroke="#000" stroke-width="0.7">00000</text>
<path d="M664.5 491.5L664.5 504" stroke="#000000" stroke-width="1"/>
<rect x="635.5" y="512.5" width="21" height="11" rx="4.5" ry="4.5" stroke="#000" fill="#fff"/>
<path d="M635.5 518.5L656.5 518.5" stroke="#000000" stroke-width="1"/>
<text x="646" y="517.5" font-size="4.6" fill="#000000" font-weight="bold" text-anchor="middle" stroke="#000" stroke-width="0.7">TT</text>
<text x="646" y="522.8" font-size="4.8" fill="#000000" font-weight="bold" text-anchor="middle" stroke="#000" stroke-width="0.7">00000</text>
<path d="M645.5 505.5L645.5 512" stroke="#000000" stroke-width="1"/>
<path d="M645.5 523L645.5 554.5" stroke="#000000" stroke-width="1"/>
<path d="M645.5 567.5L645.5 600" stroke="#000000" stroke-width="1"/>
<rect x="687.5" y="496.5" width="8" height="16" stroke="#00ffff" stroke-width="1" fill="#fff"/>
<path d="M690.5 496.5L690.5 512.5" stroke="#00ffff" stroke-width="1"/>
<path d="M692.5 496.5L692.5 512.5" stroke="#00ffff" stroke-width="1"/>
<circle cx="715.5" cy="504.5" r="10.5" stroke="#00ffff" stroke-width="1" fill="#fff"/>
<path d="M710.5 638L710.5 500.5" stroke="#00ffff" stroke-width="1"/>
<path d="M710.5 500.5L715.5 509.5" stroke="#00ffff" stroke-width="1"/>
<path d="M715.5 509.5L721.5 500.5" stroke="#00ffff" stroke-width="1"/>
<path d="M721.5 500.5L721.5 638" stroke="#00ffff" stroke-width="1"/>
<path d="M674 512.5L679 517.5" stroke="#00ffff" stroke-width="1"/>
<path d="M679 517.5L728.5 517.5" stroke="#00ffff" stroke-width="1"/>
<path d="M728.5 517.5L734.5 512.5" stroke="#00ffff" stroke-width="1"/>
<path d="M695.5 517.5L695.5 548.5" stroke="#00ffff" stroke-width="1"/>
<path d="M695.5 548.5L672 548.5" stroke="#00ffff" stroke-width="1"/>
<path d="M672 544.5 L672 552 L661.5 545.5" stroke="#00ffff" stroke-width="1" fill="none" />
<path d="M661.5 548.5L653.5 548.5" stroke="#00ffff" stroke-width="1"/>
<path d="M653.5 548.5L653.5 553.5" stroke="#00ffff" stroke-width="1"/>
<path d="M661 540.5 L662.5 542 L661 543.5 L659.5 542 Z" stroke="#000000" stroke-width="1" fill="#000000" />
<path d="M661.5 543L661.5 547" stroke="#000000" stroke-width="1"/>
<text x="709.5" y="492.5" font-size="4.5" fill="#000000" font-weight="bold" text-anchor="start"  stroke="#000000" stroke-width="0.45">r 0000</text>
<rect x="651.5" y="553.5" width="6" height="11" stroke="#000000" stroke-width="1" fill="none"/>
<text x="654.25" y="560.8" font-size="3" fill="#000000" font-weight="bold" text-anchor="middle"  stroke="#000000" stroke-width="0.45"></text>
<rect x="652.5" y="555.5" width="4" height="8" stroke="#000000" stroke-width="1" fill="#666"/>
<path d="M653.5 567.5L653.5 573.5" stroke="#00ffff" stroke-width="1"/>
<path d="M651 567.5L653.5 570.5" stroke="#00ffff" stroke-width="1"/>
<path d="M656.5 567.5L653.5 570.5" stroke="#00ffff" stroke-width="1"/>
<path d="M650 578 Q653.5 574.5 657.5 578 Z" fill="#000" stroke="#000"/>
<text x="660.5" y="555" font-size="4" fill="#000000" font-weight="bold" text-anchor="start"  stroke="#000000" stroke-width="0.45">0-0y0</text>
<text x="663" y="559.5" font-size="4" fill="#000000" font-weight="bold" text-anchor="start"  stroke="#000000" stroke-width="0.45">00F</text>
<rect x="747.5" y="496.5" width="26" height="16" stroke="#ff0000" stroke-width="1" fill="#fff"/>
<path d="M754.5 496.5 L748 504.5 L754.5 512.5" stroke="#ff0000" stroke-width="1" fill="none" />
<text x="761.25" y="506.3" font-size="4.5" fill="#000000" font-weight="bold" text-anchor="middle"  stroke="#000000" stroke-width="0.45">r6</text>
<rect x="749.5" y="481.5" width="21" height="11" rx="4.5" ry="4.5" stroke="#000" fill="#fff"/>
<path d="M749.5 487.5L770.5 487.5" stroke="#000000" stroke-width="1"/>
<text x="760" y="486.5" font-size="4.6" fill="#000000" font-weight="bold" text-anchor="middle" stroke="#000" stroke-width="0.7">PDI</text>
<text x="760" y="491.8" font-size="4.8" fill="#000000" font-weight="bold" text-anchor="middle" stroke="#000" stroke-width="0.7">00000</text>
<path d="M749.5 486.5L744.5 486.5" stroke="#000000" stroke-width="1"/>
<path d="M744.5 486.5L744.5 504" stroke="#000000" stroke-width="1"/>
<path d="M770.5 486.5L776.5 486.5" stroke="#000000" stroke-width="1"/>
<path d="M776.5 486.5L776.5 504" stroke="#000000" stroke-width="1"/>
<text x="753.5" y="517" font-size="4.5" fill="#000000" font-weight="bold" text-anchor="start"  stroke="#000000" stroke-width="0.45">F 0000</text>
<text x="753.5" y="522" font-size="4.5" fill="#000000" font-weight="bold" text-anchor="start"  stroke="#000000" stroke-width="0.45">F 0040</text>
<path d="M778.5 501.5 L778.5 508 L781.5 506 L781.5 503.5 Z" stroke="#ff0000" stroke-width="1" fill="#fff" />
<path d="M793 503.5 L793 505.5 L788 505.5 L788 507 L784.5 504.5 L788 502 L788 503.5 Z" stroke="#000000" stroke-width="1" fill="#fff" />
<rect x="794.5" y="501.5" width="12" height="6" stroke="#000000" stroke-width="1" fill="none"/>
<text x="800.25" y="506.05" font-size="4" fill="#000000" font-weight="bold" text-anchor="middle"  stroke="#000000" stroke-width="0.45">0000</text>
<path d="M708 564.5 L713 564.5 L708 574.5 L713 574.5 Z" stroke="#00ffff" stroke-width="1" fill="#fff" />
<rect x="669.5" y="563.5" width="21" height="11" rx="4.5" ry="4.5" stroke="#000" fill="#fff"/>
<path d="M669.5 569.5L690.5 569.5" stroke="#000000" stroke-width="1"/>
<text x="680" y="568.5" font-size="4.6" fill="#000000" font-weight="bold" text-anchor="middle" stroke="#000" stroke-width="0.7">ZS</text>
<text x="680" y="573.8" font-size="4.8" fill="#000000" font-weight="bold" text-anchor="middle" stroke="#000" stroke-width="0.7">00000</text>
<path d="M690 569.5L695 569.5" stroke="#000000" stroke-width="1"/>
<path d="M696.76 566.5 L699.24 566.5 L701 568.26 L701 570.74 L699.24 572.5 L696.76 572.5 L695 570.74 L695 568.26 Z" stroke="#000000" stroke-width="1" fill="#fff" />
<path d="M701 569.5L708 569.5" stroke="#000000" stroke-width="1"/>
<text x="692" y="563" font-size="4.5" fill="#000000" font-weight="bold" text-anchor="start"  stroke="#000000" stroke-width="0.45">V 0000</text>
<text x="696" y="567" font-size="4" fill="#000000" font-weight="bold" text-anchor="start"  stroke="#000000" stroke-width="0.45">00F</text>
<path d="M717 563 L718.5 564.5 L717 566 L715.5 564.5 Z" stroke="#000000" stroke-width="1" fill="#000000" />
<path d="M717 573 L718.5 574.5 L717 576 L715.5 574.5 Z" stroke="#000000" stroke-width="1" fill="#000000" />
<path d="M710.5 564.5L716 564.5" stroke="#000000" stroke-width="1"/>
<path d="M710.5 574.5L716 574.5" stroke="#000000" stroke-width="1"/>
<path d="M710.5 587.5L721.5 587.5" stroke="#00ffff" stroke-width="1"/>
<path d="M718.5 582 L724 582 L721.5 587 L724 592 L718.5 592 L721.5 587 Z" stroke="#00ffff" stroke-width="1" fill="#fff" />
<path d="M716 584.5 L716 589.5 L721 587 Z" stroke="#00ffff" stroke-width="1" fill="#fff" />
<path d="M715 580.5 L716.5 582 L715 583.5 L713.5 582 Z" stroke="#000000" stroke-width="1" fill="#000000" />
<path d="M727 591 L728.5 592.5 L727 594 L725.5 592.5 Z" stroke="#000000" stroke-width="1" fill="#000000" />
<path d="M727 594.5 L728.5 596 L727 597.5 L725.5 596 Z" stroke="#000000" stroke-width="1" fill="#000000" />
<path d="M724 587.5L731 587.5" stroke="#000000" stroke-width="1"/>
<path d="M732.76 583.5 L735.24 583.5 L737 585.26 L737 587.74 L735.24 589.5 L732.76 589.5 L731 587.74 L731 585.26 Z" stroke="#000000" stroke-width="1" fill="#fff" />
<path d="M737 587.5L744.5 587.5" stroke="#000000" stroke-width="1"/>
<path d="M744.5 587L744.5 600" stroke="#000000" stroke-width="1"/>
<path d="M744.5 600.5L684 600.5" stroke="#000000" stroke-width="1"/>
<path d="M645.5 600.5L671 600.5" stroke="#000000" stroke-width="1"/>
<path d="M716.5 592.5L719 592.5" stroke="#000000" stroke-width="1"/>
<path d="M718 592L717 597" stroke="#000000" stroke-width="1"/>
<text x="725" y="581" font-size="4.5" fill="#000000" font-weight="bold" text-anchor="start"  stroke="#000000" stroke-width="0.45">4 V 0000</text>
<text x="733" y="584.5" font-size="4" fill="#000000" font-weight="bold" text-anchor="start"  stroke="#000000" stroke-width="0.45">00F</text>
<rect x="705.5" y="605.5" width="10" height="5" stroke="#00ffff" stroke-width="1" fill="#fff"/>
<path d="M706.5 609.5L714.5 606.5" stroke="#00ffff" stroke-width="1"/>
<path d="M719 604.5 L720.5 606 L719 607.5 L717.5 606 Z" stroke="#000000" stroke-width="1" fill="#000000" />
<path d="M719 609 L720.5 610.5 L719 612 L717.5 610.5 Z" stroke="#000000" stroke-width="1" fill="#000000" />
<path d="M715.5 606.5L718 606.5" stroke="#000000" stroke-width="1"/>
<path d="M715.5 610.5L718 610.5" stroke="#000000" stroke-width="1"/>
<text x="691" y="609.5" font-size="4.5" fill="#000000" font-weight="bold" text-anchor="start"  stroke="#000000" stroke-width="0.45">F 0000</text>
<text x="695" y="613" font-size="4" fill="#000000" font-weight="bold" text-anchor="start"  stroke="#000000" stroke-width="0.45">00F</text>
<path d="M708 621 L713 621 L708 632 L713 632 Z" stroke="#00ffff" stroke-width="1" fill="#fff" />
<path d="M719 621 L724 621 L719 632 L724 632 Z" stroke="#00ffff" stroke-width="1" fill="#fff" />
<path d="M705 626.5L708 626.5" stroke="#000000" stroke-width="1"/>
<path d="M705 624 L703 624 L703 629 L705 629 Q706.5 626.5 705 624" stroke="#000"/>
<path d="M724 626.5L727.5 626.5" stroke="#000000" stroke-width="1"/>
<path d="M730 624 Q727 626.5 730 629" stroke="#000"/>
<path d="M709.5 644.5 L711.5 644.5 L711.5 641 L713 641 L710.5 637.5 L708 641 L709.5 641 Z" stroke="#000000" stroke-width="1" fill="#fff" />
<path d="M720.5 637.5 L722.5 637.5 L722.5 641 L724 641 L721.5 644.5 L719 641 L720.5 641 Z" stroke="#000000" stroke-width="1" fill="#fff" />
<rect x="708.5" y="647.5" width="5" height="10" stroke="#000000" stroke-width="1" fill="#fff"/>
<path d="M711 649L711 656.5" stroke="#000000" stroke-width="2"/>
<rect x="710" y="651" width="1" height="1" stroke="#fff" stroke-width="0" fill="#fff"/>
<rect x="710" y="654" width="1" height="1" stroke="#fff" stroke-width="0" fill="#fff"/>
<rect x="718.5" y="647.5" width="5" height="10" stroke="#000000" stroke-width="1" fill="#fff"/>
<path d="M721 649L721 656.5" stroke="#000000" stroke-width="2"/>
<rect x="720" y="651" width="1" height="1" stroke="#fff" stroke-width="0" fill="#fff"/>
<rect x="720" y="654" width="1" height="1" stroke="#fff" stroke-width="0" fill="#fff"/>
<path d="M832.5 374L832.5 382.5" stroke="#0000ff" stroke-width="1"/>
<path d="M829 374.5L837.5 374.5" stroke="#0000ff" stroke-width="1"/>
<path d="M829 377.5L837.5 377.5" stroke="#0000ff" stroke-width="1"/>
<path d="M837.5 373L837.5 379" stroke="#0000ff" stroke-width="1"/>
<path d="M835 373.5L837.5 373.5" stroke="#0000ff" stroke-width="1"/>
<path d="M835 378.5L837.5 378.5" stroke="#0000ff" stroke-width="1"/>
<path d="M819.5 384.5 L819.5 428 Q819.5 433 827.5 434 L842.5 434 Q850.5 433 850.5 428 L850.5 384.5" stroke="#0000ff" fill="none"/>
<path d="M819.5 384.5 Q820 381 825.5 380.5 L844.5 380.5 Q850 381 850.5 384.5" stroke="#0000ff" fill="none"/>
<ellipse cx="815" cy="384" rx="2" ry="1.5" stroke="#0000ff" fill="#fff"/>
<path d="M817 384.5L819.5 384.5" stroke="#0000ff" stroke-width="1"/>
<path d="M850.5 382.5L854 382.5" stroke="#0000ff" stroke-width="1"/>
<path d="M850.5 386.5L854 386.5" stroke="#0000ff" stroke-width="1"/>
<text x="835" y="397.5" font-size="4.5" fill="#000000" font-weight="bold" text-anchor="middle"  stroke="#000000" stroke-width="0.45">000000</text>
<text x="835" y="402" font-size="4.5" fill="#0000ff" font-weight="bold" text-anchor="middle"  stroke="#0000ff" stroke-width="0.45">V0.00000</text>
<path d="M835.5 434L835.5 451" stroke="#0000ff" stroke-width="1"/>
<path d="M832.5 440 L838.5 440 L832.5 451 L838.5 451 Z" stroke="#0000ff" stroke-width="1" fill="#fff" />
<path d="M829 445.5L834 445.5" stroke="#000000" stroke-width="1"/>
<ellipse cx="827.5" cy="445.5" rx="1.5" ry="2.5" stroke="#000" fill="#fff"/>
<path d="M826 445.5L829 445.5" stroke="#000000" stroke-width="1"/>
<path d="M743.5 644.5L1022 644.5" stroke="#000000" stroke-width="1"/>
<path d="M743.5 644.5L743.5 674" stroke="#000000" stroke-width="1"/>
<path d="M776.5 644.5L776.5 674" stroke="#000000" stroke-width="1"/>
<path d="M843.5 644.5L843.5 674" stroke="#000000" stroke-width="1"/>
<path d="M900.5 644.5L900.5 674" stroke="#000000" stroke-width="1"/>
<path d="M944.5 644.5L944.5 674" stroke="#000000" stroke-width="1"/>
<path d="M925.5 657L925.5 674" stroke="#000000" stroke-width="1"/>
<path d="M997.5 653L997.5 664" stroke="#000000" stroke-width="1"/>
<path d="M743.5 650.5L843.5 650.5" stroke="#000000" stroke-width="1"/>
<path d="M743.5 654.5L843.5 654.5" stroke="#000000" stroke-width="1"/>
<path d="M743.5 659.5L843.5 659.5" stroke="#000000" stroke-width="1"/>
<path d="M743.5 664.5L843.5 664.5" stroke="#000000" stroke-width="1"/>
<path d="M843.5 657.5L925.5 657.5" stroke="#000000" stroke-width="1"/>
<path d="M944 653.5L1022 653.5" stroke="#000000" stroke-width="1"/>
<path d="M944 664.5L1022 664.5" stroke="#000000" stroke-width="1"/>
<text x="745" y="648.5" font-size="4" fill="#000000" font-weight="bold" text-anchor="start"  stroke="#000000" stroke-width="0.45">0000-</text>
<text x="745" y="653.5" font-size="4" fill="#000000" font-weight="bold" text-anchor="start"  stroke="#000000" stroke-width="0.45">0W 00000</text>
<text x="778" y="648.5" font-size="4" fill="#000000" font-weight="bold" text-anchor="start"  stroke="#000000" stroke-width="0.45">000 00-</text>
<text x="778" y="653.5" font-size="4" fill="#000000" font-weight="bold" text-anchor="start"  stroke="#000000" stroke-width="0.45">0W0 000000</text>
<text x="745" y="658" font-size="4" fill="#8000c0" font-weight="bold" text-anchor="start"  stroke="#8000c0" stroke-width="0.45">000-0000</text>
<text x="778" y="658" font-size="4" fill="#8000c0" font-weight="bold" text-anchor="start"  stroke="#8000c0" stroke-width="0.45">000 0, 0W 00000000</text>
<text x="745" y="663" font-size="4" fill="#a06030" font-weight="bold" text-anchor="start"  stroke="#a06030" stroke-width="0.45">00g00</text>
<text x="778" y="663" font-size="4" fill="#a06030" font-weight="bold" text-anchor="start"  stroke="#a06030" stroke-width="0.45">0-0g00-</text>
<text x="745" y="668.5" font-size="4" fill="#ff00ff" font-weight="bold" text-anchor="start"  stroke="#ff00ff" stroke-width="0.45">0d 000-0</text>
<text x="778" y="668.5" font-size="4" fill="#ff00ff" font-weight="bold" text-anchor="start"  stroke="#ff00ff" stroke-width="0.45">000L 0f 000 vlr0v0r,</text>
<text x="778" y="673" font-size="4" fill="#ff00ff" font-weight="bold" text-anchor="start"  stroke="#ff00ff" stroke-width="0.45">000000-00-0-r</text>
<text x="845" y="650.5" font-size="4" fill="#000000" font-weight="bold" text-anchor="start"  stroke="#000000" stroke-width="0.45">0-0-0  0H</text>
<text x="845" y="655.5" font-size="4" fill="#000000" font-weight="bold" text-anchor="start"  stroke="#000000" stroke-width="0.45">0-0-   0HH</text>
<rect x="844" y="657" width="56" height="17" stroke="#000000" stroke-width="0" fill="#000000"/>
<rect x="858" y="666" width="1" height="1" stroke="#fff" stroke-width="0" fill="#fff"/>
<rect x="877" y="667" width="1" height="1" stroke="#fff" stroke-width="0" fill="#fff"/>
<rect x="846" y="670" width="1" height="1" stroke="#fff" stroke-width="0" fill="#fff"/>
<rect x="857" y="672" width="2" height="1" stroke="#fff" stroke-width="0" fill="#fff"/>
<rect x="889" y="665" width="2" height="1" stroke="#fff" stroke-width="0" fill="#fff"/>
<rect x="853" y="667" width="2" height="1" stroke="#fff" stroke-width="0" fill="#fff"/>
<rect x="873" y="669" width="1" height="1" stroke="#fff" stroke-width="0" fill="#fff"/>
<rect x="848" y="669" width="2" height="1" stroke="#fff" stroke-width="0" fill="#fff"/>
<rect x="861" y="659" width="2" height="1" stroke="#fff" stroke-width="0" fill="#fff"/>
<rect x="870" y="669" width="2" height="1" stroke="#fff" stroke-width="0" fill="#fff"/>
<rect x="883" y="671" width="1" height="1" stroke="#fff" stroke-width="0" fill="#fff"/>
<rect x="887" y="665" width="2" height="1" stroke="#fff" stroke-width="0" fill="#fff"/>
<rect x="892" y="660" width="1" height="1" stroke="#fff" stroke-width="0" fill="#fff"/>
<rect x="857" y="672" width="1" height="1" stroke="#fff" stroke-width="0" fill="#fff"/>
<rect x="878" y="663" width="2" height="1" stroke="#fff" stroke-width="0" fill="#fff"/>
<rect x="865" y="663" width="2" height="1" stroke="#fff" stroke-width="0" fill="#fff"/>
<rect x="876" y="671" width="2" height="1" stroke="#fff" stroke-width="0" fill="#fff"/>
<rect x="894" y="670" width="2" height="1" stroke="#fff" stroke-width="0" fill="#fff"/>
<rect x="881" y="661" width="1" height="1" stroke="#fff" stroke-width="0" fill="#fff"/>
<rect x="896" y="671" width="2" height="1" stroke="#fff" stroke-width="0" fill="#fff"/>
<rect x="883" y="661" width="2" height="1" stroke="#fff" stroke-width="0" fill="#fff"/>
<rect x="875" y="662" width="1" height="1" stroke="#fff" stroke-width="0" fill="#fff"/>
<rect x="890" y="672" width="1" height="1" stroke="#fff" stroke-width="0" fill="#fff"/>
<rect x="887" y="664" width="2" height="1" stroke="#fff" stroke-width="0" fill="#fff"/>
<rect x="861" y="669" width="1" height="1" stroke="#fff" stroke-width="0" fill="#fff"/>
<rect x="847" y="667" width="1" height="1" stroke="#fff" stroke-width="0" fill="#fff"/>
<rect x="883" y="663" width="2" height="1" stroke="#fff" stroke-width="0" fill="#fff"/>
<rect x="897" y="666" width="2" height="1" stroke="#fff" stroke-width="0" fill="#fff"/>
<rect x="861" y="660" width="2" height="1" stroke="#fff" stroke-width="0" fill="#fff"/>
<rect x="847" y="661" width="1" height="1" stroke="#fff" stroke-width="0" fill="#fff"/>
<rect x="877" y="661" width="1" height="1" stroke="#fff" stroke-width="0" fill="#fff"/>
<rect x="891" y="663" width="2" height="1" stroke="#fff" stroke-width="0" fill="#fff"/>
<rect x="893" y="664" width="1" height="1" stroke="#fff" stroke-width="0" fill="#fff"/>
<rect x="873" y="668" width="1" height="1" stroke="#fff" stroke-width="0" fill="#fff"/>
<rect x="875" y="667" width="2" height="1" stroke="#fff" stroke-width="0" fill="#fff"/>
<rect x="872" y="665" width="2" height="1" stroke="#fff" stroke-width="0" fill="#fff"/>
<rect x="858" y="663" width="2" height="1" stroke="#fff" stroke-width="0" fill="#fff"/>
<rect x="873" y="666" width="1" height="1" stroke="#fff" stroke-width="0" fill="#fff"/>
<rect x="867" y="667" width="1" height="1" stroke="#fff" stroke-width="0" fill="#fff"/>
<rect x="878" y="667" width="1" height="1" stroke="#fff" stroke-width="0" fill="#fff"/>
<rect x="878" y="665" width="2" height="1" stroke="#fff" stroke-width="0" fill="#fff"/>
<rect x="864" y="668" width="1" height="1" stroke="#fff" stroke-width="0" fill="#fff"/>
<rect x="846" y="659" width="2" height="1" stroke="#fff" stroke-width="0" fill="#fff"/>
<rect x="896" y="662" width="2" height="1" stroke="#fff" stroke-width="0" fill="#fff"/>
<rect x="876" y="663" width="2" height="1" stroke="#fff" stroke-width="0" fill="#fff"/>
<rect x="862" y="664" width="1" height="1" stroke="#fff" stroke-width="0" fill="#fff"/>
<rect x="861" y="664" width="2" height="1" stroke="#fff" stroke-width="0" fill="#fff"/>
<rect x="846" y="666" width="2" height="1" stroke="#fff" stroke-width="0" fill="#fff"/>
<rect x="861" y="662" width="2" height="1" stroke="#fff" stroke-width="0" fill="#fff"/>
<rect x="858" y="661" width="1" height="1" stroke="#fff" stroke-width="0" fill="#fff"/>
<rect x="882" y="660" width="1" height="1" stroke="#fff" stroke-width="0" fill="#fff"/>
<rect x="863" y="670" width="1" height="1" stroke="#fff" stroke-width="0" fill="#fff"/>
<rect x="890" y="661" width="2" height="1" stroke="#fff" stroke-width="0" fill="#fff"/>
<rect x="879" y="671" width="2" height="1" stroke="#fff" stroke-width="0" fill="#fff"/>
<rect x="857" y="660" width="1" height="1" stroke="#fff" stroke-width="0" fill="#fff"/>
<rect x="855" y="670" width="2" height="1" stroke="#fff" stroke-width="0" fill="#fff"/>
<rect x="855" y="662" width="2" height="1" stroke="#fff" stroke-width="0" fill="#fff"/>
<rect x="879" y="670" width="1" height="1" stroke="#fff" stroke-width="0" fill="#fff"/>
<rect x="852" y="663" width="2" height="1" stroke="#fff" stroke-width="0" fill="#fff"/>
<rect x="859" y="663" width="2" height="1" stroke="#fff" stroke-width="0" fill="#fff"/>
<rect x="867" y="664" width="2" height="1" stroke="#fff" stroke-width="0" fill="#fff"/>
<rect x="853" y="659" width="2" height="1" stroke="#fff" stroke-width="0" fill="#fff"/>
<rect x="892" y="672" width="1" height="1" stroke="#fff" stroke-width="0" fill="#fff"/>
<rect x="895" y="671" width="2" height="1" stroke="#fff" stroke-width="0" fill="#fff"/>
<rect x="885" y="670" width="1" height="1" stroke="#fff" stroke-width="0" fill="#fff"/>
<rect x="873" y="663" width="1" height="1" stroke="#fff" stroke-width="0" fill="#fff"/>
<rect x="857" y="659" width="2" height="1" stroke="#fff" stroke-width="0" fill="#fff"/>
<rect x="860" y="670" width="1" height="1" stroke="#fff" stroke-width="0" fill="#fff"/>
<rect x="893" y="668" width="2" height="1" stroke="#fff" stroke-width="0" fill="#fff"/>
<rect x="893" y="671" width="1" height="1" stroke="#fff" stroke-width="0" fill="#fff"/>
<rect x="846" y="669" width="1" height="1" stroke="#fff" stroke-width="0" fill="#fff"/>
<rect x="861" y="668" width="1" height="1" stroke="#fff" stroke-width="0" fill="#fff"/>
<rect x="867" y="672" width="2" height="1" stroke="#fff" stroke-width="0" fill="#fff"/>
<rect x="863" y="662" width="2" height="1" stroke="#fff" stroke-width="0" fill="#fff"/>
<rect x="870" y="669" width="2" height="1" stroke="#fff" stroke-width="0" fill="#fff"/>
<rect x="855" y="666" width="2" height="1" stroke="#fff" stroke-width="0" fill="#fff"/>
<rect x="854" y="670" width="2" height="1" stroke="#fff" stroke-width="0" fill="#fff"/>
<rect x="888" y="670" width="1" height="1" stroke="#fff" stroke-width="0" fill="#fff"/>
<rect x="878" y="671" width="1" height="1" stroke="#fff" stroke-width="0" fill="#fff"/>
<rect x="859" y="662" width="2" height="1" stroke="#fff" stroke-width="0" fill="#fff"/>
<rect x="867" y="665" width="2" height="1" stroke="#fff" stroke-width="0" fill="#fff"/>
<rect x="845" y="659" width="1" height="1" stroke="#fff" stroke-width="0" fill="#fff"/>
<rect x="852" y="659" width="2" height="1" stroke="#fff" stroke-width="0" fill="#fff"/>
<rect x="890" y="660" width="2" height="1" stroke="#fff" stroke-width="0" fill="#fff"/>
<rect x="862" y="663" width="1" height="1" stroke="#fff" stroke-width="0" fill="#fff"/>
<rect x="879" y="667" width="2" height="1" stroke="#fff" stroke-width="0" fill="#fff"/>
<rect x="855" y="663" width="1" height="1" stroke="#fff" stroke-width="0" fill="#fff"/>
<rect x="874" y="669" width="2" height="1" stroke="#fff" stroke-width="0" fill="#fff"/>
<rect x="849" y="661" width="2" height="1" stroke="#fff" stroke-width="0" fill="#fff"/>
<rect x="877" y="669" width="1" height="1" stroke="#fff" stroke-width="0" fill="#fff"/>
<text x="903" y="671" font-size="9" fill="#000000" font-weight="bold" text-anchor="start" textLength="19" lengthAdjust="spacingAndGlyphs" stroke="#000" stroke-width="0.6">ILMC</text>
<text x="945.5" y="650.5" font-size="4" fill="#000000" font-weight="bold" text-anchor="start"  stroke="#000000" stroke-width="0.45">PromedSA</text>
<text x="945.5" y="661" font-size="4" fill="#000000" font-weight="bold" text-anchor="start"  stroke="#000000" stroke-width="0.45">Rev</text>
<text x="960" y="661" font-size="4" fill="#000000" font-weight="bold" text-anchor="start"  stroke="#000000" stroke-width="0.45">12</text>
<text x="999" y="661" font-size="4" fill="#000000" font-weight="bold" text-anchor="start"  stroke="#000000" stroke-width="0.45">Sign  -</text>
<text x="945" y="669" font-size="4" fill="#ffff00" font-weight="bold" text-anchor="start"  stroke="#ffff00" stroke-width="0.45">0000-0</text>
<text x="945" y="673.5" font-size="5" fill="#ffff00" font-weight="bold" text-anchor="start" stroke="#ff0" stroke-width="0.8">000000000000-</text>
<path d="M973.5 617.5 L981.5 626 L973.5 634.5 L965.5 626 Z" stroke="#000000" stroke-width="1" fill="#fff" />
<path d="M981.5 626 L973.5 634.5 L965.5 626 Z" stroke="#000000" stroke-width="1" fill="#000000" />
<text x="985.5" y="624" font-size="7.5" fill="#000000"  text-anchor="start" textLength="40" lengthAdjust="spacingAndGlyphs" stroke="#000" stroke-width="0.2">Promeo S.A</text>
<text x="985.5" y="634.5" font-size="7.5" fill="#000000"  text-anchor="start" textLength="15" lengthAdjust="spacingAndGlyphs" stroke="#000" stroke-width="0.2">Glatt</text>
</g>
</svg>
</body></html>
